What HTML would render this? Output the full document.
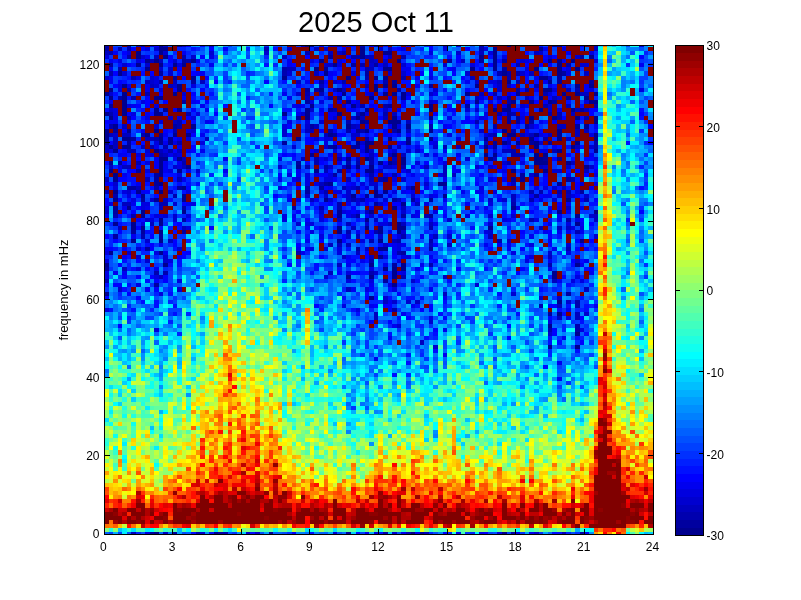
<!DOCTYPE html>
<html><head><meta charset="utf-8"><title>2025 Oct 11</title>
<style>
html,body{margin:0;padding:0;background:#fff;}
body{width:801px;height:600px;overflow:hidden;position:relative;}
svg{position:absolute;left:0;top:0;display:block;}
text{font-family:"Liberation Sans",Arial,sans-serif;font-size:12px;fill:#000;}
</style></head><body>
<svg width="801" height="600" viewBox="0 0 801 600">
<rect width="801" height="600" fill="#fff"/>
<defs><filter id="b" x="0" y="0" width="1" height="1"><feGaussianBlur stdDeviation="0.45"/></filter><clipPath id="c"><rect x="104" y="45" width="549" height="489"/></clipPath></defs>
<g clip-path="url(#c)"><g shape-rendering="crispEdges" filter="url(#b)"><path fill="#00008f" d="M154 532h5v2h-5zM214 532h4v2h-4zM411 532h4v2h-4zM502 532h5v2h-5zM548 345h4v4h-4zM575 345h5v4h-5zM575 332h5v4h-5zM548 324h4v4h-4zM557 312h5v4h-5zM557 300h5v4h-5zM369 296h5v4h-5zM104 292h5v4h-5zM392 283h5v4h-5zM369 275h5v4h-5zM392 275h5v4h-5zM552 275h5v4h-5zM392 271h5v4h-5zM552 271h5v4h-5zM383 267h5v4h-5zM392 267h5v4h-5zM401 267h5v4h-5zM104 263h5v4h-5zM163 263h5v4h-5zM369 263h5v4h-5zM401 263h5v4h-5zM575 263h5v4h-5zM378 255h5v4h-5zM109 251h4v4h-4zM159 251h4v4h-4zM378 247h10v4h-10zM131 239h5v4h-5zM159 239h4v4h-4zM337 239h5v4h-5zM378 239h5v4h-5zM580 239h4v4h-4zM159 230h4v4h-4zM337 230h5v4h-5zM378 230h5v4h-5zM397 230h4v4h-4zM131 226h5v4h-5zM141 226h4v4h-4zM337 226h5v4h-5zM365 226h4v4h-4zM397 226h9v4h-9zM488 226h5v4h-5zM113 222h5v4h-5zM131 222h5v4h-5zM159 222h4v4h-4zM397 222h4v4h-4zM575 222h5v4h-5zM159 218h4v4h-4zM365 218h4v4h-4zM141 214h4v4h-4zM337 214h5v4h-5zM575 214h5v4h-5zM141 210h4v4h-4zM182 210h4v4h-4zM337 210h5v4h-5zM369 210h5v4h-5zM557 210h5v4h-5zM594 210h4v4h-4zM113 206h5v4h-5zM127 206h4v4h-4zM392 206h5v4h-5zM511 206h5v4h-5zM401 202h5v4h-5zM113 198h5v4h-5zM154 198h5v4h-5zM182 198h4v4h-4zM324 198h4v4h-4zM566 198h5v4h-5zM141 194h4v4h-4zM182 194h4v4h-4zM351 194h5v4h-5zM374 194h4v4h-4zM443 194h4v4h-4zM113 190h5v4h-5zM136 190h5v4h-5zM159 190h4v4h-4zM374 190h4v4h-4zM383 190h5v4h-5zM182 186h4v4h-4zM411 186h4v4h-4zM159 182h4v4h-4zM328 182h5v4h-5zM438 182h9v4h-9zM557 182h5v4h-5zM113 177h5v5h-5zM113 173h5v4h-5zM159 173h4v4h-4zM109 169h4v4h-4zM159 169h4v4h-4zM177 169h5v4h-5zM314 169h5v4h-5zM365 169h9v4h-9zM511 169h5v4h-5zM543 169h5v4h-5zM159 165h4v4h-4zM186 165h5v4h-5zM296 165h5v4h-5zM346 165h5v4h-5zM356 165h4v4h-4zM369 165h5v4h-5zM584 165h5v4h-5zM109 161h4v4h-4zM159 161h4v4h-4zM378 161h5v4h-5zM388 161h4v4h-4zM401 161h5v4h-5zM534 161h14v4h-14zM566 161h5v4h-5zM159 157h9v4h-9zM177 157h5v4h-5zM346 157h5v4h-5zM365 157h4v4h-4zM401 157h5v4h-5zM488 157h5v4h-5zM534 157h9v4h-9zM310 153h4v4h-4zM392 153h5v4h-5zM484 153h4v4h-4zM493 153h4v4h-4zM534 153h5v4h-5zM543 153h5v4h-5zM113 149h5v4h-5zM154 149h5v4h-5zM365 149h4v4h-4zM557 149h5v4h-5zM594 149h4v4h-4zM109 145h4v4h-4zM122 145h9v4h-9zM333 145h4v4h-4zM365 145h4v4h-4zM388 145h4v4h-4zM484 145h4v4h-4zM534 145h5v4h-5zM571 145h4v4h-4zM104 141h5v4h-5zM159 141h4v4h-4zM168 141h5v4h-5zM356 141h4v4h-4zM365 141h9v4h-9zM406 141h5v4h-5zM502 141h5v4h-5zM516 141h4v4h-4zM534 141h5v4h-5zM575 141h5v4h-5zM104 137h5v4h-5zM122 137h9v4h-9zM159 137h4v4h-4zM168 137h5v4h-5zM296 137h5v4h-5zM388 137h4v4h-4zM429 137h4v4h-4zM484 137h4v4h-4zM529 137h5v4h-5zM557 137h5v4h-5zM594 137h4v4h-4zM104 133h5v4h-5zM145 133h5v4h-5zM173 133h4v4h-4zM186 133h5v4h-5zM328 133h5v4h-5zM507 133h9v4h-9zM534 133h5v4h-5zM557 133h5v4h-5zM594 133h4v4h-4zM104 129h5v4h-5zM127 129h4v4h-4zM154 129h5v4h-5zM365 129h4v4h-4zM397 129h4v4h-4zM429 129h4v4h-4zM502 129h5v4h-5zM557 129h5v4h-5zM113 124h5v5h-5zM191 124h5v5h-5zM346 124h5v5h-5zM392 124h5v5h-5zM406 124h5v5h-5zM584 124h5v5h-5zM360 120h5v4h-5zM388 120h13v4h-13zM594 120h4v4h-4zM109 116h4v4h-4zM305 116h5v4h-5zM356 116h4v4h-4zM392 116h5v4h-5zM429 116h4v4h-4zM529 116h5v4h-5zM552 116h5v4h-5zM575 116h5v4h-5zM594 116h4v4h-4zM104 112h5v4h-5zM122 112h5v4h-5zM154 112h9v4h-9zM282 112h5v4h-5zM305 112h5v4h-5zM337 112h5v4h-5zM360 112h5v4h-5zM122 108h5v4h-5zM154 108h5v4h-5zM163 108h5v4h-5zM177 108h5v4h-5zM305 108h5v4h-5zM365 108h4v4h-4zM429 108h4v4h-4zM493 108h4v4h-4zM502 108h9v4h-9zM539 108h4v4h-4zM571 108h4v4h-4zM122 104h5v4h-5zM310 104h4v4h-4zM351 104h5v4h-5zM429 104h4v4h-4zM507 104h4v4h-4zM122 100h5v4h-5zM346 100h5v4h-5zM475 100h4v4h-4zM511 100h5v4h-5zM529 100h5v4h-5zM548 100h4v4h-4zM589 100h9v4h-9zM109 96h4v4h-4zM122 96h5v4h-5zM154 96h9v4h-9zM369 96h5v4h-5zM401 96h5v4h-5zM539 96h4v4h-4zM566 96h5v4h-5zM584 96h5v4h-5zM104 92h5v4h-5zM122 92h5v4h-5zM173 92h4v4h-4zM342 92h4v4h-4zM383 92h5v4h-5zM392 92h5v4h-5zM401 92h5v4h-5zM465 92h5v4h-5zM516 92h4v4h-4zM562 92h4v4h-4zM575 92h5v4h-5zM594 92h4v4h-4zM109 88h4v4h-4zM177 88h5v4h-5zM319 88h5v4h-5zM337 88h5v4h-5zM374 88h4v4h-4zM543 88h9v4h-9zM122 84h5v4h-5zM177 84h5v4h-5zM374 84h4v4h-4zM383 84h5v4h-5zM392 84h5v4h-5zM475 84h4v4h-4zM575 84h5v4h-5zM589 84h5v4h-5zM507 80h4v4h-4zM548 80h4v4h-4zM191 76h5v4h-5zM282 76h5v4h-5zM346 76h5v4h-5zM374 76h4v4h-4zM383 76h5v4h-5zM539 76h9v4h-9zM118 71h4v5h-4zM324 71h4v5h-4zM502 71h5v5h-5zM557 71h5v5h-5zM145 67h5v4h-5zM314 67h5v4h-5zM383 67h9v4h-9zM470 67h5v4h-5zM493 67h4v4h-4zM534 67h5v4h-5zM557 67h5v4h-5zM575 67h5v4h-5zM136 63h5v4h-5zM159 63h4v4h-4zM173 63h4v4h-4zM182 63h4v4h-4zM333 63h4v4h-4zM493 63h4v4h-4zM557 63h5v4h-5zM145 59h5v4h-5zM154 59h5v4h-5zM191 59h5v4h-5zM319 59h5v4h-5zM397 59h4v4h-4zM493 59h4v4h-4zM548 59h4v4h-4zM557 59h5v4h-5zM571 59h4v4h-4zM136 55h5v4h-5zM163 55h5v4h-5zM360 55h5v4h-5zM479 55h5v4h-5zM493 55h4v4h-4zM589 55h5v4h-5zM136 51h5v4h-5zM159 51h4v4h-4zM360 51h5v4h-5zM383 51h9v4h-9zM493 51h4v4h-4zM159 47h9v4h-9zM360 47h5v4h-5zM493 47h4v4h-4zM539 47h4v4h-4zM159 45h4v2h-4zM177 45h5v2h-5zM305 45h9v2h-9zM507 45h4v2h-4zM557 45h5v2h-5z"/><path fill="#00009f" d="M150 532h4v2h-4zM173 532h4v2h-4zM269 532h4v2h-4zM346 532h5v2h-5zM420 532h4v2h-4zM548 312h4v4h-4zM566 292h5v4h-5zM154 283h5v4h-5zM383 279h5v4h-5zM346 275h5v4h-5zM104 267h5v4h-5zM392 263h5v4h-5zM401 251h5v4h-5zM145 247h5v4h-5zM356 247h4v4h-4zM429 247h4v4h-4zM113 234h5v5h-5zM159 234h4v5h-4zM131 230h5v4h-5zM141 230h4v4h-4zM182 230h4v4h-4zM378 226h5v4h-5zM566 218h5v4h-5zM356 214h4v4h-4zM401 214h5v4h-5zM429 214h4v4h-4zM113 210h5v4h-5zM374 202h4v4h-4zM141 198h4v4h-4zM392 198h5v4h-5zM411 198h4v4h-4zM429 198h4v4h-4zM365 194h4v4h-4zM378 194h5v4h-5zM534 194h5v4h-5zM305 190h5v4h-5zM580 190h4v4h-4zM127 186h9v4h-9zM177 186h5v4h-5zM319 186h5v4h-5zM154 182h5v4h-5zM324 182h4v4h-4zM154 177h5v5h-5zM383 177h5v5h-5zM511 177h5v5h-5zM520 177h5v5h-5zM566 177h5v5h-5zM154 173h5v4h-5zM333 173h4v4h-4zM520 173h5v4h-5zM534 173h5v4h-5zM136 169h5v4h-5zM118 161h4v4h-4zM296 161h5v4h-5zM543 157h5v4h-5zM557 157h5v4h-5zM328 145h5v4h-5zM351 145h9v4h-9zM493 145h4v4h-4zM127 141h4v4h-4zM282 141h5v4h-5zM493 141h4v4h-4zM529 141h5v4h-5zM548 141h4v4h-4zM131 137h5v4h-5zM406 137h5v4h-5zM159 133h4v4h-4zM333 133h4v4h-4zM113 129h5v4h-5zM356 129h4v4h-4zM173 124h4v5h-4zM310 124h4v5h-4zM525 124h4v5h-4zM575 124h5v5h-5zM365 120h4v4h-4zM507 120h4v4h-4zM516 120h4v4h-4zM529 120h5v4h-5zM296 116h5v4h-5zM507 116h4v4h-4zM516 116h4v4h-4zM507 112h4v4h-4zM328 108h5v4h-5zM580 108h4v4h-4zM109 104h4v4h-4zM388 104h4v4h-4zM465 104h5v4h-5zM182 100h4v4h-4zM305 100h5v4h-5zM552 100h5v4h-5zM337 96h5v4h-5zM507 96h4v4h-4zM305 88h5v4h-5zM516 88h4v4h-4zM429 84h4v4h-4zM191 80h5v4h-5zM319 80h5v4h-5zM392 80h5v4h-5zM557 80h5v4h-5zM589 80h5v4h-5zM173 76h4v4h-4zM557 76h5v4h-5zM159 71h4v5h-4zM365 71h4v5h-4zM562 71h4v5h-4zM324 67h4v4h-4zM502 67h5v4h-5zM109 63h4v4h-4zM351 63h5v4h-5zM374 63h4v4h-4zM182 59h4v4h-4zM447 59h5v4h-5zM479 59h5v4h-5zM502 59h5v4h-5zM328 55h5v4h-5zM580 55h4v4h-4zM104 47h5v4h-5zM552 45h5v2h-5z"/><path fill="#0000af" d="M196 532h4v2h-4zM218 532h10v2h-10zM383 532h5v2h-5zM511 532h5v2h-5zM580 532h4v2h-4zM548 328h4v4h-4zM575 328h5v4h-5zM575 324h5v4h-5zM392 308h5v4h-5zM539 304h4v4h-4zM575 304h5v4h-5zM575 300h5v4h-5zM104 279h5v4h-5zM401 275h5v4h-5zM154 271h5v4h-5zM163 271h5v4h-5zM369 271h5v4h-5zM429 263h4v4h-4zM548 263h4v4h-4zM369 259h5v4h-5zM296 251h5v4h-5zM397 251h4v4h-4zM566 247h5v4h-5zM369 239h5v4h-5zM397 239h4v4h-4zM429 239h4v4h-4zM497 239h5v4h-5zM141 234h4v5h-4zM401 234h5v5h-5zM346 230h5v4h-5zM374 230h4v4h-4zM575 230h5v4h-5zM429 226h4v4h-4zM182 218h4v4h-4zM529 218h5v4h-5zM113 214h5v4h-5zM131 214h5v4h-5zM424 214h5v4h-5zM182 206h4v4h-4zM292 206h4v4h-4zM319 206h5v4h-5zM337 206h5v4h-5zM159 202h9v4h-9zM337 202h5v4h-5zM511 202h5v4h-5zM351 198h5v4h-5zM360 198h5v4h-5zM529 198h5v4h-5zM584 198h5v4h-5zM113 194h5v4h-5zM173 194h4v4h-4zM324 190h4v4h-4zM529 190h5v4h-5zM539 190h4v4h-4zM557 190h5v4h-5zM566 190h5v4h-5zM154 186h5v4h-5zM305 186h5v4h-5zM342 186h4v4h-4zM356 186h4v4h-4zM177 177h5v5h-5zM378 177h5v5h-5zM571 177h4v5h-4zM369 173h5v4h-5zM392 173h5v4h-5zM337 169h5v4h-5zM305 165h5v4h-5zM324 165h4v4h-4zM401 165h5v4h-5zM136 161h5v4h-5zM182 161h4v4h-4zM314 161h5v4h-5zM346 161h5v4h-5zM356 161h4v4h-4zM369 161h5v4h-5zM392 161h5v4h-5zM507 161h4v4h-4zM314 157h5v4h-5zM337 157h5v4h-5zM369 157h5v4h-5zM159 153h4v4h-4zM511 153h9v4h-9zM127 149h9v4h-9zM168 149h5v4h-5zM511 149h5v4h-5zM552 149h5v4h-5zM150 145h4v4h-4zM163 145h5v4h-5zM443 145h4v4h-4zM594 145h4v4h-4zM177 141h5v4h-5zM594 141h4v4h-4zM154 137h5v4h-5zM365 137h4v4h-4zM543 137h5v4h-5zM141 133h4v4h-4zM493 133h4v4h-4zM173 129h4v4h-4zM328 129h5v4h-5zM346 129h5v4h-5zM360 129h5v4h-5zM392 129h5v4h-5zM511 129h5v4h-5zM109 124h4v5h-4zM177 124h5v5h-5zM429 124h4v5h-4zM493 124h4v5h-4zM177 120h5v4h-5zM346 120h5v4h-5zM475 120h4v4h-4zM127 116h4v4h-4zM557 116h5v4h-5zM584 116h5v4h-5zM109 112h4v4h-4zM186 112h5v4h-5zM383 112h5v4h-5zM497 112h5v4h-5zM511 112h5v4h-5zM548 112h4v4h-4zM557 112h5v4h-5zM333 108h4v4h-4zM360 104h5v4h-5zM383 104h5v4h-5zM543 104h5v4h-5zM594 104h4v4h-4zM507 100h4v4h-4zM118 96h4v4h-4zM131 96h5v4h-5zM328 96h5v4h-5zM145 92h5v4h-5zM305 92h5v4h-5zM493 92h4v4h-4zM543 92h5v4h-5zM127 88h4v4h-4zM314 88h5v4h-5zM397 88h4v4h-4zM525 88h4v4h-4zM575 88h5v4h-5zM365 84h4v4h-4zM534 84h5v4h-5zM159 80h4v4h-4zM342 80h4v4h-4zM383 80h5v4h-5zM516 80h4v4h-4zM131 76h5v4h-5zM365 76h4v4h-4zM401 76h5v4h-5zM507 76h4v4h-4zM109 71h4v5h-4zM282 71h5v5h-5zM497 71h5v5h-5zM507 71h4v5h-4zM516 71h4v5h-4zM118 67h4v4h-4zM282 67h5v4h-5zM365 67h4v4h-4zM360 63h5v4h-5zM516 63h4v4h-4zM566 63h5v4h-5zM186 59h5v4h-5zM127 55h4v4h-4zM182 55h4v4h-4zM351 55h9v4h-9zM401 55h5v4h-5zM109 51h4v4h-4zM305 51h5v4h-5zM342 51h4v4h-4zM118 47h4v4h-4zM127 47h4v4h-4zM264 47h5v4h-5zM479 47h5v4h-5zM104 45h5v2h-5zM127 45h4v2h-4zM141 45h4v2h-4zM360 45h5v2h-5zM479 45h5v2h-5z"/><path fill="#0000bf" d="M131 532h5v2h-5zM163 532h5v2h-5zM406 532h5v2h-5zM424 532h5v2h-5zM562 532h4v2h-4zM420 340h4v5h-4zM374 316h4v4h-4zM557 316h5v4h-5zM575 316h5v4h-5zM374 312h4v4h-4zM575 312h5v4h-5zM557 304h5v4h-5zM383 300h5v4h-5zM415 300h5v4h-5zM443 292h4v4h-4zM346 287h5v5h-5zM584 287h5v5h-5zM552 279h5v4h-5zM159 275h4v4h-4zM443 275h4v4h-4zM328 271h5v4h-5zM122 267h5v4h-5zM337 263h5v4h-5zM342 255h4v4h-4zM369 255h5v4h-5zM548 255h4v4h-4zM356 251h4v4h-4zM365 247h4v4h-4zM328 243h5v4h-5zM337 243h5v4h-5zM346 243h5v4h-5zM429 243h4v4h-4zM447 243h5v4h-5zM168 239h5v4h-5zM392 239h5v4h-5zM356 234h4v5h-4zM433 234h5v5h-5zM488 234h5v5h-5zM118 226h4v4h-4zM182 226h4v4h-4zM351 226h5v4h-5zM539 226h4v4h-4zM557 226h5v4h-5zM566 226h5v4h-5zM150 222h4v4h-4zM346 222h5v4h-5zM388 222h4v4h-4zM401 222h5v4h-5zM429 222h4v4h-4zM337 218h5v4h-5zM374 218h4v4h-4zM594 218h4v4h-4zM594 214h4v4h-4zM104 210h5v4h-5zM365 210h4v4h-4zM159 206h4v4h-4zM401 206h5v4h-5zM566 206h5v4h-5zM122 202h9v4h-9zM415 202h5v4h-5zM163 198h5v4h-5zM310 198h4v4h-4zM397 198h4v4h-4zM511 198h5v4h-5zM511 194h5v4h-5zM566 194h5v4h-5zM104 190h5v4h-5zM136 186h5v4h-5zM374 186h4v4h-4zM562 186h4v4h-4zM319 182h5v4h-5zM511 182h5v4h-5zM104 177h5v5h-5zM145 177h5v5h-5zM346 177h5v5h-5zM369 177h5v5h-5zM443 173h4v4h-4zM452 173h4v4h-4zM324 169h4v4h-4zM443 169h4v4h-4zM584 169h5v4h-5zM109 165h4v4h-4zM122 165h9v4h-9zM182 165h4v4h-4zM424 165h5v4h-5zM443 165h4v4h-4zM539 165h4v4h-4zM571 161h4v4h-4zM182 157h4v4h-4zM301 157h4v4h-4zM356 157h4v4h-4zM392 157h5v4h-5zM493 157h4v4h-4zM163 153h5v4h-5zM369 153h5v4h-5zM388 153h4v4h-4zM401 153h5v4h-5zM520 153h5v4h-5zM104 149h5v4h-5zM159 149h4v4h-4zM177 149h5v4h-5zM502 149h9v4h-9zM104 145h5v4h-5zM113 145h5v4h-5zM141 145h4v4h-4zM397 145h4v4h-4zM456 145h5v4h-5zM575 145h5v4h-5zM113 141h5v4h-5zM475 141h4v4h-4zM484 141h4v4h-4zM507 141h4v4h-4zM113 137h5v4h-5zM145 137h9v4h-9zM205 137h4v4h-4zM109 133h4v4h-4zM122 133h9v4h-9zM324 133h4v4h-4zM488 133h5v4h-5zM520 133h5v4h-5zM529 133h5v4h-5zM548 133h4v4h-4zM575 133h5v4h-5zM305 129h9v4h-9zM406 129h5v4h-5zM575 129h5v4h-5zM584 129h5v4h-5zM122 124h5v5h-5zM314 124h5v5h-5zM351 124h5v5h-5zM557 124h9v5h-9zM173 120h4v4h-4zM406 120h5v4h-5zM360 116h5v4h-5zM383 116h5v4h-5zM356 112h4v4h-4zM392 112h5v4h-5zM571 112h4v4h-4zM575 108h5v4h-5zM584 108h5v4h-5zM566 104h5v4h-5zM305 96h5v4h-5zM475 96h4v4h-4zM497 96h5v4h-5zM525 96h4v4h-4zM552 96h5v4h-5zM319 92h5v4h-5zM479 92h5v4h-5zM580 92h9v4h-9zM333 88h4v4h-4zM342 88h4v4h-4zM566 88h5v4h-5zM150 84h4v4h-4zM168 84h5v4h-5zM319 84h5v4h-5zM507 84h4v4h-4zM145 80h5v4h-5zM173 80h4v4h-4zM200 80h5v4h-5zM296 80h5v4h-5zM497 80h5v4h-5zM470 76h5v4h-5zM314 71h5v5h-5zM529 71h5v5h-5zM584 71h5v5h-5zM287 67h9v4h-9zM369 67h5v4h-5zM383 63h5v4h-5zM150 59h4v4h-4zM159 59h4v4h-4zM369 59h5v4h-5zM461 59h4v4h-4zM154 55h5v4h-5zM282 55h5v4h-5zM365 55h9v4h-9zM388 55h4v4h-4zM104 51h5v4h-5zM328 51h5v4h-5zM479 51h5v4h-5zM534 51h5v4h-5zM314 47h5v4h-5zM388 47h4v4h-4zM594 47h4v4h-4zM182 45h4v2h-4zM301 45h4v2h-4zM337 45h5v2h-5zM374 45h4v2h-4zM594 45h4v2h-4z"/><path fill="#0000cf" d="M200 532h5v2h-5zM246 532h4v2h-4zM255 532h5v2h-5zM333 532h4v2h-4zM392 532h5v2h-5zM534 532h5v2h-5zM433 345h5v4h-5zM548 332h4v4h-4zM397 324h4v4h-4zM429 320h4v4h-4zM584 312h5v4h-5zM392 300h5v4h-5zM406 300h5v4h-5zM566 300h5v4h-5zM383 296h5v4h-5zM539 296h4v4h-4zM557 296h5v4h-5zM511 292h5v4h-5zM118 287h4v5h-4zM177 287h5v5h-5zM475 283h4v4h-4zM411 279h4v4h-4zM324 275h4v4h-4zM374 271h4v4h-4zM145 259h5v4h-5zM163 259h5v4h-5zM575 259h5v4h-5zM136 255h5v4h-5zM163 255h5v4h-5zM127 251h4v4h-4zM548 251h4v4h-4zM136 247h5v4h-5zM177 247h5v4h-5zM324 247h4v4h-4zM383 243h5v4h-5zM566 243h5v4h-5zM145 239h5v4h-5zM507 239h4v4h-4zM346 234h5v5h-5zM378 234h5v5h-5zM447 234h5v5h-5zM594 234h4v5h-4zM401 230h5v4h-5zM488 230h5v4h-5zM296 222h5v4h-5zM365 222h4v4h-4zM488 222h5v4h-5zM145 218h5v4h-5zM173 218h4v4h-4zM447 218h5v4h-5zM163 214h5v4h-5zM173 214h4v4h-4zM351 214h5v4h-5zM369 214h5v4h-5zM488 214h5v4h-5zM511 214h5v4h-5zM589 214h5v4h-5zM319 210h5v4h-5zM401 210h5v4h-5zM104 206h5v4h-5zM173 202h4v4h-4zM378 202h5v4h-5zM150 198h4v4h-4zM328 198h5v4h-5zM346 198h5v4h-5zM356 198h4v4h-4zM383 198h5v4h-5zM488 198h5v4h-5zM502 198h5v4h-5zM552 198h5v4h-5zM305 194h5v4h-5zM324 194h4v4h-4zM346 194h5v4h-5zM411 194h4v4h-4zM557 194h5v4h-5zM584 194h5v4h-5zM127 190h4v4h-4zM168 190h5v4h-5zM346 190h5v4h-5zM351 186h5v4h-5zM406 186h5v4h-5zM443 186h4v4h-4zM552 186h5v4h-5zM113 182h5v4h-5zM369 182h9v4h-9zM424 182h5v4h-5zM580 182h4v4h-4zM296 177h5v5h-5zM401 177h5v5h-5zM529 173h5v4h-5zM196 169h4v4h-4zM378 169h5v4h-5zM406 169h5v4h-5zM552 169h10v4h-10zM173 165h4v4h-4zM278 165h4v4h-4zM328 165h5v4h-5zM342 165h4v4h-4zM383 165h9v4h-9zM475 165h4v4h-4zM488 165h5v4h-5zM543 165h5v4h-5zM566 165h5v4h-5zM589 165h5v4h-5zM502 161h5v4h-5zM324 157h4v4h-4zM465 157h5v4h-5zM173 153h4v4h-4zM145 149h5v4h-5zM314 149h5v4h-5zM369 149h5v4h-5zM392 149h5v4h-5zM406 149h5v4h-5zM415 149h5v4h-5zM292 145h4v4h-4zM324 145h4v4h-4zM433 145h5v4h-5zM589 145h5v4h-5zM360 141h5v4h-5zM539 141h4v4h-4zM314 137h5v4h-5zM507 137h4v4h-4zM566 137h5v4h-5zM113 133h5v4h-5zM282 133h5v4h-5zM351 133h9v4h-9zM191 129h5v4h-5zM282 129h5v4h-5zM479 129h5v4h-5zM154 124h5v5h-5zM305 124h5v5h-5zM356 124h4v5h-4zM529 124h5v5h-5zM319 120h5v4h-5zM168 116h5v4h-5zM333 116h4v4h-4zM351 116h5v4h-5zM301 112h4v4h-4zM109 108h4v4h-4zM310 108h4v4h-4zM383 108h5v4h-5zM465 108h5v4h-5zM475 108h4v4h-4zM548 108h4v4h-4zM342 104h4v4h-4zM520 104h5v4h-5zM548 104h4v4h-4zM429 100h4v4h-4zM109 92h4v4h-4zM182 92h4v4h-4zM296 92h5v4h-5zM369 92h5v4h-5zM429 92h4v4h-4zM433 88h5v4h-5zM497 88h5v4h-5zM154 84h5v4h-5zM173 84h4v4h-4zM497 84h5v4h-5zM562 84h4v4h-4zM150 80h4v4h-4zM333 80h4v4h-4zM475 80h4v4h-4zM104 76h5v4h-5zM150 76h4v4h-4zM548 76h4v4h-4zM122 71h5v5h-5zM168 71h5v5h-5zM287 71h5v5h-5zM388 71h4v5h-4zM401 71h5v5h-5zM465 71h5v5h-5zM520 71h5v5h-5zM159 67h4v4h-4zM168 67h5v4h-5zM122 63h5v4h-5zM145 63h5v4h-5zM324 63h9v4h-9zM369 63h5v4h-5zM401 63h5v4h-5zM443 63h4v4h-4zM580 63h9v4h-9zM173 59h4v4h-4zM374 59h4v4h-4zM383 59h5v4h-5zM520 59h5v4h-5zM594 59h4v4h-4zM141 55h4v4h-4zM191 55h5v4h-5zM548 55h4v4h-4zM575 55h5v4h-5zM163 51h5v4h-5zM209 51h5v4h-5zM264 51h5v4h-5zM337 51h5v4h-5zM456 51h5v4h-5zM539 51h4v4h-4zM154 47h5v4h-5zM287 47h5v4h-5zM324 47h4v4h-4zM378 47h5v4h-5zM136 45h5v2h-5zM163 45h5v2h-5zM209 45h5v2h-5zM328 45h9v2h-9zM443 45h4v2h-4z"/><path fill="#0000df" d="M145 532h5v2h-5zM374 532h4v2h-4zM497 532h5v2h-5zM154 328h5v4h-5zM580 328h4v4h-4zM548 320h4v4h-4zM429 316h4v4h-4zM566 316h5v4h-5zM104 308h5v4h-5zM356 308h4v4h-4zM342 304h4v4h-4zM159 292h4v4h-4zM365 287h4v5h-4zM392 287h5v5h-5zM136 283h5v4h-5zM388 283h4v4h-4zM177 279h5v4h-5zM346 279h5v4h-5zM369 279h5v4h-5zM571 279h4v4h-4zM580 279h4v4h-4zM104 275h5v4h-5zM154 275h5v4h-5zM575 275h5v4h-5zM104 271h5v4h-5zM346 271h5v4h-5zM401 271h5v4h-5zM136 267h5v4h-5zM369 267h5v4h-5zM104 259h5v4h-5zM168 259h5v4h-5zM397 259h4v4h-4zM525 259h4v4h-4zM383 255h5v4h-5zM401 255h10v4h-10zM529 255h5v4h-5zM104 251h5v4h-5zM154 251h5v4h-5zM337 251h5v4h-5zM511 251h5v4h-5zM566 251h5v4h-5zM310 247h4v4h-4zM337 247h5v4h-5zM397 247h4v4h-4zM397 243h4v4h-4zM529 243h5v4h-5zM360 239h5v4h-5zM319 234h5v5h-5zM397 234h4v5h-4zM310 230h4v4h-4zM484 230h4v4h-4zM186 226h5v4h-5zM571 226h4v4h-4zM580 226h4v4h-4zM141 222h4v4h-4zM305 222h9v4h-9zM378 222h10v4h-10zM548 222h4v4h-4zM566 222h5v4h-5zM150 218h4v4h-4zM282 218h5v4h-5zM319 218h5v4h-5zM502 218h5v4h-5zM534 218h5v4h-5zM575 218h5v4h-5zM154 214h9v4h-9zM186 214h5v4h-5zM282 214h5v4h-5zM319 214h5v4h-5zM411 214h4v4h-4zM465 214h5v4h-5zM342 210h4v4h-4zM433 210h5v4h-5zM141 206h4v4h-4zM109 202h4v4h-4zM141 202h9v4h-9zM191 202h5v4h-5zM356 202h4v4h-4zM424 202h5v4h-5zM488 202h5v4h-5zM131 198h5v4h-5zM296 198h5v4h-5zM539 198h4v4h-4zM127 194h4v4h-4zM429 194h4v4h-4zM571 194h4v4h-4zM122 190h5v4h-5zM186 190h5v4h-5zM319 190h5v4h-5zM333 190h9v4h-9zM392 190h5v4h-5zM411 190h4v4h-4zM493 190h4v4h-4zM575 190h5v4h-5zM113 186h5v4h-5zM278 186h4v4h-4zM346 186h5v4h-5zM365 186h4v4h-4zM479 186h5v4h-5zM543 186h5v4h-5zM305 182h5v4h-5zM314 182h5v4h-5zM360 182h5v4h-5zM594 182h4v4h-4zM305 177h5v5h-5zM324 177h9v5h-9zM392 177h5v5h-5zM488 177h5v5h-5zM177 173h5v4h-5zM287 173h5v4h-5zM305 173h5v4h-5zM314 173h5v4h-5zM328 173h5v4h-5zM383 173h5v4h-5zM438 173h5v4h-5zM594 173h4v4h-4zM145 169h5v4h-5zM168 169h5v4h-5zM346 169h5v4h-5zM502 169h5v4h-5zM136 165h5v4h-5zM177 165h5v4h-5zM392 165h5v4h-5zM145 161h5v4h-5zM415 161h5v4h-5zM443 161h4v4h-4zM520 161h5v4h-5zM278 157h4v4h-4zM594 157h4v4h-4zM136 153h5v4h-5zM145 153h9v4h-9zM177 153h5v4h-5zM337 153h5v4h-5zM424 153h5v4h-5zM109 149h4v4h-4zM163 149h5v4h-5zM333 149h4v4h-4zM360 149h5v4h-5zM493 149h4v4h-4zM539 149h9v4h-9zM516 145h4v4h-4zM154 141h5v4h-5zM173 141h4v4h-4zM200 141h5v4h-5zM324 141h4v4h-4zM433 141h5v4h-5zM177 137h5v4h-5zM186 137h5v4h-5zM324 137h9v4h-9zM351 137h5v4h-5zM456 137h5v4h-5zM447 133h5v4h-5zM484 133h4v4h-4zM525 133h4v4h-4zM539 133h4v4h-4zM589 133h5v4h-5zM186 129h5v4h-5zM282 124h5v5h-5zM365 124h4v5h-4zM397 124h4v5h-4zM159 120h4v4h-4zM287 120h5v4h-5zM305 120h5v4h-5zM113 116h5v4h-5zM145 116h5v4h-5zM177 116h5v4h-5zM191 116h5v4h-5zM479 116h5v4h-5zM520 116h5v4h-5zM113 112h5v4h-5zM131 112h5v4h-5zM196 112h4v4h-4zM365 112h4v4h-4zM484 112h4v4h-4zM113 108h5v4h-5zM127 104h4v4h-4zM154 104h5v4h-5zM296 104h5v4h-5zM356 104h4v4h-4zM502 104h5v4h-5zM525 104h4v4h-4zM141 100h4v4h-4zM150 100h4v4h-4zM310 100h4v4h-4zM319 100h5v4h-5zM356 100h4v4h-4zM433 100h5v4h-5zM584 100h5v4h-5zM479 96h5v4h-5zM557 96h5v4h-5zM365 92h4v4h-4zM406 92h5v4h-5zM507 92h4v4h-4zM548 92h4v4h-4zM118 88h4v4h-4zM159 88h4v4h-4zM552 88h5v4h-5zM589 88h5v4h-5zM639 88h5v4h-5zM118 84h4v4h-4zM191 84h5v4h-5zM154 80h5v4h-5zM488 80h9v4h-9zM136 76h5v4h-5zM154 76h5v4h-5zM429 76h4v4h-4zM351 71h5v5h-5zM566 71h5v5h-5zM525 67h4v4h-4zM566 67h5v4h-5zM177 63h5v4h-5zM337 63h5v4h-5zM470 63h5v4h-5zM118 59h4v4h-4zM136 59h5v4h-5zM310 59h4v4h-4zM337 59h5v4h-5zM516 59h4v4h-4zM525 59h4v4h-4zM104 55h5v4h-5zM209 55h5v4h-5zM502 55h5v4h-5zM127 51h4v4h-4zM429 51h4v4h-4zM488 51h5v4h-5zM589 51h5v4h-5zM145 47h5v4h-5zM401 47h5v4h-5zM443 47h4v4h-4zM484 47h4v4h-4zM562 47h4v4h-4zM150 45h4v2h-4zM346 45h5v2h-5zM456 45h5v2h-5zM580 45h4v2h-4zM639 45h5v2h-5z"/><path fill="#0000ef" d="M365 532h4v2h-4zM401 532h5v2h-5zM415 532h5v2h-5zM456 532h5v2h-5zM479 532h5v2h-5zM516 532h4v2h-4zM529 532h5v2h-5zM584 532h5v2h-5zM557 377h5v4h-5zM557 361h5v4h-5zM374 357h4v4h-4zM443 353h4v4h-4zM388 336h4v4h-4zM562 336h4v4h-4zM443 328h4v4h-4zM392 324h5v4h-5zM369 320h5v4h-5zM401 312h5v4h-5zM388 308h4v4h-4zM566 308h5v4h-5zM369 304h5v4h-5zM411 304h4v4h-4zM594 304h4v4h-4zM388 300h4v4h-4zM443 296h4v4h-4zM145 287h5v5h-5zM351 287h5v5h-5zM429 287h4v5h-4zM369 283h5v4h-5zM557 279h5v4h-5zM113 271h5v4h-5zM122 271h5v4h-5zM397 271h4v4h-4zM589 271h5v4h-5zM154 267h5v4h-5zM415 267h5v4h-5zM548 267h4v4h-4zM346 263h5v4h-5zM383 263h5v4h-5zM420 263h4v4h-4zM580 263h4v4h-4zM360 259h5v4h-5zM548 259h4v4h-4zM584 259h5v4h-5zM122 255h5v4h-5zM177 255h5v4h-5zM346 255h5v4h-5zM429 255h4v4h-4zM163 251h5v4h-5zM301 251h4v4h-4zM392 251h5v4h-5zM104 247h5v4h-5zM122 247h5v4h-5zM296 247h5v4h-5zM305 247h5v4h-5zM392 247h5v4h-5zM507 247h4v4h-4zM552 247h5v4h-5zM159 243h4v4h-4zM392 243h5v4h-5zM401 243h5v4h-5zM484 243h4v4h-4zM497 243h5v4h-5zM507 243h4v4h-4zM305 239h5v4h-5zM548 239h4v4h-4zM131 234h5v5h-5zM420 234h4v5h-4zM429 234h4v5h-4zM529 234h5v5h-5zM356 230h4v4h-4zM388 230h4v4h-4zM543 230h5v4h-5zM557 230h5v4h-5zM566 230h5v4h-5zM580 230h4v4h-4zM319 226h5v4h-5zM433 222h5v4h-5zM580 222h4v4h-4zM429 218h4v4h-4zM507 218h4v4h-4zM557 218h5v4h-5zM104 214h5v4h-5zM292 214h4v4h-4zM346 214h5v4h-5zM415 214h5v4h-5zM557 214h5v4h-5zM346 210h5v4h-5zM356 210h4v4h-4zM415 210h5v4h-5zM548 210h4v4h-4zM566 210h5v4h-5zM122 206h5v4h-5zM145 206h5v4h-5zM369 206h5v4h-5zM484 206h4v4h-4zM516 206h4v4h-4zM557 206h5v4h-5zM580 206h4v4h-4zM131 202h5v4h-5zM186 202h5v4h-5zM346 202h5v4h-5zM465 202h5v4h-5zM566 202h5v4h-5zM287 198h5v4h-5zM314 198h5v4h-5zM365 198h4v4h-4zM415 198h5v4h-5zM443 198h4v4h-4zM497 198h5v4h-5zM580 198h4v4h-4zM342 194h4v4h-4zM388 194h4v4h-4zM433 194h5v4h-5zM529 194h5v4h-5zM543 194h9v4h-9zM141 190h4v4h-4zM401 190h5v4h-5zM461 190h4v4h-4zM475 190h9v4h-9zM328 186h5v4h-5zM424 186h5v4h-5zM456 186h5v4h-5zM534 186h5v4h-5zM589 186h5v4h-5zM104 182h5v4h-5zM136 182h5v4h-5zM351 182h5v4h-5zM182 177h4v5h-4zM278 177h4v5h-4zM292 177h4v5h-4zM443 177h4v5h-4zM502 177h5v5h-5zM529 177h5v5h-5zM122 173h5v4h-5zM296 173h5v4h-5zM365 173h4v4h-4zM411 173h4v4h-4zM543 173h5v4h-5zM566 173h5v4h-5zM118 169h4v4h-4zM163 169h5v4h-5zM186 169h5v4h-5zM223 169h5v4h-5zM296 169h5v4h-5zM356 169h4v4h-4zM401 169h5v4h-5zM456 169h5v4h-5zM118 165h4v4h-4zM154 165h5v4h-5zM163 165h5v4h-5zM493 165h4v4h-4zM154 161h5v4h-5zM163 161h5v4h-5zM177 161h5v4h-5zM337 161h5v4h-5zM154 157h5v4h-5zM173 157h4v4h-4zM223 157h5v4h-5zM319 157h5v4h-5zM118 153h9v4h-9zM168 153h5v4h-5zM328 153h5v4h-5zM346 153h5v4h-5zM433 153h5v4h-5zM456 153h5v4h-5zM589 153h5v4h-5zM186 149h5v4h-5zM200 149h5v4h-5zM310 149h4v4h-4zM388 149h4v4h-4zM443 149h4v4h-4zM575 149h5v4h-5zM154 145h5v4h-5zM177 145h5v4h-5zM337 145h5v4h-5zM360 145h5v4h-5zM415 145h5v4h-5zM488 145h5v4h-5zM552 145h5v4h-5zM163 141h5v4h-5zM346 141h5v4h-5zM401 141h5v4h-5zM429 141h4v4h-4zM310 137h4v4h-4zM516 137h4v4h-4zM163 133h5v4h-5zM200 133h5v4h-5zM374 133h4v4h-4zM383 133h5v4h-5zM397 133h4v4h-4zM543 133h5v4h-5zM122 129h5v4h-5zM141 129h4v4h-4zM333 129h4v4h-4zM383 129h5v4h-5zM525 129h4v4h-4zM388 124h4v5h-4zM443 124h4v5h-4zM594 124h4v5h-4zM648 124h5v5h-5zM109 120h9v4h-9zM205 120h4v4h-4zM539 120h4v4h-4zM552 120h5v4h-5zM328 116h5v4h-5zM447 116h5v4h-5zM484 116h4v4h-4zM497 116h5v4h-5zM145 112h5v4h-5zM296 112h5v4h-5zM328 112h9v4h-9zM502 112h5v4h-5zM520 112h5v4h-5zM173 108h4v4h-4zM205 108h4v4h-4zM319 108h5v4h-5zM351 108h5v4h-5zM374 108h4v4h-4zM397 108h4v4h-4zM452 108h4v4h-4zM557 108h5v4h-5zM131 104h5v4h-5zM200 104h5v4h-5zM292 104h4v4h-4zM301 104h4v4h-4zM369 104h5v4h-5zM493 104h4v4h-4zM109 100h4v4h-4zM191 100h5v4h-5zM337 100h5v4h-5zM401 100h5v4h-5zM488 100h5v4h-5zM543 100h5v4h-5zM182 96h4v4h-4zM287 96h5v4h-5zM388 96h4v4h-4zM502 96h5v4h-5zM529 96h5v4h-5zM282 92h5v4h-5zM433 92h5v4h-5zM145 88h5v4h-5zM534 88h5v4h-5zM584 88h5v4h-5zM127 84h4v4h-4zM145 84h5v4h-5zM342 84h4v4h-4zM415 84h5v4h-5zM493 84h4v4h-4zM548 84h4v4h-4zM584 84h5v4h-5zM109 80h4v4h-4zM305 80h5v4h-5zM337 80h5v4h-5zM465 80h5v4h-5zM543 80h5v4h-5zM109 76h4v4h-4zM356 76h4v4h-4zM415 76h5v4h-5zM534 76h5v4h-5zM196 71h9v5h-9zM328 71h5v5h-5zM429 71h4v5h-4zM109 67h4v4h-4zM401 67h10v4h-10zM452 67h4v4h-4zM209 63h5v4h-5zM287 63h5v4h-5zM378 63h5v4h-5zM639 63h5v4h-5zM109 59h4v4h-4zM196 59h4v4h-4zM287 59h5v4h-5zM543 59h5v4h-5zM562 59h4v4h-4zM145 55h5v4h-5zM113 51h5v4h-5zM182 51h4v4h-4zM566 51h5v4h-5zM342 47h4v4h-4zM543 47h5v4h-5zM319 45h5v2h-5zM369 45h5v2h-5z"/><path fill="#0000ff" d="M292 532h4v2h-4zM443 532h4v2h-4zM484 532h4v2h-4zM580 340h4v5h-4zM507 336h4v4h-4zM552 332h5v4h-5zM433 328h5v4h-5zM552 328h5v4h-5zM118 324h4v4h-4zM388 320h4v4h-4zM406 316h5v4h-5zM443 316h4v4h-4zM548 316h4v4h-4zM580 316h4v4h-4zM420 308h4v4h-4zM429 308h4v4h-4zM314 304h5v4h-5zM374 304h4v4h-4zM383 304h9v4h-9zM429 304h4v4h-4zM548 304h9v4h-9zM104 296h5v4h-5zM136 296h5v4h-5zM365 296h4v4h-4zM127 292h4v4h-4zM397 292h4v4h-4zM154 287h5v5h-5zM369 287h5v5h-5zM113 283h9v4h-9zM154 279h5v4h-5zM163 279h5v4h-5zM122 275h5v4h-5zM136 275h5v4h-5zM150 275h4v4h-4zM163 275h5v4h-5zM420 275h4v4h-4zM562 275h4v4h-4zM337 271h5v4h-5zM351 271h9v4h-9zM516 271h4v4h-4zM145 267h5v4h-5zM456 267h5v4h-5zM520 267h5v4h-5zM589 267h5v4h-5zM118 263h4v4h-4zM287 263h5v4h-5zM136 259h5v4h-5zM346 259h10v4h-10zM433 259h5v4h-5zM571 259h4v4h-4zM182 255h4v4h-4zM319 255h5v4h-5zM365 255h4v4h-4zM392 255h5v4h-5zM415 255h5v4h-5zM525 255h4v4h-4zM182 251h9v4h-9zM365 251h4v4h-4zM109 247h4v4h-4zM150 247h4v4h-4zM520 247h5v4h-5zM575 247h5v4h-5zM584 247h5v4h-5zM150 243h4v4h-4zM173 243h4v4h-4zM296 243h5v4h-5zM388 243h4v4h-4zM433 243h5v4h-5zM548 243h4v4h-4zM580 243h4v4h-4zM113 239h5v4h-5zM173 239h4v4h-4zM319 239h5v4h-5zM342 239h4v4h-4zM575 239h5v4h-5zM589 239h5v4h-5zM104 234h5v5h-5zM150 234h4v5h-4zM342 234h4v5h-4zM365 234h9v5h-9zM548 234h4v5h-4zM118 230h4v4h-4zM296 230h5v4h-5zM369 230h5v4h-5zM520 230h5v4h-5zM548 230h4v4h-4zM136 226h5v4h-5zM209 226h5v4h-5zM305 226h5v4h-5zM177 222h5v4h-5zM589 222h5v4h-5zM136 218h5v4h-5zM292 218h4v4h-4zM305 218h5v4h-5zM383 218h5v4h-5zM580 218h4v4h-4zM365 214h4v4h-4zM378 214h5v4h-5zM443 214h4v4h-4zM122 210h5v4h-5zM131 210h5v4h-5zM296 210h5v4h-5zM351 210h5v4h-5zM470 210h5v4h-5zM511 210h5v4h-5zM529 210h5v4h-5zM639 210h5v4h-5zM136 206h5v4h-5zM351 206h5v4h-5zM548 206h4v4h-4zM104 202h5v4h-5zM182 202h4v4h-4zM328 202h5v4h-5zM365 202h4v4h-4zM383 202h5v4h-5zM392 202h9v4h-9zM557 202h5v4h-5zM104 198h5v4h-5zM118 198h4v4h-4zM369 198h5v4h-5zM594 198h4v4h-4zM136 194h5v4h-5zM273 194h5v4h-5zM287 194h5v4h-5zM539 194h4v4h-4zM575 194h5v4h-5zM145 190h5v4h-5zM406 190h5v4h-5zM420 190h4v4h-4zM548 190h4v4h-4zM159 186h4v4h-4zM186 186h5v4h-5zM296 186h5v4h-5zM324 186h4v4h-4zM575 186h5v4h-5zM109 182h4v4h-4zM346 182h5v4h-5zM475 182h4v4h-4zM507 182h4v4h-4zM529 182h5v4h-5zM543 182h5v4h-5zM575 182h5v4h-5zM118 177h9v5h-9zM333 177h4v5h-4zM493 177h4v5h-4zM543 177h5v5h-5zM278 173h4v4h-4zM319 173h9v4h-9zM351 173h5v4h-5zM388 173h4v4h-4zM397 173h4v4h-4zM479 173h5v4h-5zM584 173h5v4h-5zM127 169h9v4h-9zM374 169h4v4h-4zM452 169h4v4h-4zM497 169h5v4h-5zM575 169h5v4h-5zM594 169h4v4h-4zM411 165h4v4h-4zM420 165h4v4h-4zM452 165h4v4h-4zM479 165h5v4h-5zM502 165h5v4h-5zM122 161h5v4h-5zM319 161h5v4h-5zM383 161h5v4h-5zM424 161h5v4h-5zM484 161h4v4h-4zM136 157h5v4h-5zM342 157h4v4h-4zM438 157h5v4h-5zM552 157h5v4h-5zM584 157h10v4h-10zM282 153h5v4h-5zM292 153h4v4h-4zM365 153h4v4h-4zM374 153h4v4h-4zM566 153h5v4h-5zM122 149h5v4h-5zM173 149h4v4h-4zM191 149h5v4h-5zM529 149h5v4h-5zM191 145h5v4h-5zM507 145h4v4h-4zM109 141h4v4h-4zM305 141h9v4h-9zM333 141h4v4h-4zM397 141h4v4h-4zM648 141h5v4h-5zM173 137h4v4h-4zM305 137h5v4h-5zM534 137h5v4h-5zM191 133h5v4h-5zM337 133h9v4h-9zM388 133h4v4h-4zM406 133h5v4h-5zM163 129h5v4h-5zM319 129h5v4h-5zM351 129h5v4h-5zM493 129h4v4h-4zM539 129h4v4h-4zM287 124h5v5h-5zM447 124h5v5h-5zM534 124h5v5h-5zM104 120h5v4h-5zM127 120h4v4h-4zM209 120h5v4h-5zM429 120h4v4h-4zM461 120h14v4h-14zM520 120h5v4h-5zM575 120h5v4h-5zM131 116h5v4h-5zM186 116h5v4h-5zM378 116h5v4h-5zM465 116h5v4h-5zM562 116h4v4h-4zM127 112h4v4h-4zM214 112h4v4h-4zM319 112h5v4h-5zM415 112h5v4h-5zM433 112h5v4h-5zM589 112h5v4h-5zM639 112h5v4h-5zM191 108h5v4h-5zM346 108h5v4h-5zM447 108h5v4h-5zM520 108h5v4h-5zM589 108h9v4h-9zM136 104h5v4h-5zM145 104h5v4h-5zM269 104h4v4h-4zM374 104h4v4h-4zM401 104h5v4h-5zM145 100h5v4h-5zM163 100h5v4h-5zM196 100h4v4h-4zM205 100h4v4h-4zM351 100h5v4h-5zM411 100h4v4h-4zM465 100h5v4h-5zM497 100h5v4h-5zM534 100h5v4h-5zM145 96h5v4h-5zM406 96h5v4h-5zM548 96h4v4h-4zM159 92h4v4h-4zM191 92h5v4h-5zM337 92h5v4h-5zM488 92h5v4h-5zM511 92h5v4h-5zM173 88h4v4h-4zM200 88h5v4h-5zM365 88h4v4h-4zM465 88h5v4h-5zM484 88h4v4h-4zM113 84h5v4h-5zM296 84h5v4h-5zM346 84h5v4h-5zM511 84h5v4h-5zM118 80h4v4h-4zM214 80h4v4h-4zM264 80h5v4h-5zM324 80h4v4h-4zM365 80h4v4h-4zM182 76h4v4h-4zM205 76h4v4h-4zM328 76h5v4h-5zM461 76h4v4h-4zM113 71h5v5h-5zM150 71h4v5h-4zM191 71h5v5h-5zM333 71h4v5h-4zM406 71h5v5h-5zM420 71h4v5h-4zM452 71h4v5h-4zM525 71h4v5h-4zM177 67h5v4h-5zM429 67h4v4h-4zM447 67h5v4h-5zM479 67h5v4h-5zM562 67h4v4h-4zM127 63h4v4h-4zM292 63h4v4h-4zM488 63h5v4h-5zM525 63h4v4h-4zM539 63h4v4h-4zM548 63h4v4h-4zM141 59h4v4h-4zM168 59h5v4h-5zM342 59h4v4h-4zM351 59h5v4h-5zM456 59h5v4h-5zM529 59h5v4h-5zM168 55h5v4h-5zM200 55h5v4h-5zM305 55h5v4h-5zM346 55h5v4h-5zM383 55h5v4h-5zM456 55h5v4h-5zM543 55h5v4h-5zM552 55h5v4h-5zM639 55h5v4h-5zM122 51h5v4h-5zM131 47h5v4h-5zM141 47h4v4h-4zM209 47h5v4h-5zM223 47h5v4h-5zM397 47h4v4h-4zM429 47h4v4h-4zM465 47h5v4h-5zM154 45h5v2h-5zM186 45h5v2h-5zM406 45h5v2h-5zM429 45h4v2h-4z"/><path fill="#0010ff" d="M191 532h5v2h-5zM209 532h5v2h-5zM250 532h5v2h-5zM310 532h4v2h-4zM356 532h4v2h-4zM378 532h5v2h-5zM552 532h10v2h-10zM392 373h5v4h-5zM543 365h5v4h-5zM406 361h5v4h-5zM406 353h5v4h-5zM433 349h5v4h-5zM575 349h5v4h-5zM548 340h4v5h-4zM557 340h5v5h-5zM424 336h5v4h-5zM548 336h4v4h-4zM575 336h5v4h-5zM388 332h4v4h-4zM433 332h5v4h-5zM584 332h5v4h-5zM507 324h4v4h-4zM580 320h4v4h-4zM397 316h4v4h-4zM173 312h4v4h-4zM356 312h4v4h-4zM438 312h5v4h-5zM516 312h4v4h-4zM562 312h4v4h-4zM109 308h4v4h-4zM131 308h5v4h-5zM351 308h5v4h-5zM557 308h5v4h-5zM584 308h5v4h-5zM154 304h5v4h-5zM173 304h4v4h-4zM415 304h5v4h-5zM566 304h5v4h-5zM584 304h5v4h-5zM141 300h4v4h-4zM154 300h5v4h-5zM443 300h4v4h-4zM342 296h4v4h-4zM374 296h4v4h-4zM388 296h4v4h-4zM406 296h9v4h-9zM420 296h4v4h-4zM580 296h4v4h-4zM168 292h5v4h-5zM365 292h4v4h-4zM497 292h5v4h-5zM122 287h5v5h-5zM388 287h4v5h-4zM411 287h4v5h-4zM539 287h4v5h-4zM104 283h5v4h-5zM127 283h4v4h-4zM401 283h5v4h-5zM566 283h5v4h-5zM145 279h5v4h-5zM351 279h5v4h-5zM415 279h5v4h-5zM447 279h5v4h-5zM539 275h4v4h-4zM310 271h4v4h-4zM360 271h9v4h-9zM383 271h5v4h-5zM429 271h4v4h-4zM575 271h5v4h-5zM131 267h5v4h-5zM314 267h5v4h-5zM337 267h5v4h-5zM484 267h4v4h-4zM584 267h5v4h-5zM168 263h5v4h-5zM177 263h5v4h-5zM314 263h5v4h-5zM356 263h4v4h-4zM571 263h4v4h-4zM122 259h5v4h-5zM177 259h5v4h-5zM365 259h4v4h-4zM429 259h4v4h-4zM443 259h4v4h-4zM580 259h4v4h-4zM127 255h4v4h-4zM351 255h9v4h-9zM378 251h5v4h-5zM113 247h5v4h-5zM141 247h4v4h-4zM173 247h4v4h-4zM346 247h5v4h-5zM374 247h4v4h-4zM488 247h5v4h-5zM594 247h4v4h-4zM145 243h5v4h-5zM378 243h5v4h-5zM525 243h4v4h-4zM305 234h5v5h-5zM328 234h5v5h-5zM392 234h5v5h-5zM520 234h5v5h-5zM557 234h5v5h-5zM145 230h9v4h-9zM173 230h4v4h-4zM319 230h5v4h-5zM447 230h5v4h-5zM534 230h5v4h-5zM150 226h4v4h-4zM159 226h4v4h-4zM177 226h5v4h-5zM314 226h5v4h-5zM470 226h5v4h-5zM507 226h4v4h-4zM118 222h4v4h-4zM173 222h4v4h-4zM337 222h5v4h-5zM351 222h5v4h-5zM374 222h4v4h-4zM543 222h5v4h-5zM141 218h4v4h-4zM186 218h5v4h-5zM324 218h4v4h-4zM356 218h4v4h-4zM511 218h5v4h-5zM548 218h4v4h-4zM118 214h4v4h-4zM127 214h4v4h-4zM150 214h4v4h-4zM333 214h4v4h-4zM383 214h5v4h-5zM502 214h5v4h-5zM443 210h4v4h-4zM484 210h9v4h-9zM502 210h5v4h-5zM305 206h5v4h-5zM314 206h5v4h-5zM397 206h4v4h-4zM438 206h5v4h-5zM475 206h4v4h-4zM534 206h5v4h-5zM310 202h4v4h-4zM319 202h9v4h-9zM411 202h4v4h-4zM520 202h5v4h-5zM529 202h5v4h-5zM589 202h9v4h-9zM127 198h4v4h-4zM168 198h5v4h-5zM333 198h4v4h-4zM374 198h4v4h-4zM401 198h5v4h-5zM479 198h5v4h-5zM534 198h5v4h-5zM154 194h5v4h-5zM360 194h5v4h-5zM479 194h5v4h-5zM497 194h5v4h-5zM131 190h5v4h-5zM182 190h4v4h-4zM433 190h5v4h-5zM594 190h4v4h-4zM150 186h4v4h-4zM173 186h4v4h-4zM282 186h5v4h-5zM360 186h5v4h-5zM557 186h5v4h-5zM566 186h5v4h-5zM639 186h5v4h-5zM131 182h5v4h-5zM145 182h5v4h-5zM177 182h5v4h-5zM186 182h5v4h-5zM196 182h4v4h-4zM287 182h5v4h-5zM392 182h5v4h-5zM539 182h4v4h-4zM127 177h9v5h-9zM173 177h4v5h-4zM356 177h4v5h-4zM424 177h5v5h-5zM475 177h4v5h-4zM575 177h5v5h-5zM127 173h4v4h-4zM145 173h5v4h-5zM163 173h14v4h-14zM196 173h4v4h-4zM374 173h4v4h-4zM406 173h5v4h-5zM502 173h5v4h-5zM328 169h5v4h-5zM520 169h5v4h-5zM566 169h5v4h-5zM351 165h5v4h-5zM378 165h5v4h-5zM594 165h4v4h-4zM104 161h5v4h-5zM141 161h4v4h-4zM305 161h5v4h-5zM324 161h4v4h-4zM438 161h5v4h-5zM594 161h4v4h-4zM292 157h4v4h-4zM328 157h5v4h-5zM456 157h5v4h-5zM520 157h5v4h-5zM571 157h4v4h-4zM127 153h4v4h-4zM196 153h4v4h-4zM287 153h5v4h-5zM360 153h5v4h-5zM118 149h4v4h-4zM420 149h4v4h-4zM406 145h5v4h-5zM502 145h5v4h-5zM557 145h5v4h-5zM566 145h5v4h-5zM580 145h4v4h-4zM131 141h5v4h-5zM141 141h4v4h-4zM383 141h5v4h-5zM626 141h4v4h-4zM163 137h5v4h-5zM319 137h5v4h-5zM369 137h5v4h-5zM433 137h5v4h-5zM488 137h5v4h-5zM502 137h5v4h-5zM287 133h5v4h-5zM365 133h4v4h-4zM392 133h5v4h-5zM168 129h5v4h-5zM205 129h4v4h-4zM369 129h5v4h-5zM461 129h4v4h-4zM594 129h4v4h-4zM104 124h5v5h-5zM333 124h4v5h-4zM475 124h4v5h-4zM516 124h4v5h-4zM145 120h5v4h-5zM182 120h4v4h-4zM191 120h5v4h-5zM438 120h5v4h-5zM452 120h4v4h-4zM543 120h5v4h-5zM141 116h4v4h-4zM282 116h5v4h-5zM397 116h4v4h-4zM475 116h4v4h-4zM580 116h4v4h-4zM639 116h5v4h-5zM150 112h4v4h-4zM452 112h4v4h-4zM525 112h4v4h-4zM104 108h5v4h-5zM141 108h4v4h-4zM282 108h10v4h-10zM296 108h5v4h-5zM356 108h4v4h-4zM378 108h5v4h-5zM388 108h4v4h-4zM511 108h9v4h-9zM639 108h5v4h-5zM223 104h5v4h-5zM328 104h5v4h-5zM346 104h5v4h-5zM447 104h5v4h-5zM475 104h4v4h-4zM484 104h4v4h-4zM580 104h4v4h-4zM369 100h5v4h-5zM479 100h5v4h-5zM566 100h5v4h-5zM127 96h4v4h-4zM191 96h5v4h-5zM324 96h4v4h-4zM346 96h5v4h-5zM447 96h5v4h-5zM484 96h4v4h-4zM493 96h4v4h-4zM113 92h5v4h-5zM136 92h5v4h-5zM209 92h5v4h-5zM333 92h4v4h-4zM351 92h5v4h-5zM552 92h5v4h-5zM186 88h5v4h-5zM328 88h5v4h-5zM383 88h5v4h-5zM443 88h4v4h-4zM520 88h5v4h-5zM205 84h4v4h-4zM324 84h4v4h-4zM406 84h5v4h-5zM552 84h5v4h-5zM122 80h5v4h-5zM282 80h5v4h-5zM314 80h5v4h-5zM374 80h4v4h-4zM401 80h10v4h-10zM525 80h4v4h-4zM534 80h5v4h-5zM127 76h4v4h-4zM301 76h4v4h-4zM443 76h4v4h-4zM525 76h4v4h-4zM141 71h4v5h-4zM177 71h5v5h-5zM319 71h5v5h-5zM539 71h4v5h-4zM301 67h4v4h-4zM337 67h5v4h-5zM360 67h5v4h-5zM378 67h5v4h-5zM118 63h4v4h-4zM131 63h5v4h-5zM168 63h5v4h-5zM264 63h5v4h-5zM388 63h4v4h-4zM406 63h5v4h-5zM475 63h4v4h-4zM511 63h5v4h-5zM113 59h5v4h-5zM314 59h5v4h-5zM475 59h4v4h-4zM497 59h5v4h-5zM122 55h5v4h-5zM447 55h5v4h-5zM488 55h5v4h-5zM525 51h4v4h-4zM191 47h5v4h-5zM273 47h5v4h-5zM392 47h5v4h-5zM200 45h5v2h-5zM351 45h5v2h-5zM383 45h5v2h-5zM539 45h4v2h-4zM562 45h4v2h-4z"/><path fill="#0020ff" d="M136 532h5v2h-5zM429 532h4v2h-4zM447 532h5v2h-5zM470 532h5v2h-5zM566 532h5v2h-5zM406 373h5v4h-5zM420 353h4v4h-4zM548 353h4v4h-4zM548 349h4v4h-4zM433 336h5v4h-5zM580 336h4v4h-4zM177 332h5v4h-5zM406 332h5v4h-5zM562 328h4v4h-4zM388 324h4v4h-4zM420 324h4v4h-4zM562 324h4v4h-4zM168 320h5v4h-5zM397 320h4v4h-4zM127 316h4v4h-4zM411 316h4v4h-4zM507 316h4v4h-4zM552 316h5v4h-5zM186 312h5v4h-5zM406 312h5v4h-5zM150 308h4v4h-4zM319 308h5v4h-5zM369 308h5v4h-5zM575 308h9v4h-9zM127 304h4v4h-4zM443 304h4v4h-4zM497 304h5v4h-5zM589 304h5v4h-5zM168 300h5v4h-5zM369 300h9v4h-9zM118 292h4v4h-4zM154 292h5v4h-5zM337 292h5v4h-5zM374 292h4v4h-4zM456 292h5v4h-5zM168 287h5v5h-5zM342 287h4v5h-4zM488 287h5v5h-5zM511 287h5v5h-5zM543 287h5v5h-5zM552 287h5v5h-5zM360 283h5v4h-5zM397 283h4v4h-4zM433 283h5v4h-5zM456 283h5v4h-5zM557 283h5v4h-5zM571 283h4v4h-4zM589 283h5v4h-5zM159 279h4v4h-4zM282 279h5v4h-5zM365 279h4v4h-4zM575 279h5v4h-5zM584 279h5v4h-5zM328 275h5v4h-5zM388 275h4v4h-4zM415 275h5v4h-5zM548 275h4v4h-4zM580 275h4v4h-4zM388 271h4v4h-4zM433 271h5v4h-5zM502 271h5v4h-5zM127 267h4v4h-4zM163 267h5v4h-5zM420 267h4v4h-4zM429 267h4v4h-4zM438 267h5v4h-5zM525 267h4v4h-4zM127 263h4v4h-4zM296 263h5v4h-5zM324 263h9v4h-9zM296 259h5v4h-5zM456 259h5v4h-5zM488 259h5v4h-5zM497 259h5v4h-5zM104 255h5v4h-5zM154 255h5v4h-5zM282 255h5v4h-5zM324 255h4v4h-4zM397 255h4v4h-4zM502 255h5v4h-5zM562 255h4v4h-4zM141 251h9v4h-9zM305 251h5v4h-5zM383 251h5v4h-5zM415 251h5v4h-5zM429 251h9v4h-9zM557 251h5v4h-5zM575 251h5v4h-5zM127 247h4v4h-4zM282 247h5v4h-5zM406 247h5v4h-5zM484 247h4v4h-4zM539 247h4v4h-4zM109 243h4v4h-4zM136 243h5v4h-5zM168 243h5v4h-5zM488 243h5v4h-5zM589 243h5v4h-5zM109 239h4v4h-4zM118 239h9v4h-9zM186 239h5v4h-5zM447 239h5v4h-5zM109 234h4v5h-4zM337 234h5v5h-5zM456 234h5v5h-5zM484 234h4v5h-4zM507 234h4v5h-4zM575 234h5v5h-5zM305 230h5v4h-5zM424 230h5v4h-5zM433 230h5v4h-5zM571 230h4v4h-4zM168 226h5v4h-5zM324 226h4v4h-4zM333 226h4v4h-4zM589 226h5v4h-5zM109 222h4v4h-4zM122 222h5v4h-5zM136 222h5v4h-5zM484 222h4v4h-4zM525 222h4v4h-4zM113 218h5v4h-5zM154 218h5v4h-5zM360 218h5v4h-5zM401 218h5v4h-5zM488 218h5v4h-5zM626 218h4v4h-4zM182 214h4v4h-4zM301 214h4v4h-4zM388 214h4v4h-4zM397 214h4v4h-4zM520 214h5v4h-5zM534 214h5v4h-5zM292 210h4v4h-4zM314 210h5v4h-5zM397 210h4v4h-4zM406 210h5v4h-5zM534 210h5v4h-5zM131 206h5v4h-5zM186 206h5v4h-5zM209 206h5v4h-5zM324 206h4v4h-4zM333 206h4v4h-4zM342 206h4v4h-4zM383 206h5v4h-5zM443 206h4v4h-4zM529 206h5v4h-5zM333 202h4v4h-4zM360 202h5v4h-5zM443 202h4v4h-4zM122 194h5v4h-5zM278 194h4v4h-4zM319 194h5v4h-5zM337 194h5v4h-5zM356 194h4v4h-4zM415 194h5v4h-5zM424 194h5v4h-5zM516 194h4v4h-4zM580 194h4v4h-4zM378 190h5v4h-5zM388 190h4v4h-4zM443 190h4v4h-4zM507 190h4v4h-4zM525 190h4v4h-4zM571 190h4v4h-4zM589 190h5v4h-5zM109 186h4v4h-4zM168 186h5v4h-5zM333 186h4v4h-4zM548 186h4v4h-4zM292 182h4v4h-4zM406 182h9v4h-9zM484 182h4v4h-4zM644 182h4v4h-4zM163 177h5v5h-5zM186 177h5v5h-5zM319 177h5v5h-5zM337 177h5v5h-5zM365 177h4v5h-4zM406 177h14v5h-14zM479 177h5v5h-5zM539 177h4v5h-4zM150 173h4v4h-4zM209 173h5v4h-5zM223 173h5v4h-5zM360 173h5v4h-5zM415 173h9v4h-9zM470 173h9v4h-9zM488 173h5v4h-5zM644 173h4v4h-4zM287 169h5v4h-5zM360 169h5v4h-5zM475 169h4v4h-4zM589 169h5v4h-5zM113 165h5v4h-5zM319 165h5v4h-5zM360 165h9v4h-9zM507 165h9v4h-9zM571 165h4v4h-4zM639 165h5v4h-5zM127 161h4v4h-4zM168 161h5v4h-5zM196 161h4v4h-4zM374 161h4v4h-4zM488 161h5v4h-5zM584 161h5v4h-5zM118 157h4v4h-4zM351 157h5v4h-5zM374 157h4v4h-4zM502 157h5v4h-5zM109 153h4v4h-4zM214 153h4v4h-4zM278 153h4v4h-4zM497 153h5v4h-5zM589 149h5v4h-5zM136 145h5v4h-5zM255 145h5v4h-5zM392 145h5v4h-5zM411 145h4v4h-4zM479 145h5v4h-5zM520 145h5v4h-5zM543 145h5v4h-5zM122 141h5v4h-5zM314 141h5v4h-5zM415 141h5v4h-5zM644 141h4v4h-4zM136 137h5v4h-5zM552 137h5v4h-5zM571 137h4v4h-4zM168 133h5v4h-5zM305 133h5v4h-5zM360 133h5v4h-5zM369 133h5v4h-5zM415 133h5v4h-5zM136 129h5v4h-5zM200 129h5v4h-5zM301 129h4v4h-4zM342 129h4v4h-4zM378 129h5v4h-5zM438 129h5v4h-5zM488 129h5v4h-5zM497 129h5v4h-5zM529 129h10v4h-10zM589 129h5v4h-5zM118 124h4v5h-4zM452 124h4v5h-4zM511 124h5v5h-5zM589 124h5v5h-5zM141 120h4v4h-4zM296 120h5v4h-5zM356 120h4v4h-4zM497 120h5v4h-5zM580 120h4v4h-4zM223 116h5v4h-5zM310 116h4v4h-4zM319 116h5v4h-5zM342 116h4v4h-4zM163 112h5v4h-5zM191 112h5v4h-5zM310 112h4v4h-4zM378 112h5v4h-5zM443 112h4v4h-4zM562 112h4v4h-4zM136 108h5v4h-5zM150 108h4v4h-4zM415 108h5v4h-5zM534 108h5v4h-5zM104 100h5v4h-5zM136 100h5v4h-5zM388 100h4v4h-4zM456 100h5v4h-5zM113 96h5v4h-5zM200 96h5v4h-5zM246 96h4v4h-4zM314 96h5v4h-5zM397 96h4v4h-4zM429 96h4v4h-4zM594 96h4v4h-4zM269 92h4v4h-4zM292 92h4v4h-4zM378 92h5v4h-5zM534 92h5v4h-5zM282 88h5v4h-5zM292 88h4v4h-4zM470 88h5v4h-5zM159 84h4v4h-4zM301 84h4v4h-4zM310 84h4v4h-4zM529 84h5v4h-5zM566 84h5v4h-5zM131 80h5v4h-5zM228 80h4v4h-4zM356 80h9v4h-9zM378 80h5v4h-5zM415 80h5v4h-5zM452 80h4v4h-4zM461 80h4v4h-4zM122 76h5v4h-5zM159 76h4v4h-4zM305 76h5v4h-5zM447 76h5v4h-5zM465 76h5v4h-5zM516 76h4v4h-4zM127 71h4v5h-4zM246 71h4v5h-4zM305 71h5v5h-5zM337 71h5v5h-5zM411 71h4v5h-4zM493 71h4v5h-4zM543 71h5v5h-5zM141 67h4v4h-4zM333 67h4v4h-4zM351 67h5v4h-5zM415 67h5v4h-5zM475 67h4v4h-4zM594 67h4v4h-4zM163 63h5v4h-5zM196 63h4v4h-4zM273 63h5v4h-5zM310 63h4v4h-4zM429 63h4v4h-4zM456 63h5v4h-5zM479 63h5v4h-5zM177 59h5v4h-5zM205 59h4v4h-4zM360 59h5v4h-5zM401 59h5v4h-5zM264 55h5v4h-5zM287 55h5v4h-5zM424 55h9v4h-9zM154 51h5v4h-5zM173 51h4v4h-4zM186 51h5v4h-5zM319 51h5v4h-5zM369 51h5v4h-5zM401 51h10v4h-10zM475 51h4v4h-4zM502 51h5v4h-5zM543 51h5v4h-5zM594 51h4v4h-4zM644 51h4v4h-4zM113 47h5v4h-5zM177 47h9v4h-9zM196 47h4v4h-4zM246 47h4v4h-4zM310 47h4v4h-4zM337 47h5v4h-5zM351 47h5v4h-5zM420 47h4v4h-4zM580 47h4v4h-4zM264 45h5v2h-5zM424 45h5v2h-5z"/><path fill="#0030ff" d="M232 532h5v2h-5zM287 532h5v2h-5zM465 532h5v2h-5zM520 532h5v2h-5zM539 532h4v2h-4zM575 532h5v2h-5zM351 406h5v4h-5zM566 381h5v4h-5zM424 357h5v4h-5zM360 353h5v4h-5zM420 349h4v4h-4zM365 345h4v4h-4zM374 345h4v4h-4zM342 340h4v5h-4zM365 340h4v5h-4zM456 340h5v5h-5zM575 340h5v5h-5zM589 340h5v5h-5zM429 336h4v4h-4zM557 336h5v4h-5zM351 332h5v4h-5zM429 332h4v4h-4zM488 332h5v4h-5zM360 328h5v4h-5zM397 328h4v4h-4zM356 324h4v4h-4zM374 324h4v4h-4zM415 324h5v4h-5zM429 324h4v4h-4zM529 324h5v4h-5zM584 324h5v4h-5zM127 320h4v4h-4zM365 320h4v4h-4zM470 320h5v4h-5zM571 320h4v4h-4zM465 316h5v4h-5zM168 312h5v4h-5zM447 312h5v4h-5zM397 308h4v4h-4zM411 308h4v4h-4zM443 308h4v4h-4zM511 308h5v4h-5zM562 308h4v4h-4zM594 308h4v4h-4zM319 304h5v4h-5zM392 304h5v4h-5zM470 304h5v4h-5zM342 300h4v4h-4zM378 300h5v4h-5zM571 300h4v4h-4zM584 300h5v4h-5zM594 300h4v4h-4zM118 296h4v4h-4zM173 296h4v4h-4zM319 296h5v4h-5zM433 296h5v4h-5zM456 296h5v4h-5zM497 296h5v4h-5zM552 296h5v4h-5zM575 296h5v4h-5zM356 292h4v4h-4zM539 292h4v4h-4zM104 287h5v5h-5zM127 287h4v5h-4zM525 287h4v5h-4zM557 287h5v5h-5zM150 283h4v4h-4zM168 283h5v4h-5zM314 279h5v4h-5zM324 279h4v4h-4zM360 279h5v4h-5zM388 279h4v4h-4zM118 275h4v4h-4zM333 275h4v4h-4zM360 275h5v4h-5zM644 275h4v4h-4zM150 271h4v4h-4zM415 271h5v4h-5zM562 271h4v4h-4zM109 267h4v4h-4zM150 267h4v4h-4zM168 267h5v4h-5zM177 267h5v4h-5zM328 267h5v4h-5zM346 267h5v4h-5zM360 267h5v4h-5zM378 267h5v4h-5zM566 267h9v4h-9zM154 263h5v4h-5zM360 263h5v4h-5zM433 263h5v4h-5zM493 263h4v4h-4zM534 263h5v4h-5zM644 263h4v4h-4zM141 259h4v4h-4zM342 259h4v4h-4zM378 259h10v4h-10zM392 259h5v4h-5zM479 259h5v4h-5zM511 259h5v4h-5zM529 259h5v4h-5zM552 259h5v4h-5zM109 255h4v4h-4zM433 255h5v4h-5zM543 255h5v4h-5zM552 255h5v4h-5zM571 255h4v4h-4zM424 251h5v4h-5zM529 251h5v4h-5zM360 247h5v4h-5zM529 247h5v4h-5zM589 247h5v4h-5zM154 243h5v4h-5zM305 243h5v4h-5zM360 243h5v4h-5zM511 243h5v4h-5zM575 243h5v4h-5zM141 239h4v4h-4zM346 239h10v4h-10zM433 239h5v4h-5zM484 239h9v4h-9zM118 234h4v5h-4zM136 234h5v5h-5zM177 234h9v5h-9zM333 234h4v5h-4zM406 234h5v5h-5zM443 234h4v5h-4zM511 234h5v5h-5zM552 234h5v5h-5zM580 234h4v5h-4zM589 234h5v5h-5zM360 230h5v4h-5zM429 230h4v4h-4zM507 230h4v4h-4zM525 230h4v4h-4zM113 226h5v4h-5zM346 226h5v4h-5zM360 226h5v4h-5zM548 226h4v4h-4zM104 222h5v4h-5zM127 222h4v4h-4zM163 222h5v4h-5zM406 222h5v4h-5zM424 222h5v4h-5zM507 222h4v4h-4zM594 222h4v4h-4zM443 218h4v4h-4zM520 218h5v4h-5zM639 218h5v4h-5zM168 214h5v4h-5zM177 214h5v4h-5zM305 214h5v4h-5zM507 214h4v4h-4zM539 214h9v4h-9zM562 214h9v4h-9zM127 210h4v4h-4zM333 210h4v4h-4zM360 210h5v4h-5zM539 210h4v4h-4zM580 210h9v4h-9zM118 206h4v4h-4zM150 206h4v4h-4zM264 206h5v4h-5zM346 206h5v4h-5zM406 206h5v4h-5zM488 206h5v4h-5zM589 206h5v4h-5zM639 206h5v4h-5zM154 202h5v4h-5zM296 202h5v4h-5zM314 202h5v4h-5zM369 202h5v4h-5zM502 202h5v4h-5zM525 202h4v4h-4zM136 198h5v4h-5zM273 198h5v4h-5zM305 198h5v4h-5zM378 198h5v4h-5zM470 198h5v4h-5zM543 198h5v4h-5zM104 194h5v4h-5zM150 194h4v4h-4zM282 194h5v4h-5zM392 194h5v4h-5zM461 194h4v4h-4zM493 194h4v4h-4zM552 194h5v4h-5zM589 194h5v4h-5zM118 190h4v4h-4zM173 190h4v4h-4zM360 190h5v4h-5zM438 190h5v4h-5zM465 190h5v4h-5zM502 190h5v4h-5zM520 190h5v4h-5zM534 190h5v4h-5zM145 186h5v4h-5zM264 186h5v4h-5zM287 186h5v4h-5zM401 186h5v4h-5zM429 186h4v4h-4zM516 186h4v4h-4zM529 186h5v4h-5zM539 186h4v4h-4zM644 186h4v4h-4zM173 182h4v4h-4zM182 182h4v4h-4zM218 182h5v4h-5zM337 182h9v4h-9zM365 182h4v4h-4zM378 182h5v4h-5zM429 182h4v4h-4zM479 182h5v4h-5zM310 177h4v5h-4zM452 177h4v5h-4zM594 177h4v5h-4zM104 173h5v4h-5zM346 173h5v4h-5zM424 173h5v4h-5zM182 169h4v4h-4zM260 169h4v4h-4zM301 169h4v4h-4zM351 169h5v4h-5zM388 169h9v4h-9zM424 169h5v4h-5zM516 169h4v4h-4zM104 165h5v4h-5zM168 165h5v4h-5zM282 165h5v4h-5zM333 165h4v4h-4zM415 165h5v4h-5zM433 165h5v4h-5zM484 165h4v4h-4zM529 165h5v4h-5zM552 165h5v4h-5zM237 161h4v4h-4zM287 161h5v4h-5zM433 161h5v4h-5zM552 161h5v4h-5zM127 157h4v4h-4zM145 157h5v4h-5zM296 157h5v4h-5zM310 157h4v4h-4zM433 157h5v4h-5zM113 153h5v4h-5zM186 153h5v4h-5zM209 153h5v4h-5zM296 153h9v4h-9zM319 153h5v4h-5zM443 153h4v4h-4zM488 153h5v4h-5zM571 153h4v4h-4zM644 153h4v4h-4zM136 149h5v4h-5zM282 149h5v4h-5zM301 149h4v4h-4zM337 149h5v4h-5zM397 149h9v4h-9zM411 149h4v4h-4zM488 149h5v4h-5zM497 149h5v4h-5zM131 145h5v4h-5zM159 145h4v4h-4zM200 145h5v4h-5zM401 145h5v4h-5zM420 145h4v4h-4zM429 145h4v4h-4zM191 141h5v4h-5zM223 141h5v4h-5zM292 141h4v4h-4zM470 141h5v4h-5zM589 141h5v4h-5zM200 137h5v4h-5zM337 137h5v4h-5zM383 137h5v4h-5zM392 137h5v4h-5zM539 137h4v4h-4zM648 137h5v4h-5zM131 133h5v4h-5zM150 133h4v4h-4zM346 133h5v4h-5zM420 133h4v4h-4zM443 133h4v4h-4zM456 133h5v4h-5zM479 133h5v4h-5zM337 129h5v4h-5zM415 129h5v4h-5zM433 129h5v4h-5zM452 129h4v4h-4zM639 129h5v4h-5zM383 124h5v5h-5zM539 124h4v5h-4zM136 120h5v4h-5zM351 120h5v4h-5zM443 120h9v4h-9zM479 120h5v4h-5zM644 120h4v4h-4zM246 116h9v4h-9zM470 116h5v4h-5zM488 116h5v4h-5zM397 112h4v4h-4zM465 112h5v4h-5zM475 112h4v4h-4zM644 112h4v4h-4zM159 108h4v4h-4zM214 108h4v4h-4zM241 108h5v4h-5zM360 108h5v4h-5zM484 108h4v4h-4zM525 108h4v4h-4zM305 104h5v4h-5zM319 104h5v4h-5zM365 104h4v4h-4zM516 104h4v4h-4zM557 104h5v4h-5zM415 100h5v4h-5zM470 100h5v4h-5zM493 100h4v4h-4zM209 96h9v4h-9zM319 96h5v4h-5zM374 96h4v4h-4zM516 96h4v4h-4zM534 96h5v4h-5zM310 92h4v4h-4zM324 92h4v4h-4zM346 92h5v4h-5zM420 92h4v4h-4zM452 92h4v4h-4zM497 92h5v4h-5zM131 88h5v4h-5zM209 88h5v4h-5zM351 88h5v4h-5zM401 88h5v4h-5zM429 88h4v4h-4zM475 88h4v4h-4zM594 88h4v4h-4zM305 84h5v4h-5zM397 84h4v4h-4zM488 84h5v4h-5zM127 80h4v4h-4zM136 80h5v4h-5zM205 80h4v4h-4zM278 80h4v4h-4zM639 80h5v4h-5zM118 76h4v4h-4zM214 76h4v4h-4zM223 76h5v4h-5zM287 76h9v4h-9zM333 76h4v4h-4zM433 76h5v4h-5zM497 76h5v4h-5zM163 71h5v5h-5zM250 71h5v5h-5zM136 67h5v4h-5zM191 67h5v4h-5zM374 67h4v4h-4zM420 67h4v4h-4zM516 67h9v4h-9zM580 67h4v4h-4zM282 63h5v4h-5zM314 63h5v4h-5zM411 63h4v4h-4zM497 63h5v4h-5zM626 63h4v4h-4zM648 63h5v4h-5zM104 59h5v4h-5zM131 59h5v4h-5zM282 59h5v4h-5zM328 59h5v4h-5zM639 59h5v4h-5zM109 55h4v4h-4zM186 55h5v4h-5zM214 55h4v4h-4zM319 55h5v4h-5zM411 55h4v4h-4zM497 55h5v4h-5zM566 55h5v4h-5zM594 55h4v4h-4zM145 51h5v4h-5zM223 51h5v4h-5zM397 51h4v4h-4zM443 51h9v4h-9zM122 47h5v4h-5zM296 45h5v2h-5z"/><path fill="#0040ff" d="M109 532h4v2h-4zM118 532h4v2h-4zM360 532h5v2h-5zM488 532h5v2h-5zM507 532h4v2h-4zM557 385h5v4h-5zM374 373h4v4h-4zM424 365h5v4h-5zM557 365h5v4h-5zM493 357h4v4h-4zM571 357h4v4h-4zM369 353h5v4h-5zM378 353h5v4h-5zM575 353h5v4h-5zM589 353h5v4h-5zM529 349h5v4h-5zM415 345h5v4h-5zM443 345h4v4h-4zM557 345h9v4h-9zM388 340h4v5h-4zM443 340h4v5h-4zM525 340h4v5h-4zM369 336h5v4h-5zM369 332h5v4h-5zM420 332h4v4h-4zM319 328h5v4h-5zM369 328h5v4h-5zM406 328h5v4h-5zM420 328h4v4h-4zM539 328h4v4h-4zM584 328h5v4h-5zM456 324h5v4h-5zM383 320h5v4h-5zM415 320h5v4h-5zM438 320h5v4h-5zM493 320h4v4h-4zM575 320h5v4h-5zM118 316h4v4h-4zM145 316h9v4h-9zM365 316h4v4h-4zM424 316h5v4h-5zM470 316h5v4h-5zM529 316h5v4h-5zM594 316h4v4h-4zM159 312h4v4h-4zM383 312h5v4h-5zM461 312h4v4h-4zM127 308h4v4h-4zM168 308h14v4h-14zM346 308h5v4h-5zM507 308h4v4h-4zM534 308h5v4h-5zM447 304h5v4h-5zM507 304h4v4h-4zM580 304h4v4h-4zM136 300h5v4h-5zM173 300h4v4h-4zM346 300h5v4h-5zM397 300h4v4h-4zM580 300h4v4h-4zM182 296h4v4h-4zM351 296h5v4h-5zM401 296h5v4h-5zM589 296h5v4h-5zM383 292h5v4h-5zM411 292h9v4h-9zM433 292h5v4h-5zM163 287h5v5h-5zM310 287h4v5h-4zM374 287h4v5h-4zM443 287h4v5h-4zM566 287h5v5h-5zM131 283h5v4h-5zM411 283h4v4h-4zM429 283h4v4h-4zM447 283h5v4h-5zM539 283h4v4h-4zM575 283h9v4h-9zM168 279h5v4h-5zM319 279h5v4h-5zM356 279h4v4h-4zM397 279h4v4h-4zM488 279h5v4h-5zM127 275h9v4h-9zM168 275h5v4h-5zM374 275h4v4h-4zM411 275h4v4h-4zM571 275h4v4h-4zM168 271h5v4h-5zM177 271h5v4h-5zM296 271h5v4h-5zM378 271h5v4h-5zM525 271h4v4h-4zM305 267h9v4h-9zM324 267h4v4h-4zM411 267h4v4h-4zM488 267h5v4h-5zM507 267h4v4h-4zM552 267h5v4h-5zM141 263h9v4h-9zM159 263h4v4h-4zM319 263h5v4h-5zM378 263h5v4h-5zM397 263h4v4h-4zM484 263h4v4h-4zM127 259h4v4h-4zM287 259h5v4h-5zM337 259h5v4h-5zM356 259h4v4h-4zM159 255h4v4h-4zM186 255h5v4h-5zM594 255h4v4h-4zM360 251h5v4h-5zM520 251h5v4h-5zM571 251h4v4h-4zM118 247h4v4h-4zM163 247h5v4h-5zM333 247h4v4h-4zM401 247h5v4h-5zM420 247h9v4h-9zM438 247h5v4h-5zM447 247h5v4h-5zM461 247h4v4h-4zM548 247h4v4h-4zM104 243h5v4h-5zM141 243h4v4h-4zM163 243h5v4h-5zM177 243h5v4h-5zM324 243h4v4h-4zM369 243h9v4h-9zM456 243h5v4h-5zM479 243h5v4h-5zM594 243h4v4h-4zM127 239h4v4h-4zM296 239h5v4h-5zM374 239h4v4h-4zM415 239h5v4h-5zM465 239h5v4h-5zM525 239h4v4h-4zM639 239h5v4h-5zM145 234h5v5h-5zM168 234h5v5h-5zM470 234h5v5h-5zM122 230h5v4h-5zM282 230h5v4h-5zM383 230h5v4h-5zM452 230h4v4h-4zM529 230h5v4h-5zM539 230h4v4h-4zM589 230h5v4h-5zM109 226h4v4h-4zM269 226h4v4h-4zM292 226h4v4h-4zM388 226h4v4h-4zM433 226h5v4h-5zM447 226h5v4h-5zM525 226h4v4h-4zM534 226h5v4h-5zM575 226h5v4h-5zM594 226h4v4h-4zM314 222h10v4h-10zM342 222h4v4h-4zM415 222h5v4h-5zM502 222h5v4h-5zM516 222h4v4h-4zM557 222h5v4h-5zM118 218h4v4h-4zM163 218h5v4h-5zM296 218h5v4h-5zM328 218h5v4h-5zM351 218h5v4h-5zM397 218h4v4h-4zM433 218h5v4h-5zM525 218h4v4h-4zM571 218h4v4h-4zM589 218h5v4h-5zM122 214h5v4h-5zM145 214h5v4h-5zM314 214h5v4h-5zM374 214h4v4h-4zM475 214h4v4h-4zM484 214h4v4h-4zM150 210h9v4h-9zM173 210h4v4h-4zM264 210h5v4h-5zM324 210h4v4h-4zM429 210h4v4h-4zM461 210h9v4h-9zM479 210h5v4h-5zM552 210h5v4h-5zM589 210h5v4h-5zM154 206h5v4h-5zM479 206h5v4h-5zM118 202h4v4h-4zM351 202h5v4h-5zM534 202h5v4h-5zM580 202h4v4h-4zM145 198h5v4h-5zM319 198h5v4h-5zM337 198h5v4h-5zM516 198h4v4h-4zM571 198h4v4h-4zM131 194h5v4h-5zM383 194h5v4h-5zM406 194h5v4h-5zM438 194h5v4h-5zM465 194h5v4h-5zM484 194h4v4h-4zM205 190h4v4h-4zM287 190h5v4h-5zM543 190h5v4h-5zM392 186h5v4h-5zM452 186h4v4h-4zM127 182h4v4h-4zM191 182h5v4h-5zM209 182h5v4h-5zM356 182h4v4h-4zM420 182h4v4h-4zM488 182h5v4h-5zM502 182h5v4h-5zM552 182h5v4h-5zM150 177h4v5h-4zM237 177h4v5h-4zM351 177h5v5h-5zM644 177h4v5h-4zM310 173h4v4h-4zM337 173h5v4h-5zM493 173h4v4h-4zM269 169h4v4h-4zM305 169h5v4h-5zM383 169h5v4h-5zM415 169h5v4h-5zM484 169h4v4h-4zM337 165h5v4h-5zM374 165h4v4h-4zM278 161h4v4h-4zM328 161h5v4h-5zM475 161h4v4h-4zM516 161h4v4h-4zM525 161h4v4h-4zM644 161h4v4h-4zM237 157h4v4h-4zM324 153h4v4h-4zM502 153h5v4h-5zM356 149h4v4h-4zM383 149h5v4h-5zM433 149h5v4h-5zM168 145h5v4h-5zM282 145h5v4h-5zM497 145h5v4h-5zM539 145h4v4h-4zM548 145h4v4h-4zM150 141h4v4h-4zM250 141h5v4h-5zM273 141h5v4h-5zM351 141h5v4h-5zM511 141h5v4h-5zM109 137h4v4h-4zM237 137h4v4h-4zM479 137h5v4h-5zM461 133h4v4h-4zM566 133h5v4h-5zM131 129h5v4h-5zM214 129h4v4h-4zM374 129h4v4h-4zM475 129h4v4h-4zM250 124h5v5h-5zM301 124h4v5h-4zM328 124h5v5h-5zM401 124h5v5h-5zM520 124h5v5h-5zM118 120h4v4h-4zM200 120h5v4h-5zM200 116h5v4h-5zM209 116h5v4h-5zM511 116h5v4h-5zM287 112h5v4h-5zM314 112h5v4h-5zM186 108h5v4h-5zM301 108h4v4h-4zM324 108h4v4h-4zM401 108h5v4h-5zM443 108h4v4h-4zM470 108h5v4h-5zM205 104h4v4h-4zM282 104h5v4h-5zM314 104h5v4h-5zM415 104h5v4h-5zM461 104h4v4h-4zM159 100h4v4h-4zM282 100h5v4h-5zM383 100h5v4h-5zM397 100h4v4h-4zM580 100h4v4h-4zM104 96h5v4h-5zM278 96h4v4h-4zM443 96h4v4h-4zM465 96h5v4h-5zM520 96h5v4h-5zM644 96h4v4h-4zM118 92h4v4h-4zM131 92h5v4h-5zM205 92h4v4h-4zM397 92h4v4h-4zM447 92h5v4h-5zM154 88h5v4h-5zM205 88h4v4h-4zM296 88h5v4h-5zM360 88h5v4h-5zM415 88h5v4h-5zM452 88h4v4h-4zM571 88h4v4h-4zM136 84h5v4h-5zM196 84h4v4h-4zM287 84h5v4h-5zM337 84h5v4h-5zM356 84h4v4h-4zM470 84h5v4h-5zM639 84h5v4h-5zM113 80h5v4h-5zM177 80h9v4h-9zM223 80h5v4h-5zM470 80h5v4h-5zM113 76h5v4h-5zM145 76h5v4h-5zM246 76h4v4h-4zM324 76h4v4h-4zM639 76h9v4h-9zM223 71h5v5h-5zM374 71h4v5h-4zM443 71h4v5h-4zM548 71h4v5h-4zM644 71h4v5h-4zM131 67h5v4h-5zM296 67h5v4h-5zM328 67h5v4h-5zM443 67h4v4h-4zM497 67h5v4h-5zM113 63h5v4h-5zM141 63h4v4h-4zM200 63h5v4h-5zM223 63h5v4h-5zM232 63h5v4h-5zM346 63h5v4h-5zM552 63h5v4h-5zM571 63h4v4h-4zM594 63h4v4h-4zM122 59h5v4h-5zM209 59h5v4h-5zM415 59h5v4h-5zM644 59h4v4h-4zM173 55h4v4h-4zM246 55h4v4h-4zM292 55h4v4h-4zM406 55h5v4h-5zM415 55h5v4h-5zM475 55h4v4h-4zM118 51h4v4h-4zM141 51h4v4h-4zM150 51h4v4h-4zM191 51h5v4h-5zM278 51h4v4h-4zM529 51h5v4h-5zM186 47h5v4h-5zM383 47h5v4h-5zM415 47h5v4h-5zM552 47h5v4h-5zM113 45h5v2h-5zM228 45h4v2h-4zM273 45h9v2h-9zM365 45h4v2h-4zM543 45h5v2h-5z"/><path fill="#0050ff" d="M127 532h4v2h-4zM141 532h4v2h-4zM182 532h4v2h-4zM228 532h4v2h-4zM260 532h4v2h-4zM282 532h5v2h-5zM337 532h5v2h-5zM397 532h4v2h-4zM433 532h5v2h-5zM493 532h4v2h-4zM571 532h4v2h-4zM365 406h4v4h-4zM580 385h4v4h-4zM365 381h4v4h-4zM406 381h5v4h-5zM433 369h5v4h-5zM557 369h9v4h-9zM420 365h4v4h-4zM525 365h4v4h-4zM594 365h4v4h-4zM392 361h5v4h-5zM443 361h4v4h-4zM433 357h5v4h-5zM534 357h5v4h-5zM584 357h5v4h-5zM351 349h5v4h-5zM378 349h5v4h-5zM406 345h5v4h-5zM493 345h4v4h-4zM511 345h5v4h-5zM571 345h4v4h-4zM356 340h4v5h-4zM118 336h4v4h-4zM406 336h5v4h-5zM456 336h5v4h-5zM493 336h4v4h-4zM374 332h4v4h-4zM529 332h5v4h-5zM351 328h5v4h-5zM177 324h5v4h-5zM484 324h4v4h-4zM539 324h4v4h-4zM580 324h4v4h-4zM314 320h5v4h-5zM378 320h5v4h-5zM392 320h5v4h-5zM443 320h4v4h-4zM552 320h10v4h-10zM319 316h5v4h-5zM342 316h4v4h-4zM433 316h5v4h-5zM516 316h4v4h-4zM539 316h4v4h-4zM177 312h5v4h-5zM351 312h5v4h-5zM365 312h4v4h-4zM534 312h9v4h-9zM360 308h5v4h-5zM415 308h5v4h-5zM529 308h5v4h-5zM539 308h4v4h-4zM145 304h5v4h-5zM328 300h5v4h-5zM360 300h5v4h-5zM420 300h4v4h-4zM122 296h5v4h-5zM131 296h5v4h-5zM154 296h5v4h-5zM356 296h4v4h-4zM392 296h5v4h-5zM447 296h5v4h-5zM388 292h4v4h-4zM543 292h9v4h-9zM571 292h4v4h-4zM639 292h5v4h-5zM397 287h4v5h-4zM452 287h4v5h-4zM548 287h4v5h-4zM580 287h4v5h-4zM159 283h4v4h-4zM173 283h9v4h-9zM342 283h4v4h-4zM365 283h4v4h-4zM383 283h5v4h-5zM415 283h9v4h-9zM516 283h4v4h-4zM543 283h5v4h-5zM113 279h5v4h-5zM127 279h9v4h-9zM292 279h4v4h-4zM401 279h5v4h-5zM429 279h4v4h-4zM562 279h9v4h-9zM196 275h4v4h-4zM296 275h5v4h-5zM424 275h5v4h-5zM452 275h4v4h-4zM511 275h5v4h-5zM145 271h5v4h-5zM191 271h5v4h-5zM342 271h4v4h-4zM475 271h4v4h-4zM520 271h5v4h-5zM356 267h4v4h-4zM374 267h4v4h-4zM443 267h4v4h-4zM575 267h5v4h-5zM109 263h4v4h-4zM351 263h5v4h-5zM365 263h4v4h-4zM406 263h5v4h-5zM456 263h5v4h-5zM566 263h5v4h-5zM109 259h4v4h-4zM420 259h4v4h-4zM447 259h5v4h-5zM520 259h5v4h-5zM411 255h4v4h-4zM438 255h5v4h-5zM580 255h4v4h-4zM118 251h4v4h-4zM319 251h5v4h-5zM333 251h4v4h-4zM351 251h5v4h-5zM507 251h4v4h-4zM525 251h4v4h-4zM580 251h4v4h-4zM594 251h4v4h-4zM644 251h4v4h-4zM186 247h5v4h-5zM452 247h4v4h-4zM342 243h4v4h-4zM356 243h4v4h-4zM424 243h5v4h-5zM470 243h5v4h-5zM584 243h5v4h-5zM177 239h5v4h-5zM282 239h5v4h-5zM328 239h5v4h-5zM420 239h4v4h-4zM520 239h5v4h-5zM543 239h5v4h-5zM278 234h14v5h-14zM296 234h5v5h-5zM360 234h5v5h-5zM374 234h4v5h-4zM127 230h4v4h-4zM136 230h5v4h-5zM342 230h4v4h-4zM351 230h5v4h-5zM479 230h5v4h-5zM127 226h4v4h-4zM369 226h5v4h-5zM383 226h5v4h-5zM424 226h5v4h-5zM562 226h4v4h-4zM292 222h4v4h-4zM333 222h4v4h-4zM356 222h4v4h-4zM369 222h5v4h-5zM470 222h5v4h-5zM529 222h5v4h-5zM168 218h5v4h-5zM196 218h4v4h-4zM264 218h5v4h-5zM310 218h4v4h-4zM342 218h4v4h-4zM369 218h5v4h-5zM433 214h5v4h-5zM529 214h5v4h-5zM639 214h5v4h-5zM186 210h5v4h-5zM378 210h5v4h-5zM452 210h4v4h-4zM475 210h4v4h-4zM223 206h5v4h-5zM411 206h9v4h-9zM502 206h5v4h-5zM260 202h4v4h-4zM429 202h4v4h-4zM461 202h4v4h-4zM621 202h5v4h-5zM644 202h4v4h-4zM109 198h4v4h-4zM122 198h5v4h-5zM173 198h9v4h-9zM465 198h5v4h-5zM525 198h4v4h-4zM548 198h4v4h-4zM557 198h5v4h-5zM589 198h5v4h-5zM145 194h5v4h-5zM168 194h5v4h-5zM209 194h5v4h-5zM328 194h5v4h-5zM369 194h5v4h-5zM420 194h4v4h-4zM507 194h4v4h-4zM520 194h9v4h-9zM264 190h5v4h-5zM310 190h4v4h-4zM342 190h4v4h-4zM351 190h5v4h-5zM484 190h4v4h-4zM511 190h5v4h-5zM205 186h4v4h-4zM314 186h5v4h-5zM369 186h5v4h-5zM378 186h5v4h-5zM273 182h5v4h-5zM465 182h5v4h-5zM566 182h5v4h-5zM109 177h4v5h-4zM401 173h5v4h-5zM484 173h4v4h-4zM516 173h4v4h-4zM557 173h5v4h-5zM104 169h5v4h-5zM122 169h5v4h-5zM191 169h5v4h-5zM278 169h4v4h-4zM470 169h5v4h-5zM644 169h4v4h-4zM145 165h5v4h-5zM200 165h5v4h-5zM301 165h4v4h-4zM310 165h4v4h-4zM429 165h4v4h-4zM520 165h5v4h-5zM557 165h5v4h-5zM173 161h4v4h-4zM200 161h5v4h-5zM223 161h5v4h-5zM282 161h5v4h-5zM351 161h5v4h-5zM420 161h4v4h-4zM461 161h9v4h-9zM589 161h5v4h-5zM415 157h5v4h-5zM479 157h5v4h-5zM200 153h5v4h-5zM264 153h5v4h-5zM420 153h4v4h-4zM429 153h4v4h-4zM438 153h5v4h-5zM470 153h5v4h-5zM525 153h4v4h-4zM552 153h5v4h-5zM594 153h4v4h-4zM141 149h4v4h-4zM292 149h4v4h-4zM429 149h4v4h-4zM566 149h5v4h-5zM287 145h5v4h-5zM296 145h5v4h-5zM278 141h4v4h-4zM296 141h5v4h-5zM447 141h5v4h-5zM191 137h9v4h-9zM214 137h4v4h-4zM346 137h5v4h-5zM475 137h4v4h-4zM250 133h5v4h-5zM401 133h5v4h-5zM411 133h4v4h-4zM433 133h5v4h-5zM209 129h5v4h-5zM401 129h5v4h-5zM470 129h5v4h-5zM516 129h4v4h-4zM131 124h5v5h-5zM159 124h4v5h-4zM319 124h5v5h-5zM456 124h5v5h-5zM543 124h5v5h-5zM273 120h5v4h-5zM292 120h4v4h-4zM301 120h4v4h-4zM378 120h5v4h-5zM401 120h5v4h-5zM456 120h5v4h-5zM488 120h5v4h-5zM534 120h5v4h-5zM136 116h5v4h-5zM205 112h4v4h-4zM424 112h5v4h-5zM447 112h5v4h-5zM594 112h9v4h-9zM196 108h4v4h-4zM250 108h5v4h-5zM127 100h4v4h-4zM287 100h5v4h-5zM324 100h9v4h-9zM378 100h5v4h-5zM452 100h4v4h-4zM571 100h4v4h-4zM639 100h5v4h-5zM141 96h4v4h-4zM196 96h4v4h-4zM415 96h5v4h-5zM438 96h5v4h-5zM452 96h4v4h-4zM237 92h4v4h-4zM443 92h4v4h-4zM113 88h5v4h-5zM191 88h5v4h-5zM324 88h4v4h-4zM378 88h5v4h-5zM438 88h5v4h-5zM109 84h4v4h-4zM186 84h5v4h-5zM200 84h5v4h-5zM278 84h4v4h-4zM424 84h5v4h-5zM438 84h5v4h-5zM465 84h5v4h-5zM520 84h5v4h-5zM571 84h4v4h-4zM186 80h5v4h-5zM301 80h4v4h-4zM429 80h9v4h-9zM411 76h4v4h-4zM479 76h5v4h-5zM493 76h4v4h-4zM562 76h4v4h-4zM173 71h4v5h-4zM205 71h9v5h-9zM438 71h5v5h-5zM580 71h4v5h-4zM163 67h5v4h-5zM209 67h5v4h-5zM488 67h5v4h-5zM639 67h5v4h-5zM191 63h5v4h-5zM452 63h4v4h-4zM461 63h9v4h-9zM214 59h4v4h-4zM264 59h5v4h-5zM438 59h5v4h-5zM488 59h5v4h-5zM648 59h5v4h-5zM118 55h4v4h-4zM273 55h5v4h-5zM433 55h5v4h-5zM461 55h4v4h-4zM644 55h4v4h-4zM246 51h4v4h-4zM324 51h4v4h-4zM351 51h5v4h-5zM411 51h4v4h-4zM420 51h4v4h-4zM497 51h5v4h-5zM552 51h5v4h-5zM630 51h5v4h-5zM648 51h5v4h-5zM200 47h5v4h-5zM282 47h5v4h-5zM365 47h4v4h-4zM411 47h4v4h-4zM433 47h5v4h-5zM470 47h5v4h-5zM639 47h5v4h-5zM118 45h4v2h-4zM168 45h5v2h-5zM314 45h5v2h-5zM397 45h4v2h-4zM470 45h5v2h-5zM484 45h4v2h-4zM626 45h4v2h-4z"/><path fill="#0060ff" d="M104 532h5v2h-5zM159 532h4v2h-4zM186 532h5v2h-5zM273 532h9v2h-9zM319 532h9v2h-9zM548 532h4v2h-4zM346 402h5v4h-5zM562 397h4v5h-4zM406 385h5v4h-5zM484 381h4v4h-4zM534 373h5v4h-5zM557 373h5v4h-5zM369 369h5v4h-5zM424 369h5v4h-5zM443 365h4v4h-4zM493 365h4v4h-4zM562 365h4v4h-4zM479 361h5v4h-5zM342 357h4v4h-4zM406 357h5v4h-5zM443 357h4v4h-4zM548 357h4v4h-4zM351 353h5v4h-5zM388 353h4v4h-4zM571 353h4v4h-4zM141 349h4v4h-4zM443 349h4v4h-4zM493 349h4v4h-4zM154 340h5v5h-5zM406 340h5v5h-5zM392 336h5v4h-5zM571 336h4v4h-4zM589 336h5v4h-5zM154 332h5v4h-5zM411 332h4v4h-4zM580 332h4v4h-4zM118 328h4v4h-4zM127 328h4v4h-4zM356 328h4v4h-4zM378 328h5v4h-5zM507 328h4v4h-4zM589 328h5v4h-5zM136 324h5v4h-5zM342 324h4v4h-4zM557 324h5v4h-5zM502 320h5v4h-5zM584 320h10v4h-10zM639 320h5v4h-5zM131 316h5v4h-5zM356 316h4v4h-4zM369 316h5v4h-5zM392 316h5v4h-5zM420 316h4v4h-4zM562 316h4v4h-4zM571 316h4v4h-4zM118 312h4v4h-4zM131 312h5v4h-5zM154 312h5v4h-5zM314 312h5v4h-5zM388 312h4v4h-4zM443 312h4v4h-4zM475 312h4v4h-4zM552 312h5v4h-5zM571 312h4v4h-4zM122 308h5v4h-5zM145 308h5v4h-5zM141 304h4v4h-4zM324 304h4v4h-4zM401 304h5v4h-5zM529 304h5v4h-5zM159 300h4v4h-4zM314 300h5v4h-5zM411 300h4v4h-4zM429 300h4v4h-4zM461 300h4v4h-4zM548 300h4v4h-4zM113 296h5v4h-5zM127 296h4v4h-4zM296 296h5v4h-5zM328 296h5v4h-5zM415 296h5v4h-5zM429 296h4v4h-4zM571 296h4v4h-4zM584 296h5v4h-5zM594 296h4v4h-4zM113 292h5v4h-5zM150 292h4v4h-4zM287 292h5v4h-5zM296 292h5v4h-5zM342 292h4v4h-4zM401 292h5v4h-5zM552 292h5v4h-5zM562 292h4v4h-4zM328 287h5v5h-5zM401 287h5v5h-5zM415 287h5v5h-5zM424 287h5v5h-5zM589 287h5v5h-5zM621 287h5v5h-5zM328 283h5v4h-5zM461 283h4v4h-4zM529 283h10v4h-10zM584 283h5v4h-5zM328 279h5v4h-5zM337 279h5v4h-5zM433 279h5v4h-5zM443 279h4v4h-4zM548 279h4v4h-4zM177 275h5v4h-5zM282 275h5v4h-5zM493 275h4v4h-4zM502 275h5v4h-5zM282 271h5v4h-5zM305 271h5v4h-5zM314 271h5v4h-5zM497 271h5v4h-5zM534 271h5v4h-5zM571 271h4v4h-4zM580 271h4v4h-4zM113 267h5v4h-5zM182 267h9v4h-9zM465 267h5v4h-5zM594 267h4v4h-4zM113 263h5v4h-5zM122 263h5v4h-5zM310 263h4v4h-4zM388 263h4v4h-4zM424 263h5v4h-5zM488 263h5v4h-5zM497 263h5v4h-5zM520 263h9v4h-9zM539 263h9v4h-9zM154 259h5v4h-5zM543 259h5v4h-5zM150 255h4v4h-4zM168 255h5v4h-5zM305 255h5v4h-5zM337 255h5v4h-5zM470 255h5v4h-5zM511 255h5v4h-5zM566 255h5v4h-5zM282 251h5v4h-5zM324 251h4v4h-4zM346 251h5v4h-5zM420 251h4v4h-4zM470 251h5v4h-5zM497 251h5v4h-5zM543 251h5v4h-5zM131 247h5v4h-5zM342 247h4v4h-4zM301 243h4v4h-4zM438 243h5v4h-5zM502 243h5v4h-5zM104 239h5v4h-5zM333 239h4v4h-4zM365 239h4v4h-4zM557 239h5v4h-5zM626 239h4v4h-4zM122 234h5v5h-5zM250 234h5v5h-5zM465 234h5v5h-5zM571 234h4v5h-4zM113 230h5v4h-5zM292 230h4v4h-4zM314 230h5v4h-5zM324 230h9v4h-9zM392 230h5v4h-5zM497 230h5v4h-5zM584 230h5v4h-5zM639 230h5v4h-5zM104 226h5v4h-5zM328 226h5v4h-5zM356 226h4v4h-4zM479 226h5v4h-5zM511 226h5v4h-5zM154 222h5v4h-5zM182 222h9v4h-9zM324 222h4v4h-4zM465 222h5v4h-5zM562 222h4v4h-4zM571 222h4v4h-4zM626 222h4v4h-4zM346 218h5v4h-5zM378 218h5v4h-5zM388 218h4v4h-4zM552 218h5v4h-5zM218 214h5v4h-5zM438 214h5v4h-5zM282 210h5v4h-5zM305 210h5v4h-5zM411 210h4v4h-4zM543 210h5v4h-5zM177 206h5v4h-5zM282 206h5v4h-5zM296 206h5v4h-5zM310 206h4v4h-4zM356 206h4v4h-4zM447 206h5v4h-5zM594 206h4v4h-4zM177 202h5v4h-5zM282 202h5v4h-5zM475 202h9v4h-9zM516 202h4v4h-4zM200 198h5v4h-5zM264 198h5v4h-5zM433 198h5v4h-5zM520 198h5v4h-5zM118 194h4v4h-4zM301 194h4v4h-4zM456 194h5v4h-5zM502 194h5v4h-5zM594 194h4v4h-4zM273 190h5v4h-5zM365 190h4v4h-4zM429 190h4v4h-4zM310 186h4v4h-4zM337 186h5v4h-5zM488 186h9v4h-9zM635 186h4v4h-4zM118 182h4v4h-4zM278 182h4v4h-4zM397 182h4v4h-4zM493 182h4v4h-4zM525 182h4v4h-4zM282 177h5v5h-5zM420 177h4v5h-4zM557 177h5v5h-5zM589 177h5v5h-5zM301 173h4v4h-4zM539 173h4v4h-4zM173 169h4v4h-4zM333 169h4v4h-4zM411 169h4v4h-4zM214 165h4v4h-4zM287 165h5v4h-5zM438 165h5v4h-5zM214 161h4v4h-4zM310 161h4v4h-4zM406 161h5v4h-5zM113 157h5v4h-5zM150 157h4v4h-4zM383 157h5v4h-5zM406 157h5v4h-5zM429 157h4v4h-4zM566 157h5v4h-5zM406 153h5v4h-5zM507 153h4v4h-4zM205 149h13v4h-13zM324 149h4v4h-4zM456 149h14v4h-14zM475 149h4v4h-4zM520 149h9v4h-9zM648 149h5v4h-5zM205 145h4v4h-4zM278 145h4v4h-4zM314 145h5v4h-5zM475 145h4v4h-4zM209 141h5v4h-5zM411 141h4v4h-4zM443 141h4v4h-4zM566 141h5v4h-5zM580 141h4v4h-4zM118 137h4v4h-4zM218 137h5v4h-5zM287 137h5v4h-5zM301 137h4v4h-4zM443 137h13v4h-13zM461 137h4v4h-4zM205 133h4v4h-4zM218 133h5v4h-5zM429 133h4v4h-4zM470 133h9v4h-9zM562 133h4v4h-4zM626 133h4v4h-4zM250 129h10v4h-10zM411 129h4v4h-4zM200 124h5v5h-5zM246 124h4v5h-4zM470 124h5v5h-5zM488 124h5v5h-5zM131 120h5v4h-5zM150 120h4v4h-4zM269 120h4v4h-4zM282 120h5v4h-5zM342 120h4v4h-4zM411 120h9v4h-9zM630 120h5v4h-5zM104 116h5v4h-5zM205 116h4v4h-4zM214 116h4v4h-4zM424 116h5v4h-5zM433 116h5v4h-5zM452 116h9v4h-9zM200 112h5v4h-5zM479 108h5v4h-5zM191 104h5v4h-5zM214 104h4v4h-4zM324 104h4v4h-4zM406 104h9v4h-9zM571 104h4v4h-4zM237 100h4v4h-4zM255 100h5v4h-5zM292 100h4v4h-4zM424 100h5v4h-5zM438 100h5v4h-5zM484 100h4v4h-4zM630 100h5v4h-5zM250 96h5v4h-5zM296 96h5v4h-5zM351 96h5v4h-5zM433 96h5v4h-5zM648 96h5v4h-5zM214 92h4v4h-4zM260 92h4v4h-4zM287 92h5v4h-5zM461 92h4v4h-4zM255 88h5v4h-5zM287 88h5v4h-5zM461 88h4v4h-4zM241 84h9v4h-9zM282 84h5v4h-5zM292 84h4v4h-4zM543 84h5v4h-5zM648 84h5v4h-5zM246 80h4v4h-4zM438 80h5v4h-5zM552 80h5v4h-5zM278 76h4v4h-4zM529 76h5v4h-5zM552 76h5v4h-5zM104 71h5v5h-5zM292 71h4v5h-4zM360 71h5v5h-5zM378 71h5v5h-5zM113 67h5v4h-5zM127 67h4v4h-4zM241 67h5v4h-5zM411 67h4v4h-4zM456 67h9v4h-9zM205 63h4v4h-4zM301 63h4v4h-4zM433 63h5v4h-5zM163 59h5v4h-5zM228 59h4v4h-4zM452 59h4v4h-4zM607 59h5v4h-5zM150 55h4v4h-4zM420 55h4v4h-4zM200 51h5v4h-5zM150 47h4v4h-4zM228 47h9v4h-9zM374 47h4v4h-4zM456 47h5v4h-5zM475 47h4v4h-4zM520 47h5v4h-5zM205 45h4v2h-4zM324 45h4v2h-4zM415 45h5v2h-5zM433 45h5v2h-5z"/><path fill="#0070ff" d="M168 532h5v2h-5zM305 532h5v2h-5zM342 532h4v2h-4zM360 402h5v4h-5zM365 397h4v5h-4zM557 393h5v4h-5zM557 389h5v4h-5zM342 385h4v4h-4zM520 385h5v4h-5zM571 377h4v4h-4zM562 373h4v4h-4zM104 369h5v4h-5zM378 369h5v4h-5zM127 365h4v4h-4zM369 365h9v4h-9zM342 361h4v4h-4zM433 361h5v4h-5zM562 361h9v4h-9zM584 361h5v4h-5zM369 357h5v4h-5zM557 357h9v4h-9zM356 353h4v4h-4zM401 353h5v4h-5zM433 353h5v4h-5zM580 353h9v4h-9zM415 349h5v4h-5zM324 345h4v4h-4zM401 345h5v4h-5zM424 345h5v4h-5zM552 345h5v4h-5zM383 340h5v5h-5zM424 340h5v5h-5zM543 340h5v5h-5zM374 336h4v4h-4zM420 336h4v4h-4zM127 332h4v4h-4zM163 332h5v4h-5zM346 332h5v4h-5zM365 332h4v4h-4zM397 332h4v4h-4zM488 328h5v4h-5zM168 324h5v4h-5zM296 324h5v4h-5zM360 324h9v4h-9zM447 324h5v4h-5zM552 324h5v4h-5zM566 324h5v4h-5zM319 320h5v4h-5zM529 320h5v4h-5zM594 320h4v4h-4zM168 316h5v4h-5zM328 316h5v4h-5zM351 316h5v4h-5zM360 316h5v4h-5zM484 316h9v4h-9zM589 316h5v4h-5zM127 312h4v4h-4zM337 312h5v4h-5zM369 312h5v4h-5zM429 312h4v4h-4zM543 312h5v4h-5zM113 308h5v4h-5zM374 308h4v4h-4zM424 308h5v4h-5zM497 308h5v4h-5zM571 308h4v4h-4zM639 308h5v4h-5zM104 304h5v4h-5zM113 304h5v4h-5zM131 304h5v4h-5zM150 304h4v4h-4zM337 304h5v4h-5zM346 304h5v4h-5zM365 304h4v4h-4zM562 304h4v4h-4zM127 300h4v4h-4zM324 300h4v4h-4zM539 300h4v4h-4zM159 296h4v4h-4zM168 296h5v4h-5zM177 296h5v4h-5zM314 296h5v4h-5zM324 296h4v4h-4zM424 296h5v4h-5zM493 296h4v4h-4zM511 296h9v4h-9zM136 292h5v4h-5zM177 292h5v4h-5zM328 292h5v4h-5zM351 292h5v4h-5zM369 292h5v4h-5zM470 292h5v4h-5zM516 292h4v4h-4zM525 292h9v4h-9zM575 292h5v4h-5zM589 292h5v4h-5zM292 287h4v5h-4zM305 287h5v5h-5zM360 287h5v5h-5zM433 287h5v5h-5zM346 283h10v4h-10zM374 283h4v4h-4zM502 283h5v4h-5zM552 283h5v4h-5zM118 279h4v4h-4zM191 279h5v4h-5zM342 279h4v4h-4zM378 279h5v4h-5zM406 279h5v4h-5zM525 279h4v4h-4zM109 275h4v4h-4zM310 275h4v4h-4zM337 275h9v4h-9zM356 275h4v4h-4zM365 275h4v4h-4zM475 275h4v4h-4zM516 275h4v4h-4zM566 275h5v4h-5zM589 275h5v4h-5zM159 271h4v4h-4zM456 271h5v4h-5zM479 271h5v4h-5zM626 271h4v4h-4zM644 271h4v4h-4zM141 267h4v4h-4zM191 267h5v4h-5zM342 267h4v4h-4zM365 267h4v4h-4zM388 267h4v4h-4zM470 267h5v4h-5zM502 267h5v4h-5zM562 267h4v4h-4zM136 263h5v4h-5zM438 263h5v4h-5zM447 263h5v4h-5zM552 263h5v4h-5zM594 263h4v4h-4zM131 259h5v4h-5zM196 259h4v4h-4zM269 259h4v4h-4zM406 259h5v4h-5zM484 259h4v4h-4zM493 259h4v4h-4zM557 259h5v4h-5zM639 259h5v4h-5zM314 255h5v4h-5zM328 255h5v4h-5zM443 255h4v4h-4zM516 255h4v4h-4zM557 255h5v4h-5zM589 255h5v4h-5zM113 251h5v4h-5zM136 251h5v4h-5zM173 251h4v4h-4zM447 251h5v4h-5zM479 251h5v4h-5zM168 247h5v4h-5zM200 247h5v4h-5zM264 247h5v4h-5zM278 247h4v4h-4zM479 247h5v4h-5zM493 247h4v4h-4zM562 247h4v4h-4zM131 243h5v4h-5zM200 243h5v4h-5zM264 243h5v4h-5zM310 243h4v4h-4zM351 243h5v4h-5zM365 243h4v4h-4zM406 243h5v4h-5zM465 243h5v4h-5zM264 239h5v4h-5zM401 239h5v4h-5zM461 239h4v4h-4zM324 234h4v5h-4zM475 234h4v5h-4zM497 234h5v5h-5zM639 234h5v5h-5zM104 230h5v4h-5zM301 230h4v4h-4zM443 230h4v4h-4zM406 226h5v4h-5zM420 226h4v4h-4zM360 222h5v4h-5zM411 222h4v4h-4zM539 222h4v4h-4zM127 218h4v4h-4zM200 218h5v4h-5zM314 218h5v4h-5zM415 218h5v4h-5zM424 218h5v4h-5zM456 218h5v4h-5zM493 218h4v4h-4zM539 218h4v4h-4zM191 214h5v4h-5zM342 214h4v4h-4zM584 214h5v4h-5zM136 210h5v4h-5zM168 210h5v4h-5zM520 210h5v4h-5zM626 210h4v4h-4zM173 206h4v4h-4zM200 202h5v4h-5zM273 202h5v4h-5zM433 202h10v4h-10zM470 202h5v4h-5zM493 202h4v4h-4zM548 202h4v4h-4zM584 202h5v4h-5zM639 202h5v4h-5zM205 198h4v4h-4zM342 198h4v4h-4zM388 198h4v4h-4zM447 198h5v4h-5zM484 198h4v4h-4zM397 194h9v4h-9zM150 190h4v4h-4zM191 190h5v4h-5zM209 190h5v4h-5zM282 190h5v4h-5zM301 190h4v4h-4zM314 190h5v4h-5zM516 190h4v4h-4zM584 190h5v4h-5zM612 190h4v4h-4zM118 186h4v4h-4zM223 186h5v4h-5zM232 186h5v4h-5zM292 186h4v4h-4zM438 186h5v4h-5zM461 186h4v4h-4zM475 186h4v4h-4zM525 186h4v4h-4zM168 182h5v4h-5zM433 182h5v4h-5zM452 182h4v4h-4zM191 177h14v5h-14zM287 177h5v5h-5zM429 177h4v5h-4zM438 177h5v5h-5zM456 177h5v5h-5zM182 173h4v4h-4zM269 173h4v4h-4zM465 173h5v4h-5zM497 173h5v4h-5zM200 169h5v4h-5zM319 169h5v4h-5zM479 169h5v4h-5zM621 169h5v4h-5zM264 165h5v4h-5zM456 165h5v4h-5zM465 165h5v4h-5zM342 161h4v4h-4zM365 161h4v4h-4zM626 161h4v4h-4zM168 157h5v4h-5zM264 157h5v4h-5zM420 157h9v4h-9zM443 157h4v4h-4zM475 157h4v4h-4zM580 157h4v4h-4zM639 157h5v4h-5zM205 153h4v4h-4zM241 153h5v4h-5zM342 153h4v4h-4zM452 153h4v4h-4zM461 153h4v4h-4zM479 153h5v4h-5zM529 153h5v4h-5zM548 153h4v4h-4zM580 153h4v4h-4zM264 149h5v4h-5zM287 149h5v4h-5zM328 149h5v4h-5zM342 149h4v4h-4zM525 145h4v4h-4zM648 145h5v4h-5zM273 137h5v4h-5zM397 137h4v4h-4zM415 137h9v4h-9zM301 133h4v4h-4zM319 133h5v4h-5zM452 133h4v4h-4zM342 124h4v5h-4zM214 120h4v4h-4zM241 120h5v4h-5zM118 116h4v4h-4zM420 116h4v4h-4zM443 116h4v4h-4zM246 112h9v4h-9zM260 112h9v4h-9zM182 108h4v4h-4zM644 108h4v4h-4zM141 104h4v4h-4zM287 104h5v4h-5zM131 100h5v4h-5zM209 100h9v4h-9zM246 100h4v4h-4zM269 100h4v4h-4zM406 100h5v4h-5zM516 100h4v4h-4zM255 96h5v4h-5zM292 96h4v4h-4zM342 96h4v4h-4zM607 92h5v4h-5zM639 92h5v4h-5zM214 88h4v4h-4zM223 88h5v4h-5zM424 88h5v4h-5zM644 88h4v4h-4zM333 84h4v4h-4zM484 84h4v4h-4zM196 80h4v4h-4zM511 80h5v4h-5zM630 80h5v4h-5zM228 76h4v4h-4zM264 76h5v4h-5zM296 76h5v4h-5zM484 76h4v4h-4zM241 71h5v5h-5zM255 71h5v5h-5zM278 71h4v5h-4zM301 71h4v5h-4zM273 67h5v4h-5zM539 67h4v4h-4zM644 63h4v4h-4zM127 59h4v4h-4zM200 59h5v4h-5zM429 59h4v4h-4zM443 55h4v4h-4zM470 55h5v4h-5zM626 55h4v4h-4zM196 51h4v4h-4zM214 51h4v4h-4zM301 51h4v4h-4zM365 51h4v4h-4zM424 51h5v4h-5zM438 51h5v4h-5zM461 51h4v4h-4zM438 47h5v4h-5zM452 47h4v4h-4zM584 47h5v4h-5zM282 45h5v2h-5zM392 45h5v2h-5zM438 45h5v2h-5zM447 45h5v2h-5z"/><path fill="#0080ff" d="M296 532h9v2h-9zM314 532h5v2h-5zM438 532h5v2h-5zM433 434h5v4h-5zM346 430h5v4h-5zM374 410h4v4h-4zM346 406h5v4h-5zM351 397h5v5h-5zM346 393h5v4h-5zM351 389h5v4h-5zM378 385h5v4h-5zM392 381h5v4h-5zM351 377h5v4h-5zM360 377h5v4h-5zM406 377h5v4h-5zM525 377h4v4h-4zM365 373h4v4h-4zM415 373h5v4h-5zM566 373h5v4h-5zM328 369h5v4h-5zM397 369h4v4h-4zM571 369h4v4h-4zM159 365h4v4h-4zM406 365h5v4h-5zM433 365h5v4h-5zM520 365h5v4h-5zM420 361h4v4h-4zM575 361h5v4h-5zM594 361h4v4h-4zM163 357h5v4h-5zM543 357h5v4h-5zM415 353h5v4h-5zM502 353h5v4h-5zM557 353h5v4h-5zM159 349h4v4h-4zM369 349h5v4h-5zM424 349h5v4h-5zM456 349h5v4h-5zM511 349h5v4h-5zM163 345h5v4h-5zM378 345h5v4h-5zM411 340h4v5h-4zM562 340h4v5h-4zM351 336h5v4h-5zM365 336h4v4h-4zM397 336h4v4h-4zM520 336h5v4h-5zM639 336h5v4h-5zM534 332h5v4h-5zM562 332h4v4h-4zM173 328h4v4h-4zM282 328h5v4h-5zM365 328h4v4h-4zM141 324h4v4h-4zM163 324h5v4h-5zM319 324h5v4h-5zM383 324h5v4h-5zM401 324h10v4h-10zM424 324h5v4h-5zM433 324h5v4h-5zM488 324h5v4h-5zM571 324h4v4h-4zM136 320h5v4h-5zM406 320h5v4h-5zM424 320h5v4h-5zM461 320h4v4h-4zM562 320h4v4h-4zM109 316h4v4h-4zM177 316h5v4h-5zM200 316h5v4h-5zM378 316h14v4h-14zM109 312h4v4h-4zM145 312h9v4h-9zM360 312h5v4h-5zM397 312h4v4h-4zM424 312h5v4h-5zM580 312h4v4h-4zM589 312h5v4h-5zM342 308h4v4h-4zM401 308h10v4h-10zM136 304h5v4h-5zM351 304h5v4h-5zM397 304h4v4h-4zM420 304h4v4h-4zM109 300h4v4h-4zM282 300h5v4h-5zM356 300h4v4h-4zM401 300h5v4h-5zM424 300h5v4h-5zM447 300h5v4h-5zM562 300h4v4h-4zM346 296h5v4h-5zM507 296h4v4h-4zM109 292h4v4h-4zM131 292h5v4h-5zM145 292h5v4h-5zM163 292h5v4h-5zM182 292h4v4h-4zM392 292h5v4h-5zM406 292h5v4h-5zM507 292h4v4h-4zM584 292h5v4h-5zM113 287h5v5h-5zM141 287h4v5h-4zM150 287h4v5h-4zM191 287h5v5h-5zM282 287h5v5h-5zM314 287h5v5h-5zM333 287h4v5h-4zM420 287h4v5h-4zM456 287h5v5h-5zM479 287h5v5h-5zM502 287h5v5h-5zM575 287h5v5h-5zM594 287h4v5h-4zM163 283h5v4h-5zM186 283h5v4h-5zM314 283h5v4h-5zM337 283h5v4h-5zM356 283h4v4h-4zM406 283h5v4h-5zM470 283h5v4h-5zM511 283h5v4h-5zM122 279h5v4h-5zM150 279h4v4h-4zM333 279h4v4h-4zM479 279h5v4h-5zM493 279h4v4h-4zM502 279h5v4h-5zM539 279h4v4h-4zM260 275h4v4h-4zM461 275h4v4h-4zM484 275h4v4h-4zM131 271h10v4h-10zM182 271h9v4h-9zM319 271h5v4h-5zM406 271h5v4h-5zM420 271h9v4h-9zM447 271h5v4h-5zM159 267h4v4h-4zM264 267h9v4h-9zM461 267h4v4h-4zM333 263h4v4h-4zM443 263h4v4h-4zM507 263h4v4h-4zM584 263h5v4h-5zM113 259h5v4h-5zM264 259h5v4h-5zM305 259h5v4h-5zM324 259h9v4h-9zM507 259h4v4h-4zM589 259h5v4h-5zM113 255h5v4h-5zM301 255h4v4h-4zM333 255h4v4h-4zM388 255h4v4h-4zM461 255h4v4h-4zM479 255h5v4h-5zM328 251h5v4h-5zM552 251h5v4h-5zM589 251h5v4h-5zM154 247h5v4h-5zM287 247h5v4h-5zM456 247h5v4h-5zM502 247h5v4h-5zM113 243h5v4h-5zM127 243h4v4h-4zM282 243h5v4h-5zM333 243h4v4h-4zM163 239h5v4h-5zM209 239h5v4h-5zM383 239h5v4h-5zM406 239h5v4h-5zM456 239h5v4h-5zM479 239h5v4h-5zM534 239h5v4h-5zM154 234h5v5h-5zM292 234h4v5h-4zM383 234h5v5h-5zM438 234h5v5h-5zM502 234h5v5h-5zM525 234h4v5h-4zM534 234h5v5h-5zM626 234h4v5h-4zM196 230h4v4h-4zM415 230h9v4h-9zM562 230h4v4h-4zM301 226h4v4h-4zM415 226h5v4h-5zM452 226h4v4h-4zM465 226h5v4h-5zM520 226h5v4h-5zM626 226h4v4h-4zM639 226h5v4h-5zM328 222h5v4h-5zM534 222h5v4h-5zM191 218h5v4h-5zM411 218h4v4h-4zM497 218h5v4h-5zM562 218h4v4h-4zM296 214h5v4h-5zM406 214h5v4h-5zM447 214h5v4h-5zM237 210h4v4h-4zM273 210h5v4h-5zM447 210h5v4h-5zM497 210h5v4h-5zM273 206h5v4h-5zM420 206h4v4h-4zM168 202h5v4h-5zM264 202h5v4h-5zM287 202h5v4h-5zM497 202h5v4h-5zM539 202h4v4h-4zM648 202h5v4h-5zM406 198h5v4h-5zM420 198h4v4h-4zM626 198h4v4h-4zM639 198h9v4h-9zM488 194h5v4h-5zM177 190h5v4h-5zM397 190h4v4h-4zM447 190h5v4h-5zM639 190h5v4h-5zM196 186h4v4h-4zM209 186h5v4h-5zM465 186h10v4h-10zM232 182h9v4h-9zM264 182h5v4h-5zM301 182h4v4h-4zM401 182h5v4h-5zM516 182h4v4h-4zM214 177h4v5h-4zM260 177h4v5h-4zM273 177h5v5h-5zM626 177h4v5h-4zM191 173h5v4h-5zM255 173h5v4h-5zM456 173h5v4h-5zM562 173h4v4h-4zM571 173h4v4h-4zM621 173h5v4h-5zM438 169h5v4h-5zM525 169h4v4h-4zM196 165h4v4h-4zM223 165h5v4h-5zM612 165h4v4h-4zM626 165h4v4h-4zM644 165h9v4h-9zM218 161h5v4h-5zM529 161h5v4h-5zM191 157h5v4h-5zM209 157h5v4h-5zM378 157h5v4h-5zM191 153h5v4h-5zM269 153h4v4h-4zM465 153h5v4h-5zM621 153h5v4h-5zM223 149h5v4h-5zM269 149h4v4h-4zM374 149h4v4h-4zM452 149h4v4h-4zM214 145h4v4h-4zM223 145h5v4h-5zM598 145h5v4h-5zM644 145h4v4h-4zM237 141h9v4h-9zM328 141h5v4h-5zM282 137h5v4h-5zM438 137h5v4h-5zM470 137h5v4h-5zM223 133h5v4h-5zM260 129h4v4h-4zM273 129h5v4h-5zM420 129h4v4h-4zM196 124h4v5h-4zM218 124h5v5h-5zM269 124h4v5h-4zM292 124h4v5h-4zM438 124h5v5h-5zM461 124h4v5h-4zM479 124h5v5h-5zM580 124h4v5h-4zM260 120h9v4h-9zM310 120h9v4h-9zM287 116h5v4h-5zM415 116h5v4h-5zM539 116h4v4h-4zM648 116h5v4h-5zM136 112h5v4h-5zM351 112h5v4h-5zM456 112h5v4h-5zM200 108h5v4h-5zM246 108h4v4h-4zM314 108h5v4h-5zM461 108h4v4h-4zM104 104h5v4h-5zM246 104h4v4h-4zM260 104h4v4h-4zM273 104h5v4h-5zM639 104h9v4h-9zM200 100h5v4h-5zM644 100h4v4h-4zM264 96h5v4h-5zM470 96h5v4h-5zM639 96h5v4h-5zM246 92h4v4h-4zM278 92h4v4h-4zM415 92h5v4h-5zM228 88h4v4h-4zM420 84h4v4h-4zM461 84h4v4h-4zM621 84h5v4h-5zM141 80h4v4h-4zM250 80h5v4h-5zM621 80h5v4h-5zM644 80h9v4h-9zM141 76h4v4h-4zM360 76h5v4h-5zM648 76h5v4h-5zM260 71h4v5h-4zM456 71h5v5h-5zM488 71h5v5h-5zM594 71h4v5h-4zM205 67h4v4h-4zM465 67h5v4h-5zM484 67h4v4h-4zM644 67h4v4h-4zM223 59h5v4h-5zM241 59h5v4h-5zM406 59h5v4h-5zM465 59h5v4h-5zM607 55h5v4h-5zM168 51h5v4h-5zM237 51h4v4h-4zM273 51h5v4h-5zM484 51h4v4h-4zM626 47h13v4h-13zM644 47h4v4h-4zM131 45h5v2h-5zM232 45h5v2h-5zM246 45h4v2h-4zM255 45h5v2h-5z"/><path fill="#008fff" d="M205 532h4v2h-4zM237 532h4v2h-4zM589 532h5v2h-5zM369 442h5v4h-5zM433 430h5v4h-5zM378 410h5v4h-5zM365 402h4v4h-4zM511 402h5v4h-5zM543 397h5v5h-5zM186 393h5v4h-5zM365 393h4v4h-4zM397 393h4v4h-4zM159 385h4v4h-4zM365 385h4v4h-4zM433 385h5v4h-5zM534 381h5v4h-5zM557 381h5v4h-5zM374 377h4v4h-4zM552 377h5v4h-5zM104 373h5v4h-5zM159 373h4v4h-4zM516 373h4v4h-4zM543 373h5v4h-5zM484 365h4v4h-4zM580 365h4v4h-4zM351 361h5v4h-5zM388 361h4v4h-4zM493 361h4v4h-4zM507 361h4v4h-4zM520 361h5v4h-5zM141 357h4v4h-4zM420 357h4v4h-4zM580 357h4v4h-4zM141 353h4v4h-4zM383 353h5v4h-5zM397 353h4v4h-4zM424 353h5v4h-5zM479 353h5v4h-5zM507 353h4v4h-4zM122 349h5v4h-5zM131 349h5v4h-5zM365 349h4v4h-4zM406 349h5v4h-5zM461 349h4v4h-4zM104 345h5v4h-5zM177 345h5v4h-5zM351 345h9v4h-9zM392 345h5v4h-5zM420 345h4v4h-4zM456 345h5v4h-5zM529 345h5v4h-5zM580 345h14v4h-14zM141 340h4v5h-4zM392 340h5v5h-5zM401 340h5v5h-5zM529 340h5v5h-5zM145 336h5v4h-5zM356 336h4v4h-4zM415 336h5v4h-5zM502 336h5v4h-5zM525 336h4v4h-4zM552 336h5v4h-5zM584 336h5v4h-5zM378 332h5v4h-5zM443 332h4v4h-4zM571 332h4v4h-4zM159 328h4v4h-4zM374 328h4v4h-4zM401 328h5v4h-5zM415 328h5v4h-5zM429 328h4v4h-4zM456 328h5v4h-5zM470 328h5v4h-5zM516 328h4v4h-4zM534 328h5v4h-5zM557 328h5v4h-5zM113 324h5v4h-5zM470 324h5v4h-5zM516 324h4v4h-4zM337 316h5v4h-5zM447 316h5v4h-5zM497 316h10v4h-10zM543 316h5v4h-5zM104 312h5v4h-5zM282 312h5v4h-5zM333 312h4v4h-4zM342 312h4v4h-4zM411 312h13v4h-13zM456 312h5v4h-5zM488 312h9v4h-9zM118 308h4v4h-4zM154 308h5v4h-5zM292 308h4v4h-4zM337 308h5v4h-5zM287 304h5v4h-5zM296 304h5v4h-5zM356 304h4v4h-4zM461 304h4v4h-4zM475 304h4v4h-4zM493 304h4v4h-4zM511 304h5v4h-5zM104 300h5v4h-5zM186 300h5v4h-5zM319 300h5v4h-5zM475 300h4v4h-4zM507 300h4v4h-4zM525 300h14v4h-14zM141 296h9v4h-9zM360 296h5v4h-5zM465 296h10v4h-10zM484 296h4v4h-4zM502 296h5v4h-5zM548 296h4v4h-4zM566 296h5v4h-5zM621 296h5v4h-5zM122 292h5v4h-5zM186 292h5v4h-5zM447 292h5v4h-5zM484 292h9v4h-9zM502 292h5v4h-5zM383 287h5v5h-5zM470 287h5v5h-5zM562 287h4v5h-4zM319 283h5v4h-5zM333 283h4v4h-4zM424 283h5v4h-5zM438 283h5v4h-5zM488 283h5v4h-5zM136 279h5v4h-5zM186 279h5v4h-5zM296 279h5v4h-5zM305 279h5v4h-5zM420 279h4v4h-4zM497 279h5v4h-5zM529 279h5v4h-5zM589 279h5v4h-5zM186 275h5v4h-5zM351 275h5v4h-5zM406 275h5v4h-5zM433 275h10v4h-10zM456 275h5v4h-5zM479 275h5v4h-5zM507 275h4v4h-4zM520 275h9v4h-9zM534 275h5v4h-5zM639 275h5v4h-5zM173 271h4v4h-4zM324 271h4v4h-4zM484 271h9v4h-9zM548 271h4v4h-4zM566 271h5v4h-5zM594 271h4v4h-4zM196 267h4v4h-4zM333 267h4v4h-4zM406 267h5v4h-5zM447 267h5v4h-5zM539 267h4v4h-4zM580 267h4v4h-4zM131 263h5v4h-5zM305 263h5v4h-5zM461 263h4v4h-4zM159 259h4v4h-4zM415 259h5v4h-5zM465 259h5v4h-5zM475 259h4v4h-4zM566 259h5v4h-5zM420 255h4v4h-4zM465 255h5v4h-5zM484 255h4v4h-4zM493 255h4v4h-4zM644 255h4v4h-4zM168 251h5v4h-5zM287 251h5v4h-5zM438 251h5v4h-5zM452 251h4v4h-4zM534 251h9v4h-9zM584 251h5v4h-5zM626 251h4v4h-4zM159 247h4v4h-4zM351 247h5v4h-5zM465 247h5v4h-5zM525 247h4v4h-4zM571 247h4v4h-4zM644 247h4v4h-4zM534 243h5v4h-5zM552 243h10v4h-10zM571 243h4v4h-4zM278 239h4v4h-4zM424 239h5v4h-5zM127 234h4v5h-4zM301 234h4v5h-4zM415 234h5v5h-5zM543 234h5v5h-5zM223 230h5v4h-5zM269 230h4v4h-4zM287 230h5v4h-5zM411 230h4v4h-4zM456 230h5v4h-5zM594 230h4v4h-4zM200 226h5v4h-5zM296 226h5v4h-5zM443 226h4v4h-4zM484 226h4v4h-4zM191 222h5v4h-5zM438 222h9v4h-9zM452 222h4v4h-4zM461 222h4v4h-4zM511 222h5v4h-5zM109 218h4v4h-4zM209 218h5v4h-5zM301 218h4v4h-4zM516 218h4v4h-4zM626 214h4v4h-4zM209 210h5v4h-5zM223 210h5v4h-5zM571 210h4v4h-4zM644 210h4v4h-4zM278 206h4v4h-4zM360 206h5v4h-5zM461 206h4v4h-4zM470 206h5v4h-5zM493 206h4v4h-4zM539 206h9v4h-9zM571 206h4v4h-4zM150 202h4v4h-4zM205 202h4v4h-4zM223 202h5v4h-5zM278 202h4v4h-4zM452 202h4v4h-4zM191 198h5v4h-5zM232 198h5v4h-5zM282 198h5v4h-5zM438 198h5v4h-5zM456 198h5v4h-5zM493 198h4v4h-4zM507 198h4v4h-4zM177 194h5v4h-5zM214 194h4v4h-4zM310 194h4v4h-4zM420 186h4v4h-4zM484 186h4v4h-4zM612 186h4v4h-4zM260 182h4v4h-4zM456 182h5v4h-5zM269 177h4v5h-4zM301 177h4v5h-4zM360 177h5v5h-5zM465 177h5v5h-5zM484 177h4v5h-4zM639 177h5v5h-5zM237 173h4v4h-4zM525 173h4v4h-4zM205 169h4v4h-4zM465 169h5v4h-5zM232 161h5v4h-5zM250 161h5v4h-5zM260 161h4v4h-4zM292 161h4v4h-4zM301 161h4v4h-4zM196 157h4v4h-4zM282 157h5v4h-5zM461 157h4v4h-4zM525 157h4v4h-4zM621 157h5v4h-5zM648 157h5v4h-5zM383 153h5v4h-5zM415 153h5v4h-5zM447 153h5v4h-5zM635 153h4v4h-4zM250 149h5v4h-5zM479 149h5v4h-5zM209 145h5v4h-5zM273 145h5v4h-5zM301 145h4v4h-4zM424 145h5v4h-5zM287 141h5v4h-5zM301 141h4v4h-4zM639 141h5v4h-5zM401 137h5v4h-5zM639 137h5v4h-5zM209 133h5v4h-5zM255 133h5v4h-5zM598 133h5v4h-5zM639 133h9v4h-9zM223 129h5v4h-5zM246 129h4v4h-4zM626 129h4v4h-4zM260 124h4v5h-4zM411 124h9v5h-9zM196 120h4v4h-4zM250 120h5v4h-5zM420 120h4v4h-4zM639 120h5v4h-5zM196 116h4v4h-4zM241 116h5v4h-5zM269 116h4v4h-4zM314 116h5v4h-5zM411 116h4v4h-4zM461 116h4v4h-4zM543 116h5v4h-5zM223 112h5v4h-5zM237 112h4v4h-4zM420 112h4v4h-4zM470 112h5v4h-5zM648 112h5v4h-5zM131 108h5v4h-5zM292 108h4v4h-4zM196 104h4v4h-4zM209 104h5v4h-5zM438 104h5v4h-5zM616 104h5v4h-5zM218 100h5v4h-5zM264 100h5v4h-5zM301 100h4v4h-4zM314 100h5v4h-5zM223 96h5v4h-5zM269 96h4v4h-4zM282 96h5v4h-5zM607 96h5v4h-5zM196 92h4v4h-4zM264 92h5v4h-5zM438 92h5v4h-5zM196 88h4v4h-4zM246 88h4v4h-4zM310 88h4v4h-4zM447 88h5v4h-5zM488 88h5v4h-5zM621 88h5v4h-5zM223 84h5v4h-5zM237 80h9v4h-9zM626 80h4v4h-4zM196 76h4v4h-4zM378 76h5v4h-5zM594 76h4v4h-4zM621 76h5v4h-5zM218 71h5v5h-5zM433 71h5v5h-5zM571 71h4v5h-4zM228 67h4v4h-4zM246 67h4v4h-4zM278 67h4v4h-4zM310 67h4v4h-4zM255 63h5v4h-5zM598 63h5v4h-5zM260 59h4v4h-4zM424 59h5v4h-5zM433 59h5v4h-5zM232 55h5v4h-5zM260 55h4v4h-4zM452 55h4v4h-4zM584 55h5v4h-5zM228 51h4v4h-4zM314 51h5v4h-5zM415 51h5v4h-5zM218 47h5v4h-5zM447 47h5v4h-5zM488 47h5v4h-5zM191 45h5v2h-5zM223 45h5v2h-5zM237 45h4v2h-4zM420 45h4v2h-4zM644 45h4v2h-4z"/><path fill="#009fff" d="M177 532h5v2h-5zM264 532h5v2h-5zM328 532h5v2h-5zM525 532h4v2h-4zM543 532h5v2h-5zM346 422h5v4h-5zM365 410h4v4h-4zM534 406h5v4h-5zM580 402h4v4h-4zM539 397h4v5h-4zM557 397h5v5h-5zM534 389h5v4h-5zM562 389h4v4h-4zM584 389h5v4h-5zM571 385h4v4h-4zM314 381h5v4h-5zM356 381h4v4h-4zM497 381h5v4h-5zM562 381h4v4h-4zM571 381h4v4h-4zM127 377h4v4h-4zM159 377h4v4h-4zM420 377h4v4h-4zM516 377h4v4h-4zM543 377h5v4h-5zM562 377h4v4h-4zM580 377h4v4h-4zM356 373h4v4h-4zM369 373h5v4h-5zM443 373h4v4h-4zM502 373h5v4h-5zM159 369h4v4h-4zM525 369h4v4h-4zM301 365h4v4h-4zM342 365h4v4h-4zM351 365h5v4h-5zM575 365h5v4h-5zM159 361h4v4h-4zM346 361h5v4h-5zM365 361h4v4h-4zM374 361h9v4h-9zM378 357h5v4h-5zM388 357h9v4h-9zM529 357h5v4h-5zM566 357h5v4h-5zM163 353h5v4h-5zM374 353h4v4h-4zM562 353h4v4h-4zM118 349h4v4h-4zM177 349h5v4h-5zM292 349h4v4h-4zM525 349h4v4h-4zM543 349h5v4h-5zM552 349h5v4h-5zM571 349h4v4h-4zM580 349h4v4h-4zM639 349h5v4h-5zM113 345h5v4h-5zM159 345h4v4h-4zM342 345h4v4h-4zM369 345h5v4h-5zM411 345h4v4h-4zM507 345h4v4h-4zM566 345h5v4h-5zM351 340h5v5h-5zM433 340h5v5h-5zM141 336h4v4h-4zM378 336h5v4h-5zM411 336h4v4h-4zM475 336h4v4h-4zM488 336h5v4h-5zM594 336h4v4h-4zM131 332h5v4h-5zM200 332h5v4h-5zM324 332h4v4h-4zM383 332h5v4h-5zM456 332h5v4h-5zM465 332h5v4h-5zM507 332h4v4h-4zM516 332h4v4h-4zM557 332h5v4h-5zM589 332h5v4h-5zM131 328h5v4h-5zM145 328h5v4h-5zM168 328h5v4h-5zM292 328h4v4h-4zM314 328h5v4h-5zM328 328h5v4h-5zM337 328h5v4h-5zM388 328h4v4h-4zM411 328h4v4h-4zM493 328h9v4h-9zM109 324h4v4h-4zM131 324h5v4h-5zM145 324h5v4h-5zM154 324h5v4h-5zM589 324h5v4h-5zM639 324h5v4h-5zM177 320h5v4h-5zM200 320h5v4h-5zM296 320h5v4h-5zM360 320h5v4h-5zM401 320h5v4h-5zM433 320h5v4h-5zM484 320h4v4h-4zM539 320h4v4h-4zM141 316h4v4h-4zM154 316h5v4h-5zM273 316h5v4h-5zM511 316h5v4h-5zM639 316h5v4h-5zM141 312h4v4h-4zM296 312h5v4h-5zM497 312h5v4h-5zM507 312h9v4h-9zM296 308h5v4h-5zM314 308h5v4h-5zM516 308h4v4h-4zM589 308h5v4h-5zM109 304h4v4h-4zM118 304h4v4h-4zM360 304h5v4h-5zM639 304h5v4h-5zM182 300h4v4h-4zM351 300h5v4h-5zM502 300h5v4h-5zM109 296h4v4h-4zM475 296h4v4h-4zM562 296h4v4h-4zM639 296h5v4h-5zM305 292h5v4h-5zM333 292h4v4h-4zM346 292h5v4h-5zM420 292h9v4h-9zM479 292h5v4h-5zM644 292h4v4h-4zM109 287h4v5h-4zM324 287h4v5h-4zM356 287h4v5h-4zM447 287h5v5h-5zM520 287h5v5h-5zM571 287h4v5h-4zM648 287h5v5h-5zM182 283h4v4h-4zM191 283h5v4h-5zM260 283h4v4h-4zM305 283h5v4h-5zM525 283h4v4h-4zM562 283h4v4h-4zM173 279h4v4h-4zM310 279h4v4h-4zM374 279h4v4h-4zM424 279h5v4h-5zM475 279h4v4h-4zM511 279h5v4h-5zM141 275h9v4h-9zM305 275h5v4h-5zM314 275h10v4h-10zM429 275h4v4h-4zM621 275h5v4h-5zM109 271h4v4h-4zM118 271h4v4h-4zM127 271h4v4h-4zM465 271h5v4h-5zM507 271h4v4h-4zM539 271h4v4h-4zM292 267h9v4h-9zM351 267h5v4h-5zM433 267h5v4h-5zM511 267h5v4h-5zM543 267h5v4h-5zM557 267h5v4h-5zM626 267h4v4h-4zM182 263h4v4h-4zM557 263h9v4h-9zM173 259h4v4h-4zM388 259h4v4h-4zM411 259h4v4h-4zM264 255h5v4h-5zM488 255h5v4h-5zM584 255h5v4h-5zM269 251h4v4h-4zM342 251h4v4h-4zM388 251h4v4h-4zM456 251h5v4h-5zM484 251h4v4h-4zM411 247h4v4h-4zM433 247h5v4h-5zM443 247h4v4h-4zM511 247h5v4h-5zM543 247h5v4h-5zM196 243h4v4h-4zM411 243h9v4h-9zM520 243h5v4h-5zM539 243h4v4h-4zM626 243h4v4h-4zM644 243h4v4h-4zM150 239h9v4h-9zM196 239h4v4h-4zM314 239h5v4h-5zM269 234h4v5h-4zM351 234h5v5h-5zM424 234h5v5h-5zM237 230h4v4h-4zM470 230h5v4h-5zM237 226h4v4h-4zM282 226h5v4h-5zM342 226h4v4h-4zM493 226h4v4h-4zM552 226h5v4h-5zM209 222h5v4h-5zM282 222h5v4h-5zM520 222h5v4h-5zM122 218h5v4h-5zM177 218h5v4h-5zM269 218h9v4h-9zM406 218h5v4h-5zM465 218h5v4h-5zM475 218h4v4h-4zM484 218h4v4h-4zM223 214h5v4h-5zM241 214h5v4h-5zM269 214h4v4h-4zM310 214h4v4h-4zM461 214h4v4h-4zM571 214h4v4h-4zM635 214h4v4h-4zM507 210h4v4h-4zM109 206h4v4h-4zM429 206h4v4h-4zM626 206h4v4h-4zM635 206h4v4h-4zM305 202h5v4h-5zM571 202h4v4h-4zM246 198h4v4h-4zM424 198h5v4h-5zM621 198h5v4h-5zM196 194h4v4h-4zM205 194h4v4h-4zM260 194h4v4h-4zM278 190h4v4h-4zM292 190h4v4h-4zM424 190h5v4h-5zM456 190h5v4h-5zM621 190h5v4h-5zM635 190h4v4h-4zM122 186h5v4h-5zM218 186h5v4h-5zM214 182h4v4h-4zM223 182h5v4h-5zM255 182h5v4h-5zM333 182h4v4h-4zM218 177h5v5h-5zM264 169h5v4h-5zM429 169h9v4h-9zM529 169h5v4h-5zM639 169h5v4h-5zM191 165h5v4h-5zM273 165h5v4h-5zM292 165h4v4h-4zM635 165h4v4h-4zM191 161h5v4h-5zM264 161h5v4h-5zM411 161h4v4h-4zM470 161h5v4h-5zM479 161h5v4h-5zM648 161h5v4h-5zM200 157h5v4h-5zM232 157h5v4h-5zM246 157h4v4h-4zM287 157h5v4h-5zM497 157h5v4h-5zM598 157h5v4h-5zM639 153h5v4h-5zM196 149h4v4h-4zM260 149h4v4h-4zM296 149h5v4h-5zM598 149h5v4h-5zM616 149h5v4h-5zM241 145h9v4h-9zM447 145h5v4h-5zM635 145h4v4h-4zM255 141h5v4h-5zM424 141h5v4h-5zM223 137h5v4h-5zM411 137h4v4h-4zM214 133h4v4h-4zM260 133h4v4h-4zM241 129h5v4h-5zM447 129h5v4h-5zM141 124h4v5h-4zM209 124h5v5h-5zM223 124h5v5h-5zM420 124h4v5h-4zM626 124h4v5h-4zM644 124h4v5h-4zM433 120h5v4h-5zM616 116h5v4h-5zM630 116h5v4h-5zM461 112h4v4h-4zM260 108h4v4h-4zM264 104h5v4h-5zM278 104h4v4h-4zM470 104h5v4h-5zM479 104h5v4h-5zM278 100h4v4h-4zM447 100h5v4h-5zM580 96h4v4h-4zM223 92h5v4h-5zM250 92h5v4h-5zM424 92h5v4h-5zM136 88h5v4h-5zM420 88h4v4h-4zM260 84h4v4h-4zM314 84h5v4h-5zM644 84h4v4h-4zM260 80h4v4h-4zM269 80h4v4h-4zM273 76h5v4h-5zM424 76h5v4h-5zM452 76h4v4h-4zM630 76h5v4h-5zM214 71h4v5h-4zM607 71h5v5h-5zM438 67h5v4h-5zM543 67h5v4h-5zM612 67h4v4h-4zM214 63h4v4h-4zM228 63h4v4h-4zM246 63h4v4h-4zM438 63h5v4h-5zM447 63h5v4h-5zM237 59h4v4h-4zM273 59h5v4h-5zM411 59h4v4h-4zM228 55h4v4h-4zM465 55h5v4h-5zM529 55h5v4h-5zM648 55h5v4h-5zM205 51h4v4h-4zM282 51h5v4h-5zM465 51h5v4h-5zM205 47h4v4h-4zM255 47h5v4h-5zM196 45h4v2h-4zM214 45h4v2h-4zM465 45h5v2h-5zM475 45h4v2h-4z"/><path fill="#00afff" d="M113 532h5v2h-5zM369 532h5v2h-5zM575 528h5v4h-5zM388 434h4v4h-4zM465 434h5v4h-5zM475 430h4v4h-4zM580 418h4v4h-4zM543 414h5v4h-5zM159 410h4v4h-4zM351 410h5v4h-5zM534 410h5v4h-5zM369 402h5v4h-5zM502 402h5v4h-5zM484 397h4v5h-4zM571 397h4v5h-4zM351 393h5v4h-5zM365 389h4v4h-4zM351 385h5v4h-5zM392 385h5v4h-5zM411 381h4v4h-4zM443 381h4v4h-4zM452 381h4v4h-4zM493 381h4v4h-4zM584 381h5v4h-5zM301 377h4v4h-4zM365 377h4v4h-4zM443 377h4v4h-4zM580 373h4v4h-4zM392 369h5v4h-5zM497 369h5v4h-5zM520 369h5v4h-5zM580 369h4v4h-4zM319 365h5v4h-5zM461 365h4v4h-4zM507 365h9v4h-9zM529 365h5v4h-5zM571 365h4v4h-4zM177 361h5v4h-5zM333 361h4v4h-4zM356 361h9v4h-9zM424 361h5v4h-5zM525 361h4v4h-4zM543 361h5v4h-5zM552 361h5v4h-5zM571 361h4v4h-4zM118 357h4v4h-4zM127 357h4v4h-4zM191 357h5v4h-5zM365 357h4v4h-4zM411 357h4v4h-4zM479 357h5v4h-5zM127 353h4v4h-4zM159 353h4v4h-4zM310 353h4v4h-4zM493 353h9v4h-9zM529 353h5v4h-5zM594 353h4v4h-4zM145 349h5v4h-5zM163 349h5v4h-5zM310 349h4v4h-4zM360 349h5v4h-5zM392 349h9v4h-9zM520 349h5v4h-5zM131 345h5v4h-5zM141 345h4v4h-4zM191 345h5v4h-5zM310 345h4v4h-4zM383 345h5v4h-5zM397 345h4v4h-4zM479 345h5v4h-5zM488 345h5v4h-5zM534 345h5v4h-5zM594 345h4v4h-4zM118 340h4v5h-4zM127 340h4v5h-4zM168 340h5v5h-5zM360 340h5v5h-5zM369 340h5v5h-5zM415 340h5v5h-5zM507 340h4v5h-4zM539 340h4v5h-4zM594 340h4v5h-4zM342 336h4v4h-4zM383 336h5v4h-5zM356 332h4v4h-4zM401 332h5v4h-5zM470 332h5v4h-5zM566 332h5v4h-5zM644 332h4v4h-4zM104 328h9v4h-9zM163 328h5v4h-5zM177 328h5v4h-5zM342 328h4v4h-4zM392 328h5v4h-5zM447 328h5v4h-5zM150 324h4v4h-4zM292 324h4v4h-4zM328 324h5v4h-5zM351 324h5v4h-5zM443 324h4v4h-4zM525 324h4v4h-4zM109 320h4v4h-4zM118 320h4v4h-4zM131 320h5v4h-5zM154 320h5v4h-5zM173 320h4v4h-4zM333 320h4v4h-4zM356 320h4v4h-4zM411 320h4v4h-4zM420 320h4v4h-4zM452 320h4v4h-4zM465 320h5v4h-5zM497 320h5v4h-5zM113 316h5v4h-5zM136 316h5v4h-5zM438 316h5v4h-5zM456 316h5v4h-5zM493 316h4v4h-4zM113 312h5v4h-5zM136 308h5v4h-5zM324 308h9v4h-9zM433 308h5v4h-5zM461 308h4v4h-4zM525 308h4v4h-4zM543 308h5v4h-5zM186 304h5v4h-5zM282 304h5v4h-5zM406 304h5v4h-5zM433 304h10v4h-10zM456 304h5v4h-5zM488 304h5v4h-5zM534 304h5v4h-5zM177 300h5v4h-5zM520 300h5v4h-5zM543 300h5v4h-5zM196 296h4v4h-4zM333 296h4v4h-4zM488 296h5v4h-5zM141 292h4v4h-4zM173 292h4v4h-4zM310 292h4v4h-4zM378 292h5v4h-5zM136 287h5v5h-5zM159 287h4v5h-4zM378 287h5v5h-5zM484 287h4v5h-4zM516 287h4v5h-4zM109 283h4v4h-4zM145 283h5v4h-5zM324 283h4v4h-4zM443 283h4v4h-4zM548 283h4v4h-4zM301 279h4v4h-4zM456 279h5v4h-5zM292 275h4v4h-4zM378 275h5v4h-5zM465 275h5v4h-5zM529 275h5v4h-5zM594 275h4v4h-4zM543 271h5v4h-5zM118 267h4v4h-4zM173 267h4v4h-4zM319 267h5v4h-5zM475 267h4v4h-4zM497 267h5v4h-5zM173 263h4v4h-4zM200 263h5v4h-5zM282 263h5v4h-5zM342 263h4v4h-4zM411 263h4v4h-4zM502 263h5v4h-5zM639 263h5v4h-5zM246 259h4v4h-4zM282 259h5v4h-5zM310 259h4v4h-4zM319 259h5v4h-5zM333 259h4v4h-4zM502 259h5v4h-5zM626 259h4v4h-4zM141 255h4v4h-4zM507 255h4v4h-4zM520 255h5v4h-5zM639 255h5v4h-5zM310 251h4v4h-4zM406 251h5v4h-5zM516 251h4v4h-4zM237 247h4v4h-4zM314 247h5v4h-5zM328 247h5v4h-5zM516 247h4v4h-4zM616 247h5v4h-5zM516 243h4v4h-4zM136 239h5v4h-5zM200 239h5v4h-5zM292 239h4v4h-4zM411 239h4v4h-4zM502 239h5v4h-5zM529 239h5v4h-5zM562 239h4v4h-4zM163 234h5v5h-5zM411 234h4v5h-4zM539 234h4v5h-4zM562 234h4v5h-4zM644 234h4v5h-4zM209 230h5v4h-5zM493 230h4v4h-4zM145 226h5v4h-5zM191 226h5v4h-5zM260 226h4v4h-4zM278 226h4v4h-4zM456 226h5v4h-5zM502 226h5v4h-5zM648 226h5v4h-5zM168 222h5v4h-5zM237 222h4v4h-4zM420 222h4v4h-4zM447 222h5v4h-5zM218 218h5v4h-5zM237 218h4v4h-4zM420 218h4v4h-4zM452 218h4v4h-4zM470 218h5v4h-5zM479 218h5v4h-5zM260 214h4v4h-4zM273 214h5v4h-5zM360 214h5v4h-5zM479 214h5v4h-5zM109 210h4v4h-4zM177 210h5v4h-5zM191 210h5v4h-5zM310 210h4v4h-4zM516 210h4v4h-4zM301 206h4v4h-4zM328 206h5v4h-5zM507 206h4v4h-4zM136 202h5v4h-5zM250 202h5v4h-5zM420 202h4v4h-4zM507 202h4v4h-4zM241 198h5v4h-5zM218 194h5v4h-5zM292 194h4v4h-4zM470 194h5v4h-5zM639 194h5v4h-5zM196 190h4v4h-4zM232 190h5v4h-5zM241 190h5v4h-5zM260 190h4v4h-4zM626 190h4v4h-4zM644 190h4v4h-4zM260 186h4v4h-4zM447 186h5v4h-5zM626 186h4v4h-4zM205 182h4v4h-4zM470 182h5v4h-5zM639 182h5v4h-5zM433 177h5v5h-5zM447 177h5v5h-5zM264 173h5v4h-5zM429 173h4v4h-4zM630 173h5v4h-5zM214 169h4v4h-4zM237 169h4v4h-4zM420 169h4v4h-4zM241 165h5v4h-5zM209 161h5v4h-5zM241 161h5v4h-5zM452 161h4v4h-4zM639 161h5v4h-5zM470 157h5v4h-5zM644 157h4v4h-4zM598 153h5v4h-5zM626 153h4v4h-4zM218 149h5v4h-5zM246 149h4v4h-4zM273 149h5v4h-5zM438 149h5v4h-5zM626 149h4v4h-4zM639 149h9v4h-9zM218 145h5v4h-5zM630 145h5v4h-5zM218 141h5v4h-5zM246 141h4v4h-4zM260 141h4v4h-4zM269 141h4v4h-4zM319 141h5v4h-5zM420 141h4v4h-4zM479 141h5v4h-5zM209 137h5v4h-5zM342 137h4v4h-4zM374 137h4v4h-4zM612 137h4v4h-4zM626 137h4v4h-4zM635 137h4v4h-4zM136 133h5v4h-5zM269 129h4v4h-4zM205 124h4v5h-4zM598 124h5v5h-5zM255 120h5v4h-5zM278 120h4v4h-4zM278 116h4v4h-4zM264 108h14v4h-14zM616 108h5v4h-5zM182 104h4v4h-4zM228 100h4v4h-4zM420 100h4v4h-4zM443 100h4v4h-4zM237 96h4v4h-4zM260 96h4v4h-4zM411 96h4v4h-4zM424 96h5v4h-5zM598 96h5v4h-5zM626 96h4v4h-4zM228 92h4v4h-4zM456 92h5v4h-5zM612 92h4v4h-4zM635 92h4v4h-4zM648 92h5v4h-5zM456 88h5v4h-5zM237 84h4v4h-4zM443 84h4v4h-4zM163 80h5v4h-5zM232 80h5v4h-5zM287 80h5v4h-5zM571 80h4v4h-4zM438 76h5v4h-5zM456 76h5v4h-5zM264 71h5v5h-5zM447 71h5v5h-5zM616 71h5v5h-5zM630 71h5v5h-5zM639 71h5v5h-5zM200 67h5v4h-5zM223 67h5v4h-5zM260 67h4v4h-4zM218 63h5v4h-5zM484 59h4v4h-4zM621 59h5v4h-5zM223 55h5v4h-5zM621 55h5v4h-5zM433 51h5v4h-5zM452 51h4v4h-4zM250 45h5v2h-5zM612 45h4v2h-4zM621 45h5v2h-5z"/><path fill="#00bfff" d="M388 532h4v2h-4zM644 532h4v2h-4zM118 528h4v4h-4zM177 528h5v4h-5zM150 426h4v4h-4zM511 426h5v4h-5zM333 422h4v4h-4zM465 418h5v4h-5zM424 414h5v4h-5zM529 410h5v4h-5zM584 410h5v4h-5zM292 402h4v4h-4zM584 402h5v4h-5zM378 397h5v5h-5zM397 397h4v5h-4zM443 397h4v5h-4zM159 393h4v4h-4zM392 393h5v4h-5zM520 393h5v4h-5zM548 393h4v4h-4zM406 389h5v4h-5zM566 389h9v4h-9zM356 385h4v4h-4zM552 385h5v4h-5zM420 381h4v4h-4zM429 381h4v4h-4zM520 381h5v4h-5zM484 377h4v4h-4zM493 377h4v4h-4zM154 373h5v4h-5zM328 373h5v4h-5zM378 373h5v4h-5zM493 373h4v4h-4zM639 373h5v4h-5zM401 369h5v4h-5zM411 369h4v4h-4zM575 369h5v4h-5zM177 365h5v4h-5zM365 365h4v4h-4zM392 365h5v4h-5zM415 365h5v4h-5zM584 365h5v4h-5zM122 361h5v4h-5zM141 361h4v4h-4zM456 361h5v4h-5zM548 361h4v4h-4zM104 357h5v4h-5zM159 357h4v4h-4zM177 357h5v4h-5zM397 357h4v4h-4zM415 357h5v4h-5zM639 357h5v4h-5zM118 353h4v4h-4zM365 353h4v4h-4zM456 353h5v4h-5zM566 353h5v4h-5zM127 349h4v4h-4zM411 349h4v4h-4zM475 349h4v4h-4zM539 349h4v4h-4zM566 349h5v4h-5zM589 349h5v4h-5zM333 345h4v4h-4zM388 345h4v4h-4zM447 345h5v4h-5zM104 340h5v5h-5zM324 340h4v5h-4zM374 340h4v5h-4zM429 340h4v5h-4zM484 340h4v5h-4zM493 340h4v5h-4zM511 340h5v5h-5zM520 340h5v5h-5zM571 340h4v5h-4zM584 340h5v5h-5zM113 336h5v4h-5zM127 336h4v4h-4zM443 336h4v4h-4zM470 336h5v4h-5zM529 336h5v4h-5zM109 332h4v4h-4zM392 332h5v4h-5zM539 332h4v4h-4zM594 332h4v4h-4zM141 328h4v4h-4zM296 328h5v4h-5zM324 328h4v4h-4zM424 328h5v4h-5zM525 328h4v4h-4zM543 328h5v4h-5zM104 324h5v4h-5zM314 324h5v4h-5zM324 324h4v4h-4zM438 324h5v4h-5zM543 324h5v4h-5zM104 320h5v4h-5zM278 320h9v4h-9zM447 320h5v4h-5zM507 320h4v4h-4zM534 320h5v4h-5zM173 316h4v4h-4zM186 316h5v4h-5zM292 316h4v4h-4zM415 316h5v4h-5zM461 316h4v4h-4zM525 316h4v4h-4zM319 312h5v4h-5zM346 312h5v4h-5zM465 312h10v4h-10zM529 312h5v4h-5zM163 308h5v4h-5zM301 308h4v4h-4zM365 308h4v4h-4zM470 308h5v4h-5zM493 308h4v4h-4zM552 308h5v4h-5zM177 304h9v4h-9zM452 304h4v4h-4zM465 304h5v4h-5zM479 304h5v4h-5zM571 304h4v4h-4zM113 300h5v4h-5zM122 300h5v4h-5zM131 300h5v4h-5zM150 300h4v4h-4zM273 300h5v4h-5zM287 300h5v4h-5zM337 300h5v4h-5zM493 300h4v4h-4zM511 300h5v4h-5zM552 300h5v4h-5zM186 296h5v4h-5zM264 296h5v4h-5zM461 296h4v4h-4zM278 292h9v4h-9zM319 292h9v4h-9zM360 292h5v4h-5zM452 292h4v4h-4zM319 287h5v5h-5zM337 287h5v5h-5zM406 287h5v5h-5zM438 287h5v5h-5zM493 287h4v5h-4zM141 283h4v4h-4zM296 283h5v4h-5zM644 283h4v4h-4zM278 279h4v4h-4zM287 279h5v4h-5zM452 279h4v4h-4zM461 279h4v4h-4zM516 279h4v4h-4zM639 279h5v4h-5zM648 279h5v4h-5zM301 275h4v4h-4zM141 271h4v4h-4zM301 271h4v4h-4zM333 271h4v4h-4zM438 271h5v4h-5zM511 271h5v4h-5zM205 267h4v4h-4zM186 263h5v4h-5zM415 263h5v4h-5zM479 263h5v4h-5zM511 263h5v4h-5zM626 263h4v4h-4zM150 259h4v4h-4zM182 259h14v4h-14zM218 259h5v4h-5zM301 259h4v4h-4zM424 259h5v4h-5zM438 259h5v4h-5zM562 259h4v4h-4zM310 255h4v4h-4zM424 255h5v4h-5zM447 255h5v4h-5zM456 255h5v4h-5zM475 255h4v4h-4zM150 251h4v4h-4zM246 251h4v4h-4zM314 251h5v4h-5zM465 251h5v4h-5zM228 247h4v4h-4zM260 247h4v4h-4zM388 247h4v4h-4zM118 243h4v4h-4zM218 243h5v4h-5zM314 243h5v4h-5zM562 243h4v4h-4zM639 243h5v4h-5zM310 239h4v4h-4zM324 239h4v4h-4zM443 239h4v4h-4zM571 239h4v4h-4zM191 234h5v5h-5zM246 234h4v5h-4zM314 234h5v5h-5zM452 234h4v5h-4zM479 234h5v5h-5zM648 234h5v5h-5zM109 230h4v4h-4zM232 230h5v4h-5zM264 230h5v4h-5zM406 230h5v4h-5zM644 230h4v4h-4zM232 226h5v4h-5zM287 226h5v4h-5zM310 226h4v4h-4zM411 226h4v4h-4zM438 226h5v4h-5zM461 226h4v4h-4zM516 226h4v4h-4zM264 222h5v4h-5zM287 222h5v4h-5zM479 222h5v4h-5zM493 222h4v4h-4zM639 222h5v4h-5zM260 218h4v4h-4zM109 214h4v4h-4zM200 214h5v4h-5zM237 214h4v4h-4zM255 214h5v4h-5zM452 214h4v4h-4zM470 214h5v4h-5zM493 214h4v4h-4zM580 214h4v4h-4zM644 214h4v4h-4zM287 210h5v4h-5zM301 210h4v4h-4zM420 210h4v4h-4zM191 206h5v4h-5zM250 206h5v4h-5zM525 206h4v4h-4zM218 202h5v4h-5zM301 202h4v4h-4zM406 202h5v4h-5zM456 202h5v4h-5zM250 198h10v4h-10zM241 194h9v4h-9zM497 190h5v4h-5zM250 186h5v4h-5zM269 182h4v4h-4zM205 177h4v5h-4zM223 177h5v5h-5zM250 177h5v5h-5zM584 177h5v5h-5zM200 173h5v4h-5zM461 173h4v4h-4zM209 169h5v4h-5zM273 169h5v4h-5zM292 169h4v4h-4zM310 169h4v4h-4zM612 169h4v4h-4zM205 165h9v4h-9zM237 165h4v4h-4zM269 165h4v4h-4zM406 165h5v4h-5zM516 165h4v4h-4zM621 165h5v4h-5zM429 161h4v4h-4zM598 161h5v4h-5zM621 161h5v4h-5zM205 157h4v4h-4zM218 157h5v4h-5zM411 157h4v4h-4zM237 149h4v4h-4zM580 149h4v4h-4zM465 145h5v4h-5zM639 145h5v4h-5zM205 141h4v4h-4zM452 141h4v4h-4zM250 137h5v4h-5zM269 137h4v4h-4zM273 133h5v4h-5zM438 133h5v4h-5zM287 129h5v4h-5zM424 129h5v4h-5zM616 129h5v4h-5zM273 124h5v5h-5zM465 124h5v5h-5zM616 124h5v5h-5zM639 124h5v5h-5zM218 120h14v4h-14zM232 116h9v4h-9zM260 116h4v4h-4zM292 116h4v4h-4zM598 116h5v4h-5zM209 112h5v4h-5zM269 112h4v4h-4zM438 112h5v4h-5zM479 112h5v4h-5zM424 108h5v4h-5zM438 108h5v4h-5zM237 104h4v4h-4zM420 104h4v4h-4zM621 104h5v4h-5zM223 100h5v4h-5zM260 100h4v4h-4zM273 100h5v4h-5zM273 96h5v4h-5zM616 96h5v4h-5zM273 92h5v4h-5zM264 88h14v4h-14zM607 88h5v4h-5zM616 88h5v4h-5zM635 88h4v4h-4zM214 84h4v4h-4zM228 84h4v4h-4zM255 84h5v4h-5zM273 84h5v4h-5zM452 84h4v4h-4zM626 84h4v4h-4zM218 80h5v4h-5zM273 80h5v4h-5zM209 76h5v4h-5zM260 76h4v4h-4zM612 71h4v5h-4zM232 67h5v4h-5zM250 67h5v4h-5zM424 67h5v4h-5zM250 63h5v4h-5zM607 63h5v4h-5zM246 59h9v4h-9zM598 59h5v4h-5zM612 59h4v4h-4zM630 59h5v4h-5zM196 55h4v4h-4zM232 51h5v4h-5zM612 51h4v4h-4zM626 51h4v4h-4zM214 47h4v4h-4zM260 47h4v4h-4z"/><path fill="#00cfff" d="M241 532h5v2h-5zM351 532h5v2h-5zM648 532h5v2h-5zM461 442h4v4h-4zM424 438h5v4h-5zM351 426h5v4h-5zM369 422h5v4h-5zM497 422h5v4h-5zM388 418h4v4h-4zM397 414h4v4h-4zM507 414h4v4h-4zM118 402h4v4h-4zM282 402h5v4h-5zM328 402h5v4h-5zM424 402h5v4h-5zM475 402h4v4h-4zM571 402h4v4h-4zM131 397h5v5h-5zM346 397h5v5h-5zM475 397h4v5h-4zM118 393h4v4h-4zM360 393h5v4h-5zM374 393h4v4h-4zM452 393h4v4h-4zM488 393h5v4h-5zM580 393h9v4h-9zM131 389h5v4h-5zM159 389h4v4h-4zM388 389h4v4h-4zM488 389h5v4h-5zM552 389h5v4h-5zM186 385h5v4h-5zM539 385h4v4h-4zM562 385h4v4h-4zM122 381h5v4h-5zM346 381h5v4h-5zM374 381h4v4h-4zM438 381h5v4h-5zM525 381h4v4h-4zM594 381h4v4h-4zM342 377h4v4h-4zM392 377h5v4h-5zM429 377h4v4h-4zM575 377h5v4h-5zM594 377h4v4h-4zM319 373h5v4h-5zM342 373h4v4h-4zM351 373h5v4h-5zM433 373h5v4h-5zM163 369h5v4h-5zM282 369h5v4h-5zM310 369h4v4h-4zM351 369h5v4h-5zM406 369h5v4h-5zM415 369h5v4h-5zM493 369h4v4h-4zM584 369h5v4h-5zM150 365h4v4h-4zM333 365h4v4h-4zM346 365h5v4h-5zM356 365h4v4h-4zM401 365h5v4h-5zM465 365h5v4h-5zM552 365h5v4h-5zM589 365h5v4h-5zM282 361h5v4h-5zM310 361h4v4h-4zM411 361h4v4h-4zM429 361h4v4h-4zM502 361h5v4h-5zM534 361h5v4h-5zM580 361h4v4h-4zM310 357h4v4h-4zM351 357h5v4h-5zM383 357h5v4h-5zM429 357h4v4h-4zM113 353h5v4h-5zM324 349h4v4h-4zM562 349h4v4h-4zM319 345h5v4h-5zM452 345h4v4h-4zM516 345h4v4h-4zM525 345h4v4h-4zM543 345h5v4h-5zM200 340h5v5h-5zM475 340h4v5h-4zM516 340h4v5h-4zM566 340h5v5h-5zM173 336h9v4h-9zM292 336h4v4h-4zM324 336h4v4h-4zM438 336h5v4h-5zM484 336h4v4h-4zM516 336h4v4h-4zM566 336h5v4h-5zM118 332h9v4h-9zM136 332h5v4h-5zM159 332h4v4h-4zM168 332h5v4h-5zM319 332h5v4h-5zM328 332h9v4h-9zM424 332h5v4h-5zM502 332h5v4h-5zM346 328h5v4h-5zM438 328h5v4h-5zM461 328h4v4h-4zM122 324h9v4h-9zM186 324h5v4h-5zM333 324h4v4h-4zM346 324h5v4h-5zM411 324h4v4h-4zM452 324h4v4h-4zM475 324h4v4h-4zM520 324h5v4h-5zM534 324h5v4h-5zM626 324h4v4h-4zM141 320h9v4h-9zM328 320h5v4h-5zM342 320h4v4h-4zM351 320h5v4h-5zM163 316h5v4h-5zM282 316h5v4h-5zM346 316h5v4h-5zM433 312h5v4h-5zM594 312h4v4h-4zM639 312h5v4h-5zM159 308h4v4h-4zM484 308h9v4h-9zM159 304h4v4h-4zM328 304h5v4h-5zM163 300h5v4h-5zM456 300h5v4h-5zM163 296h5v4h-5zM200 296h5v4h-5zM282 296h5v4h-5zM292 296h4v4h-4zM397 296h4v4h-4zM264 292h5v4h-5zM314 292h5v4h-5zM438 292h5v4h-5zM534 292h5v4h-5zM594 292h4v4h-4zM264 287h5v5h-5zM287 287h5v5h-5zM296 287h5v5h-5zM507 287h4v5h-4zM529 287h5v5h-5zM292 283h4v4h-4zM310 283h4v4h-4zM378 283h5v4h-5zM452 283h4v4h-4zM465 283h5v4h-5zM497 283h5v4h-5zM594 283h4v4h-4zM484 279h4v4h-4zM534 279h5v4h-5zM488 275h5v4h-5zM543 275h5v4h-5zM287 271h5v4h-5zM452 271h4v4h-4zM621 267h5v4h-5zM644 267h4v4h-4zM214 263h4v4h-4zM255 263h5v4h-5zM374 263h4v4h-4zM200 259h5v4h-5zM241 259h5v4h-5zM278 259h4v4h-4zM314 259h5v4h-5zM374 259h4v4h-4zM516 259h4v4h-4zM196 255h4v4h-4zM205 255h4v4h-4zM287 255h5v4h-5zM196 251h9v4h-9zM278 251h4v4h-4zM411 251h4v4h-4zM639 251h5v4h-5zM648 251h5v4h-5zM301 247h4v4h-4zM557 247h5v4h-5zM621 247h5v4h-5zM443 243h4v4h-4zM461 243h4v4h-4zM493 243h4v4h-4zM552 239h5v4h-5zM186 234h5v5h-5zM196 234h4v5h-4zM264 234h5v5h-5zM310 234h4v5h-4zM584 234h5v5h-5zM635 234h4v5h-4zM191 230h5v4h-5zM278 230h4v4h-4zM552 230h5v4h-5zM626 230h4v4h-4zM163 226h5v4h-5zM223 226h5v4h-5zM264 226h5v4h-5zM475 222h4v4h-4zM612 222h4v4h-4zM223 218h5v4h-5zM232 218h5v4h-5zM250 218h5v4h-5zM616 218h5v4h-5zM264 214h5v4h-5zM278 214h4v4h-4zM287 214h5v4h-5zM196 210h4v4h-4zM214 210h4v4h-4zM250 210h5v4h-5zM621 210h5v4h-5zM205 206h4v4h-4zM246 206h4v4h-4zM287 206h5v4h-5zM452 206h4v4h-4zM497 206h5v4h-5zM520 206h5v4h-5zM621 206h5v4h-5zM484 202h4v4h-4zM461 198h4v4h-4zM475 198h4v4h-4zM191 194h5v4h-5zM269 194h4v4h-4zM452 194h4v4h-4zM616 194h5v4h-5zM237 190h4v4h-4zM630 190h5v4h-5zM433 186h5v4h-5zM461 182h4v4h-4zM621 182h9v4h-9zM470 177h5v5h-5zM282 173h5v4h-5zM612 173h4v4h-4zM635 173h4v4h-4zM255 169h5v4h-5zM250 165h5v4h-5zM113 161h5v4h-5zM246 161h4v4h-4zM273 161h5v4h-5zM214 157h4v4h-4zM626 157h4v4h-4zM635 157h4v4h-4zM241 149h5v4h-5zM255 149h5v4h-5zM278 149h4v4h-4zM424 149h5v4h-5zM635 149h4v4h-4zM264 141h5v4h-5zM644 137h4v4h-4zM196 133h4v4h-4zM241 133h5v4h-5zM497 133h5v4h-5zM237 129h4v4h-4zM621 129h5v4h-5zM644 129h4v4h-4zM214 124h4v5h-4zM278 124h4v5h-4zM424 120h5v4h-5zM621 120h9v4h-9zM218 112h5v4h-5zM626 112h4v4h-4zM598 108h5v4h-5zM456 96h5v4h-5zM598 92h5v4h-5zM644 92h4v4h-4zM218 88h5v4h-5zM241 88h5v4h-5zM260 88h4v4h-4zM278 88h4v4h-4zM456 80h5v4h-5zM626 76h4v4h-4zM635 76h4v4h-4zM228 71h4v5h-4zM461 71h4v5h-4zM598 71h5v5h-5zM626 71h4v5h-4zM264 67h5v4h-5zM598 67h5v4h-5zM616 67h5v4h-5zM237 63h4v4h-4zM278 63h4v4h-4zM630 63h5v4h-5zM232 59h5v4h-5zM205 55h4v4h-4zM255 55h5v4h-5zM278 55h4v4h-4zM255 51h5v4h-5zM607 51h5v4h-5zM639 51h5v4h-5zM424 47h5v4h-5zM621 47h5v4h-5zM461 45h4v2h-4zM598 45h5v2h-5z"/><path fill="#00dfff" d="M131 528h5v4h-5zM228 528h4v4h-4zM305 528h5v4h-5zM333 528h4v4h-4zM497 442h5v4h-5zM456 438h5v4h-5zM525 438h4v4h-4zM159 434h4v4h-4zM369 434h5v4h-5zM369 430h5v4h-5zM520 430h5v4h-5zM557 430h5v4h-5zM346 426h5v4h-5zM525 426h4v4h-4zM351 422h5v4h-5zM104 418h5v4h-5zM351 418h9v4h-9zM424 418h5v4h-5zM369 414h5v4h-5zM520 414h5v4h-5zM580 414h4v4h-4zM401 410h5v4h-5zM475 410h4v4h-4zM484 410h4v4h-4zM333 406h4v4h-4zM369 406h9v4h-9zM497 406h5v4h-5zM543 406h5v4h-5zM351 402h5v4h-5zM520 402h5v4h-5zM534 402h9v4h-9zM575 402h5v4h-5zM369 397h5v5h-5zM392 397h5v5h-5zM406 397h5v5h-5zM424 397h9v5h-9zM502 397h5v5h-5zM511 397h5v5h-5zM305 393h5v4h-5zM383 393h5v4h-5zM420 393h9v4h-9zM475 393h4v4h-4zM539 393h9v4h-9zM571 393h4v4h-4zM118 389h4v4h-4zM356 389h4v4h-4zM392 389h9v4h-9zM411 389h4v4h-4zM447 389h5v4h-5zM109 385h4v4h-4zM346 385h5v4h-5zM584 385h5v4h-5zM351 381h5v4h-5zM360 381h5v4h-5zM543 381h5v4h-5zM580 381h4v4h-4zM191 377h5v4h-5zM369 377h5v4h-5zM415 377h5v4h-5zM520 377h5v4h-5zM131 373h5v4h-5zM383 373h5v4h-5zM420 373h4v4h-4zM497 373h5v4h-5zM571 373h4v4h-4zM145 369h5v4h-5zM356 369h4v4h-4zM365 369h4v4h-4zM516 369h4v4h-4zM529 369h10v4h-10zM543 369h5v4h-5zM328 365h5v4h-5zM479 365h5v4h-5zM539 365h4v4h-4zM127 361h4v4h-4zM154 361h5v4h-5zM369 361h5v4h-5zM488 361h5v4h-5zM131 357h5v4h-5zM401 357h5v4h-5zM438 357h5v4h-5zM516 357h4v4h-4zM575 357h5v4h-5zM154 353h5v4h-5zM191 353h5v4h-5zM342 353h9v4h-9zM488 353h5v4h-5zM516 353h4v4h-4zM356 349h4v4h-4zM497 349h5v4h-5zM507 349h4v4h-4zM534 349h5v4h-5zM557 349h5v4h-5zM127 345h4v4h-4zM360 345h5v4h-5zM470 345h5v4h-5zM177 340h5v5h-5zM191 340h5v5h-5zM319 340h5v5h-5zM378 340h5v5h-5zM154 336h5v4h-5zM200 336h5v4h-5zM310 336h4v4h-4zM539 336h9v4h-9zM145 332h5v4h-5zM173 332h4v4h-4zM196 332h4v4h-4zM438 332h5v4h-5zM447 332h5v4h-5zM493 332h4v4h-4zM113 328h5v4h-5zM122 328h5v4h-5zM475 328h4v4h-4zM644 328h4v4h-4zM159 324h4v4h-4zM200 324h5v4h-5zM378 324h5v4h-5zM502 324h5v4h-5zM191 320h5v4h-5zM511 320h9v4h-9zM525 320h4v4h-4zM566 320h5v4h-5zM479 316h5v4h-5zM584 316h5v4h-5zM136 312h5v4h-5zM200 312h5v4h-5zM237 312h4v4h-4zM328 312h5v4h-5zM186 308h5v4h-5zM264 308h5v4h-5zM447 308h5v4h-5zM479 308h5v4h-5zM502 308h5v4h-5zM168 304h5v4h-5zM214 304h4v4h-4zM278 304h4v4h-4zM333 304h4v4h-4zM378 304h5v4h-5zM520 304h5v4h-5zM205 300h4v4h-4zM333 300h4v4h-4zM589 300h5v4h-5zM260 296h4v4h-4zM269 296h4v4h-4zM452 296h4v4h-4zM644 296h4v4h-4zM429 292h4v4h-4zM493 292h4v4h-4zM621 292h5v4h-5zM196 287h4v5h-4zM209 287h9v5h-9zM644 287h4v5h-4zM122 283h5v4h-5zM520 279h5v4h-5zM594 279h4v4h-4zM113 275h5v4h-5zM173 275h4v4h-4zM191 275h5v4h-5zM218 275h5v4h-5zM278 275h4v4h-4zM287 275h5v4h-5zM626 275h4v4h-4zM196 271h4v4h-4zM292 271h4v4h-4zM411 271h4v4h-4zM282 267h5v4h-5zM639 267h5v4h-5zM196 263h4v4h-4zM264 263h5v4h-5zM452 263h4v4h-4zM529 263h5v4h-5zM648 263h5v4h-5zM118 259h4v4h-4zM214 259h4v4h-4zM452 259h4v4h-4zM470 259h5v4h-5zM594 259h4v4h-4zM246 255h4v4h-4zM278 255h4v4h-4zM497 255h5v4h-5zM612 255h4v4h-4zM443 251h4v4h-4zM502 251h5v4h-5zM562 251h4v4h-4zM218 247h5v4h-5zM250 247h5v4h-5zM639 247h5v4h-5zM186 243h5v4h-5zM273 243h9v4h-9zM452 243h4v4h-4zM621 243h5v4h-5zM635 243h4v4h-4zM301 239h4v4h-4zM470 239h5v4h-5zM621 239h5v4h-5zM644 239h4v4h-4zM200 230h5v4h-5zM255 230h5v4h-5zM255 226h5v4h-5zM497 226h5v4h-5zM616 226h5v4h-5zM269 222h4v4h-4zM552 222h5v4h-5zM438 218h5v4h-5zM635 218h4v4h-4zM525 214h4v4h-4zM635 210h4v4h-4zM648 210h5v4h-5zM241 206h5v4h-5zM644 206h4v4h-4zM196 202h4v4h-4zM232 202h5v4h-5zM269 202h4v4h-4zM218 198h5v4h-5zM452 198h4v4h-4zM616 198h5v4h-5zM475 194h4v4h-4zM635 194h4v4h-4zM273 186h5v4h-5zM621 186h5v4h-5zM241 182h5v4h-5zM447 182h5v4h-5zM209 177h5v5h-5zM232 177h5v5h-5zM461 177h4v5h-4zM241 173h5v4h-5zM273 173h5v4h-5zM626 173h4v4h-4zM648 173h5v4h-5zM260 165h4v4h-4zM447 165h5v4h-5zM461 165h4v4h-4zM241 157h5v4h-5zM250 157h5v4h-5zM223 153h5v4h-5zM237 153h4v4h-4zM255 153h9v4h-9zM273 153h5v4h-5zM411 153h4v4h-4zM648 153h5v4h-5zM612 149h4v4h-4zM630 149h5v4h-5zM228 145h4v4h-4zM250 145h5v4h-5zM260 145h4v4h-4zM269 145h4v4h-4zM438 145h5v4h-5zM214 141h4v4h-4zM241 137h5v4h-5zM255 137h14v4h-14zM612 133h4v4h-4zM630 133h9v4h-9zM612 129h4v4h-4zM228 124h4v5h-4zM273 116h5v4h-5zM612 116h4v4h-4zM648 108h5v4h-5zM452 104h4v4h-4zM612 100h4v4h-4zM626 100h4v4h-4zM635 100h4v4h-4zM228 96h4v4h-4zM420 96h4v4h-4zM621 96h5v4h-5zM447 84h5v4h-5zM255 80h5v4h-5zM635 80h4v4h-4zM237 76h4v4h-4zM250 76h5v4h-5zM269 76h4v4h-4zM420 76h4v4h-4zM237 71h4v5h-4zM214 67h9v4h-9zM237 67h4v4h-4zM621 67h9v4h-9zM250 55h5v4h-5zM438 55h5v4h-5zM598 51h5v4h-5zM621 51h5v4h-5zM269 47h4v4h-4zM616 47h5v4h-5zM607 45h5v2h-5zM648 45h5v2h-5z"/><path fill="#00efff" d="M122 532h5v2h-5zM475 532h4v2h-4zM626 532h4v2h-4zM122 528h5v4h-5zM145 528h5v4h-5zM214 528h4v4h-4zM122 459h5v4h-5zM356 450h4v5h-4zM154 446h5v4h-5zM122 442h5v4h-5zM433 438h5v4h-5zM497 430h10v4h-10zM159 426h4v4h-4zM424 422h5v4h-5zM507 422h4v4h-4zM520 422h5v4h-5zM580 422h4v4h-4zM346 418h5v4h-5zM493 418h4v4h-4zM502 418h5v4h-5zM575 418h5v4h-5zM378 414h5v4h-5zM525 414h4v4h-4zM109 410h4v4h-4zM488 410h5v4h-5zM507 410h4v4h-4zM562 410h4v4h-4zM145 406h5v4h-5zM475 406h4v4h-4zM502 406h5v4h-5zM296 402h5v4h-5zM342 402h4v4h-4zM378 402h5v4h-5zM415 397h5v5h-5zM438 397h5v5h-5zM447 397h5v5h-5zM493 397h4v5h-4zM534 397h5v5h-5zM154 393h5v4h-5zM562 393h4v4h-4zM378 389h5v4h-5zM424 389h9v4h-9zM520 389h5v4h-5zM529 389h5v4h-5zM333 385h4v4h-4zM424 385h5v4h-5zM516 385h4v4h-4zM529 385h5v4h-5zM575 385h5v4h-5zM159 381h4v4h-4zM378 381h5v4h-5zM488 381h5v4h-5zM507 381h9v4h-9zM282 377h5v4h-5zM314 377h5v4h-5zM433 377h5v4h-5zM479 377h5v4h-5zM150 373h4v4h-4zM301 373h4v4h-4zM360 373h5v4h-5zM438 373h5v4h-5zM484 373h4v4h-4zM529 373h5v4h-5zM301 369h4v4h-4zM314 369h5v4h-5zM388 369h4v4h-4zM507 369h4v4h-4zM552 369h5v4h-5zM589 369h5v4h-5zM141 365h4v4h-4zM360 365h5v4h-5zM497 365h10v4h-10zM191 361h5v4h-5zM461 361h4v4h-4zM122 357h5v4h-5zM447 357h5v4h-5zM502 357h9v4h-9zM594 357h4v4h-4zM122 353h5v4h-5zM168 353h5v4h-5zM177 353h5v4h-5zM328 353h5v4h-5zM411 353h4v4h-4zM552 353h5v4h-5zM154 349h5v4h-5zM296 349h5v4h-5zM328 349h5v4h-5zM374 349h4v4h-4zM401 349h5v4h-5zM488 349h5v4h-5zM502 349h5v4h-5zM584 349h5v4h-5zM118 345h4v4h-4zM168 345h5v4h-5zM502 345h5v4h-5zM644 345h4v4h-4zM292 340h4v5h-4zM314 340h5v5h-5zM346 340h5v5h-5zM452 340h4v5h-4zM461 340h4v5h-4zM131 336h5v4h-5zM168 336h5v4h-5zM278 336h4v4h-4zM360 336h5v4h-5zM401 336h5v4h-5zM461 336h4v4h-4zM511 336h5v4h-5zM534 336h5v4h-5zM626 336h4v4h-4zM282 332h5v4h-5zM497 332h5v4h-5zM479 328h5v4h-5zM502 328h5v4h-5zM626 328h4v4h-4zM173 324h4v4h-4zM191 324h5v4h-5zM278 324h4v4h-4zM511 324h5v4h-5zM594 324h4v4h-4zM644 324h4v4h-4zM113 320h5v4h-5zM163 320h5v4h-5zM324 320h4v4h-4zM488 320h5v4h-5zM159 316h4v4h-4zM296 316h5v4h-5zM310 316h4v4h-4zM333 316h4v4h-4zM644 316h4v4h-4zM525 312h4v4h-4zM260 308h4v4h-4zM333 308h4v4h-4zM438 308h5v4h-5zM475 308h4v4h-4zM520 308h5v4h-5zM264 304h5v4h-5zM502 304h5v4h-5zM525 304h4v4h-4zM145 300h5v4h-5zM250 300h5v4h-5zM310 300h4v4h-4zM438 300h5v4h-5zM465 300h5v4h-5zM484 300h9v4h-9zM639 300h5v4h-5zM534 296h5v4h-5zM191 292h5v4h-5zM475 292h4v4h-4zM520 292h5v4h-5zM173 287h4v5h-4zM497 287h5v5h-5zM616 287h5v5h-5zM282 283h5v4h-5zM479 283h5v4h-5zM621 283h5v4h-5zM639 283h5v4h-5zM109 279h4v4h-4zM141 279h4v4h-4zM196 279h4v4h-4zM438 279h5v4h-5zM621 279h5v4h-5zM205 275h4v4h-4zM497 275h5v4h-5zM237 271h4v4h-4zM443 271h4v4h-4zM461 271h4v4h-4zM529 271h5v4h-5zM621 271h5v4h-5zM218 267h5v4h-5zM278 267h4v4h-4zM287 267h5v4h-5zM205 263h4v4h-4zM301 263h4v4h-4zM475 263h4v4h-4zM196 247h4v4h-4zM205 247h9v4h-9zM269 243h4v4h-4zM292 243h4v4h-4zM420 243h4v4h-4zM214 239h4v4h-4zM223 239h5v4h-5zM246 239h9v4h-9zM287 239h5v4h-5zM616 239h5v4h-5zM200 234h5v5h-5zM461 234h4v5h-4zM163 230h5v4h-5zM250 230h5v4h-5zM465 230h5v4h-5zM502 230h5v4h-5zM196 226h4v4h-4zM584 226h5v4h-5zM644 226h4v4h-4zM145 222h5v4h-5zM200 222h9v4h-9zM278 222h4v4h-4zM301 222h4v4h-4zM584 222h5v4h-5zM621 222h5v4h-5zM278 218h4v4h-4zM287 218h5v4h-5zM584 218h5v4h-5zM200 210h5v4h-5zM438 210h5v4h-5zM214 206h4v4h-4zM228 206h4v4h-4zM196 198h4v4h-4zM278 198h4v4h-4zM301 198h4v4h-4zM648 198h5v4h-5zM200 194h5v4h-5zM264 194h5v4h-5zM644 194h4v4h-4zM191 186h5v4h-5zM200 186h5v4h-5zM241 186h5v4h-5zM301 186h4v4h-4zM282 182h5v4h-5zM260 173h4v4h-4zM292 173h4v4h-4zM218 169h5v4h-5zM232 169h5v4h-5zM282 169h5v4h-5zM648 169h5v4h-5zM232 165h5v4h-5zM470 165h5v4h-5zM273 157h5v4h-5zM218 153h5v4h-5zM246 153h9v4h-9zM475 153h4v4h-4zM612 153h4v4h-4zM612 145h4v4h-4zM228 141h9v4h-9zM630 141h9v4h-9zM232 137h5v4h-5zM278 137h4v4h-4zM424 137h5v4h-5zM616 137h5v4h-5zM228 133h9v4h-9zM269 133h4v4h-4zM278 133h4v4h-4zM196 129h4v4h-4zM218 129h5v4h-5zM278 129h4v4h-4zM630 129h5v4h-5zM241 124h5v5h-5zM433 124h5v5h-5zM630 124h5v5h-5zM246 120h4v4h-4zM612 120h9v4h-9zM278 112h4v4h-4zM616 112h5v4h-5zM209 108h5v4h-5zM420 108h4v4h-4zM626 108h9v4h-9zM218 104h5v4h-5zM241 104h5v4h-5zM255 104h5v4h-5zM635 104h4v4h-4zM232 100h5v4h-5zM621 100h5v4h-5zM630 96h5v4h-5zM255 92h5v4h-5zM612 88h4v4h-4zM648 88h5v4h-5zM209 84h5v4h-5zM250 84h5v4h-5zM264 84h5v4h-5zM607 84h5v4h-5zM616 84h5v4h-5zM411 80h4v4h-4zM255 76h5v4h-5zM612 76h4v4h-4zM273 71h5v5h-5zM621 63h5v4h-5zM269 59h4v4h-4zM218 51h5v4h-5zM241 51h5v4h-5zM237 47h4v4h-4zM250 47h5v4h-5z"/><path fill="#00ffff" d="M639 532h5v2h-5zM150 528h4v4h-4zM186 528h5v4h-5zM584 528h5v4h-5zM154 463h5v4h-5zM122 455h5v4h-5zM511 438h5v4h-5zM365 434h4v4h-4zM461 434h4v4h-4zM150 430h4v4h-4zM374 430h4v4h-4zM461 430h4v4h-4zM562 430h4v4h-4zM369 426h5v4h-5zM433 426h5v4h-5zM433 422h5v4h-5zM562 422h4v4h-4zM159 418h4v4h-4zM328 418h5v4h-5zM365 418h9v4h-9zM429 418h4v4h-4zM484 418h4v4h-4zM342 414h9v4h-9zM484 414h9v4h-9zM529 414h5v4h-5zM163 410h5v4h-5zM310 410h4v4h-4zM346 410h5v4h-5zM388 410h4v4h-4zM497 410h5v4h-5zM557 410h5v4h-5zM571 410h4v4h-4zM580 410h4v4h-4zM186 406h5v4h-5zM360 406h5v4h-5zM378 406h5v4h-5zM113 402h5v4h-5zM397 402h4v4h-4zM507 402h4v4h-4zM529 402h5v4h-5zM507 397h4v5h-4zM580 397h4v5h-4zM356 393h4v4h-4zM507 393h4v4h-4zM292 389h4v4h-4zM310 389h4v4h-4zM360 389h5v4h-5zM383 389h5v4h-5zM452 389h4v4h-4zM580 389h4v4h-4zM127 385h4v4h-4zM328 385h5v4h-5zM401 385h5v4h-5zM429 385h4v4h-4zM456 385h5v4h-5zM488 385h5v4h-5zM127 381h4v4h-4zM324 381h4v4h-4zM342 381h4v4h-4zM502 381h5v4h-5zM552 381h5v4h-5zM589 381h5v4h-5zM141 377h4v4h-4zM424 377h5v4h-5zM461 377h9v4h-9zM127 373h4v4h-4zM337 373h5v4h-5zM388 373h4v4h-4zM401 373h5v4h-5zM411 373h4v4h-4zM452 373h4v4h-4zM525 373h4v4h-4zM168 369h5v4h-5zM287 369h5v4h-5zM333 369h4v4h-4zM360 369h5v4h-5zM420 369h4v4h-4zM626 369h4v4h-4zM104 365h5v4h-5zM118 365h4v4h-4zM383 365h5v4h-5zM566 365h5v4h-5zM383 361h5v4h-5zM397 361h4v4h-4zM452 361h4v4h-4zM484 361h4v4h-4zM529 361h5v4h-5zM150 357h4v4h-4zM333 357h4v4h-4zM360 357h5v4h-5zM511 357h5v4h-5zM104 353h5v4h-5zM296 353h5v4h-5zM319 353h9v4h-9zM461 353h4v4h-4zM525 353h4v4h-4zM534 353h14v4h-14zM639 353h5v4h-5zM200 349h5v4h-5zM314 349h5v4h-5zM388 349h4v4h-4zM447 349h5v4h-5zM196 345h4v4h-4zM301 345h4v4h-4zM113 340h5v5h-5zM173 340h4v5h-4zM255 340h5v5h-5zM278 340h4v5h-4zM502 340h5v5h-5zM639 340h5v5h-5zM273 336h5v4h-5zM621 336h5v4h-5zM191 332h5v4h-5zM415 332h5v4h-5zM452 332h4v4h-4zM461 332h4v4h-4zM475 332h4v4h-4zM525 332h4v4h-4zM191 328h5v4h-5zM333 328h4v4h-4zM452 328h4v4h-4zM566 328h5v4h-5zM594 328h4v4h-4zM635 328h4v4h-4zM465 324h5v4h-5zM255 320h5v4h-5zM479 320h5v4h-5zM104 316h5v4h-5zM122 316h5v4h-5zM301 316h4v4h-4zM401 316h5v4h-5zM626 316h4v4h-4zM378 312h5v4h-5zM452 312h4v4h-4zM484 312h4v4h-4zM626 312h4v4h-4zM282 308h5v4h-5zM378 308h5v4h-5zM456 308h5v4h-5zM163 304h5v4h-5zM484 304h4v4h-4zM543 304h5v4h-5zM621 304h5v4h-5zM118 300h4v4h-4zM246 300h4v4h-4zM292 300h4v4h-4zM305 300h5v4h-5zM479 300h5v4h-5zM497 300h5v4h-5zM150 296h4v4h-4zM214 296h4v4h-4zM305 296h5v4h-5zM378 296h5v4h-5zM438 296h5v4h-5zM529 296h5v4h-5zM209 292h5v4h-5zM461 292h4v4h-4zM205 287h4v5h-4zM278 287h4v5h-4zM465 287h5v5h-5zM475 287h4v5h-4zM264 283h5v4h-5zM301 283h4v4h-4zM484 283h4v4h-4zM470 279h5v4h-5zM182 275h4v4h-4zM246 275h4v4h-4zM205 271h4v4h-4zM273 271h5v4h-5zM200 267h5v4h-5zM214 267h4v4h-4zM246 267h4v4h-4zM273 267h5v4h-5zM424 267h5v4h-5zM529 267h5v4h-5zM191 263h5v4h-5zM461 259h4v4h-4zM644 259h4v4h-4zM200 255h5v4h-5zM461 251h4v4h-4zM475 251h4v4h-4zM616 251h5v4h-5zM241 247h9v4h-9zM269 247h4v4h-4zM475 247h4v4h-4zM534 247h5v4h-5zM287 243h5v4h-5zM191 239h5v4h-5zM438 239h5v4h-5zM475 239h4v4h-4zM209 234h5v5h-5zM218 234h10v5h-10zM232 234h5v5h-5zM260 234h4v5h-4zM635 226h4v4h-4zM456 222h5v4h-5zM205 218h4v4h-4zM214 218h4v4h-4zM232 214h5v4h-5zM493 210h4v4h-4zM218 206h5v4h-5zM456 206h5v4h-5zM598 206h5v4h-5zM241 202h5v4h-5zM612 202h4v4h-4zM626 202h4v4h-4zM269 198h4v4h-4zM250 194h5v4h-5zM447 194h5v4h-5zM648 194h5v4h-5zM218 190h5v4h-5zM250 190h5v4h-5zM470 190h5v4h-5zM255 186h5v4h-5zM269 186h4v4h-4zM648 186h5v4h-5zM612 182h4v4h-4zM228 177h4v5h-4zM246 177h4v5h-4zM621 177h5v5h-5zM635 177h4v5h-4zM616 173h5v4h-5zM639 173h5v4h-5zM626 169h4v4h-4zM246 165h4v4h-4zM598 165h5v4h-5zM205 161h4v4h-4zM255 161h5v4h-5zM269 161h4v4h-4zM269 157h4v4h-4zM630 157h5v4h-5zM630 153h5v4h-5zM616 145h5v4h-5zM626 145h4v4h-4zM237 133h4v4h-4zM616 133h5v4h-5zM237 124h4v5h-4zM237 120h4v4h-4zM264 116h5v4h-5zM438 116h5v4h-5zM626 116h4v4h-4zM292 112h4v4h-4zM621 112h5v4h-5zM237 108h4v4h-4zM607 108h5v4h-5zM621 108h5v4h-5zM241 92h5v4h-5zM250 88h5v4h-5zM630 84h5v4h-5zM424 80h5v4h-5zM218 76h5v4h-5zM232 71h5v5h-5zM269 67h4v4h-4zM630 67h5v4h-5zM260 63h4v4h-4zM626 59h4v4h-4zM237 55h4v4h-4zM598 55h5v4h-5zM635 55h4v4h-4zM452 45h4v2h-4z"/><path fill="#10ffef" d="M273 528h5v4h-5zM310 528h4v4h-4zM356 528h4v4h-4zM378 528h5v4h-5zM415 528h5v4h-5zM516 528h4v4h-4zM589 528h5v4h-5zM461 455h4v4h-4zM497 450h5v5h-5zM113 446h5v4h-5zM314 446h5v4h-5zM351 442h5v4h-5zM113 434h5v4h-5zM351 434h5v4h-5zM456 434h5v4h-5zM475 434h4v4h-4zM333 430h4v4h-4zM406 430h5v4h-5zM493 430h4v4h-4zM292 426h4v4h-4zM356 426h4v4h-4zM365 426h4v4h-4zM397 426h4v4h-4zM475 426h4v4h-4zM484 426h4v4h-4zM497 426h5v4h-5zM507 426h4v4h-4zM562 426h4v4h-4zM109 422h4v4h-4zM131 422h5v4h-5zM305 422h5v4h-5zM365 422h4v4h-4zM475 422h4v4h-4zM488 422h5v4h-5zM543 418h5v4h-5zM562 418h4v4h-4zM122 414h5v4h-5zM282 414h5v4h-5zM351 414h18v4h-18zM516 414h4v4h-4zM282 410h5v4h-5zM424 410h5v4h-5zM520 410h5v4h-5zM566 410h5v4h-5zM328 406h5v4h-5zM438 406h5v4h-5zM520 406h5v4h-5zM406 402h5v4h-5zM557 402h5v4h-5zM159 397h4v5h-4zM292 397h4v5h-4zM305 397h5v5h-5zM328 397h5v5h-5zM337 397h5v5h-5zM520 397h5v5h-5zM109 393h4v4h-4zM168 393h5v4h-5zM369 393h5v4h-5zM406 393h5v4h-5zM511 393h5v4h-5zM534 393h5v4h-5zM342 389h4v4h-4zM369 389h5v4h-5zM420 389h4v4h-4zM443 389h4v4h-4zM484 389h4v4h-4zM507 389h4v4h-4zM539 389h13v4h-13zM150 385h4v4h-4zM310 385h9v4h-9zM374 385h4v4h-4zM420 385h4v4h-4zM484 385h4v4h-4zM525 385h4v4h-4zM534 385h5v4h-5zM543 385h5v4h-5zM150 381h4v4h-4zM177 381h5v4h-5zM301 381h4v4h-4zM328 381h5v4h-5zM397 381h4v4h-4zM424 381h5v4h-5zM516 381h4v4h-4zM122 377h5v4h-5zM154 377h5v4h-5zM177 377h5v4h-5zM333 377h4v4h-4zM163 373h5v4h-5zM310 373h4v4h-4zM424 373h5v4h-5zM539 373h4v4h-4zM548 373h9v4h-9zM575 373h5v4h-5zM594 373h4v4h-4zM191 369h5v4h-5zM319 369h5v4h-5zM342 369h9v4h-9zM456 369h5v4h-5zM484 369h4v4h-4zM502 369h5v4h-5zM594 369h4v4h-4zM287 365h5v4h-5zM296 365h5v4h-5zM378 365h5v4h-5zM397 365h4v4h-4zM411 365h4v4h-4zM429 365h4v4h-4zM456 365h5v4h-5zM516 365h4v4h-4zM548 365h4v4h-4zM104 361h5v4h-5zM163 361h5v4h-5zM401 361h5v4h-5zM497 361h5v4h-5zM589 361h5v4h-5zM113 357h5v4h-5zM154 357h5v4h-5zM314 357h5v4h-5zM356 357h4v4h-4zM539 357h4v4h-4zM150 353h4v4h-4zM314 353h5v4h-5zM392 353h5v4h-5zM429 353h4v4h-4zM452 353h4v4h-4zM470 353h5v4h-5zM484 353h4v4h-4zM511 353h5v4h-5zM113 349h5v4h-5zM168 349h5v4h-5zM342 349h4v4h-4zM429 349h4v4h-4zM465 349h5v4h-5zM145 345h5v4h-5zM200 345h5v4h-5zM287 345h5v4h-5zM520 345h5v4h-5zM539 345h4v4h-4zM612 345h4v4h-4zM122 340h5v5h-5zM145 340h5v5h-5zM159 340h9v5h-9zM273 340h5v5h-5zM438 340h5v5h-5zM470 340h5v5h-5zM552 340h5v5h-5zM644 340h4v5h-4zM159 336h4v4h-4zM191 336h5v4h-5zM113 332h5v4h-5zM141 332h4v4h-4zM150 332h4v4h-4zM278 332h4v4h-4zM292 332h4v4h-4zM301 332h4v4h-4zM342 332h4v4h-4zM520 332h5v4h-5zM612 332h4v4h-4zM136 328h5v4h-5zM246 328h4v4h-4zM571 328h4v4h-4zM639 328h5v4h-5zM282 324h5v4h-5zM301 324h4v4h-4zM337 324h5v4h-5zM497 324h5v4h-5zM150 320h4v4h-4zM159 320h4v4h-4zM205 320h4v4h-4zM246 320h4v4h-4zM301 320h4v4h-4zM346 320h5v4h-5zM456 320h5v4h-5zM475 320h4v4h-4zM543 320h5v4h-5zM205 316h4v4h-4zM324 316h4v4h-4zM520 316h5v4h-5zM534 316h5v4h-5zM122 312h5v4h-5zM191 312h5v4h-5zM264 312h5v4h-5zM273 312h5v4h-5zM292 312h4v4h-4zM141 308h4v4h-4zM214 308h4v4h-4zM287 308h5v4h-5zM626 308h4v4h-4zM301 304h4v4h-4zM200 300h5v4h-5zM301 300h4v4h-4zM452 300h4v4h-4zM621 300h5v4h-5zM191 296h5v4h-5zM250 296h5v4h-5zM479 296h5v4h-5zM648 296h5v4h-5zM228 292h4v4h-4zM301 292h4v4h-4zM626 292h4v4h-4zM648 292h5v4h-5zM228 287h4v5h-4zM461 287h4v5h-4zM639 287h5v5h-5zM209 283h5v4h-5zM278 283h4v4h-4zM626 283h4v4h-4zM205 279h4v4h-4zM200 275h5v4h-5zM273 275h5v4h-5zM264 271h5v4h-5zM612 271h4v4h-4zM639 271h5v4h-5zM479 267h5v4h-5zM260 263h4v4h-4zM465 263h5v4h-5zM516 263h4v4h-4zM635 263h4v4h-4zM205 259h9v4h-9zM292 259h4v4h-4zM621 259h5v4h-5zM648 259h5v4h-5zM621 255h5v4h-5zM635 255h4v4h-4zM264 251h5v4h-5zM214 247h4v4h-4zM255 247h5v4h-5zM612 247h4v4h-4zM648 247h5v4h-5zM214 243h4v4h-4zM260 243h4v4h-4zM612 243h4v4h-4zM237 239h4v4h-4zM635 239h4v4h-4zM237 234h4v5h-4zM228 230h4v4h-4zM218 226h5v4h-5zM475 226h4v4h-4zM218 222h5v4h-5zM241 222h5v4h-5zM255 222h9v4h-9zM644 222h4v4h-4zM612 218h4v4h-4zM644 218h4v4h-4zM196 214h4v4h-4zM209 214h5v4h-5zM552 214h5v4h-5zM260 210h4v4h-4zM232 206h5v4h-5zM616 202h5v4h-5zM232 194h5v4h-5zM269 190h4v4h-4zM630 186h5v4h-5zM616 182h5v4h-5zM648 182h5v4h-5zM264 177h5v5h-5zM598 177h5v5h-5zM612 177h4v5h-4zM630 177h5v5h-5zM214 173h4v4h-4zM232 173h5v4h-5zM250 173h5v4h-5zM241 169h5v4h-5zM250 169h5v4h-5zM616 169h5v4h-5zM228 153h4v4h-4zM447 149h5v4h-5zM621 149h5v4h-5zM228 137h4v4h-4zM246 137h4v4h-4zM598 137h5v4h-5zM635 120h4v4h-4zM255 116h5v4h-5zM621 116h5v4h-5zM273 112h5v4h-5zM612 112h4v4h-4zM278 108h4v4h-4zM612 108h4v4h-4zM241 100h5v4h-5zM250 100h5v4h-5zM241 96h5v4h-5zM626 92h4v4h-4zM237 88h4v4h-4zM635 84h4v4h-4zM241 76h5v4h-5zM607 76h5v4h-5zM424 71h5v5h-5zM635 71h4v5h-4zM255 67h5v4h-5zM218 59h5v4h-5zM241 55h5v4h-5zM598 47h5v4h-5zM616 45h5v2h-5zM630 45h9v2h-9z"/><path fill="#20ffdf" d="M452 532h4v2h-4zM109 528h4v4h-4zM200 528h5v4h-5zM223 528h5v4h-5zM493 528h4v4h-4zM525 459h4v4h-4zM433 450h5v5h-5zM131 446h5v4h-5zM406 446h5v4h-5zM484 446h4v4h-4zM562 446h4v4h-4zM104 442h5v4h-5zM488 442h5v4h-5zM319 434h5v4h-5zM424 434h5v4h-5zM383 430h5v4h-5zM392 430h5v4h-5zM415 430h5v4h-5zM525 430h4v4h-4zM571 430h4v4h-4zM488 426h5v4h-5zM539 426h4v4h-4zM557 426h5v4h-5zM159 422h4v4h-4zM287 418h9v4h-9zM310 418h4v4h-4zM333 418h4v4h-4zM406 418h5v4h-5zM443 418h4v4h-4zM497 418h5v4h-5zM552 418h10v4h-10zM131 414h5v4h-5zM374 414h4v4h-4zM388 414h4v4h-4zM305 410h5v4h-5zM452 410h4v4h-4zM479 410h5v4h-5zM511 410h5v4h-5zM548 410h4v4h-4zM109 406h4v4h-4zM122 406h5v4h-5zM356 406h4v4h-4zM447 406h5v4h-5zM456 406h5v4h-5zM511 406h9v4h-9zM548 406h4v4h-4zM141 402h4v4h-4zM484 402h4v4h-4zM548 402h4v4h-4zM626 402h4v4h-4zM122 397h5v5h-5zM163 397h5v5h-5zM314 397h10v5h-10zM333 397h4v5h-4zM360 397h5v5h-5zM374 397h4v5h-4zM452 397h4v5h-4zM470 397h5v5h-5zM296 393h5v4h-5zM497 393h5v4h-5zM529 393h5v4h-5zM154 389h5v4h-5zM264 389h5v4h-5zM493 389h4v4h-4zM648 389h5v4h-5zM104 385h5v4h-5zM113 385h9v4h-9zM145 385h5v4h-5zM163 385h5v4h-5zM296 385h5v4h-5zM337 385h5v4h-5zM502 385h5v4h-5zM589 385h5v4h-5zM415 381h5v4h-5zM539 381h4v4h-4zM452 377h4v4h-4zM511 377h5v4h-5zM534 377h9v4h-9zM566 377h5v4h-5zM584 377h10v4h-10zM630 377h5v4h-5zM196 373h4v4h-4zM465 373h5v4h-5zM520 373h5v4h-5zM141 369h4v4h-4zM177 369h5v4h-5zM305 369h5v4h-5zM324 369h4v4h-4zM374 369h4v4h-4zM429 369h4v4h-4zM443 369h9v4h-9zM461 369h4v4h-4zM475 369h4v4h-4zM168 365h5v4h-5zM534 365h5v4h-5zM200 361h5v4h-5zM465 361h5v4h-5zM639 361h5v4h-5zM470 357h5v4h-5zM520 357h5v4h-5zM552 357h5v4h-5zM145 353h5v4h-5zM196 353h9v4h-9zM292 353h4v4h-4zM438 353h5v4h-5zM520 353h5v4h-5zM109 349h4v4h-4zM333 349h9v4h-9zM383 349h5v4h-5zM438 349h5v4h-5zM484 349h4v4h-4zM154 345h5v4h-5zM246 345h4v4h-4zM626 345h4v4h-4zM639 345h5v4h-5zM282 340h10v5h-10zM337 340h5v5h-5zM479 340h5v5h-5zM488 340h5v5h-5zM136 336h5v4h-5zM282 336h5v4h-5zM296 336h5v4h-5zM319 336h5v4h-5zM246 332h4v4h-4zM383 328h5v4h-5zM465 328h5v4h-5zM511 328h5v4h-5zM529 328h5v4h-5zM214 324h4v4h-4zM644 320h4v4h-4zM223 316h5v4h-5zM278 316h4v4h-4zM250 312h5v4h-5zM621 312h5v4h-5zM644 312h4v4h-4zM191 308h5v4h-5zM200 308h14v4h-14zM278 308h4v4h-4zM310 308h4v4h-4zM452 308h4v4h-4zM209 300h5v4h-5zM278 300h4v4h-4zM296 300h5v4h-5zM433 300h5v4h-5zM470 300h5v4h-5zM287 296h5v4h-5zM310 296h4v4h-4zM525 296h4v4h-4zM237 287h4v5h-4zM246 283h4v4h-4zM269 283h4v4h-4zM287 283h5v4h-5zM182 279h4v4h-4zM644 279h4v4h-4zM269 275h4v4h-4zM648 275h5v4h-5zM269 271h4v4h-4zM470 271h5v4h-5zM493 271h4v4h-4zM616 271h5v4h-5zM237 267h4v4h-4zM452 267h4v4h-4zM246 263h9v4h-9zM269 263h4v4h-4zM470 263h5v4h-5zM260 259h4v4h-4zM191 255h5v4h-5zM250 255h5v4h-5zM626 255h4v4h-4zM191 251h5v4h-5zM612 251h4v4h-4zM621 251h5v4h-5zM470 247h5v4h-5zM626 247h4v4h-4zM255 243h5v4h-5zM218 239h5v4h-5zM205 234h4v5h-4zM612 234h4v5h-4zM461 230h4v4h-4zM612 230h4v4h-4zM635 230h4v4h-4zM250 226h5v4h-5zM612 226h4v4h-4zM196 222h4v4h-4zM214 222h4v4h-4zM232 222h5v4h-5zM616 222h5v4h-5zM241 218h9v4h-9zM255 218h5v4h-5zM648 218h5v4h-5zM228 210h4v4h-4zM269 210h4v4h-4zM612 210h4v4h-4zM196 206h4v4h-4zM260 206h4v4h-4zM237 202h4v4h-4zM246 202h4v4h-4zM447 202h5v4h-5zM237 198h4v4h-4zM630 198h5v4h-5zM621 194h9v4h-9zM214 190h4v4h-4zM228 190h4v4h-4zM214 186h4v4h-4zM228 186h4v4h-4zM200 182h5v4h-5zM218 173h5v4h-5zM447 173h5v4h-5zM607 173h5v4h-5zM447 169h5v4h-5zM461 169h4v4h-4zM228 165h4v4h-4zM255 157h9v4h-9zM232 153h5v4h-5zM616 153h5v4h-5zM438 141h5v4h-5zM607 141h9v4h-9zM607 124h5v5h-5zM598 120h5v4h-5zM218 116h5v4h-5zM635 116h4v4h-4zM607 112h5v4h-5zM232 108h5v4h-5zM635 108h4v4h-4zM232 104h5v4h-5zM630 104h5v4h-5zM218 96h5v4h-5zM232 96h5v4h-5zM635 96h4v4h-4zM232 88h5v4h-5zM269 84h4v4h-4zM598 84h5v4h-5zM635 63h4v4h-4zM635 51h4v4h-4zM612 47h4v4h-4zM269 45h4v2h-4z"/><path fill="#30ffcf" d="M127 528h4v4h-4zM163 528h5v4h-5zM205 528h4v4h-4zM287 528h5v4h-5zM360 528h5v4h-5zM401 528h5v4h-5zM429 528h4v4h-4zM488 528h5v4h-5zM580 528h4v4h-4zM122 467h5v4h-5zM356 467h4v4h-4zM333 463h4v4h-4zM346 455h5v4h-5zM113 450h5v5h-5zM351 446h5v4h-5zM461 446h4v4h-4zM475 446h4v4h-4zM328 442h5v4h-5zM346 442h5v4h-5zM397 442h4v4h-4zM104 438h5v4h-5zM122 438h5v4h-5zM159 438h4v4h-4zM346 438h5v4h-5zM356 438h4v4h-4zM497 438h5v4h-5zM580 438h4v4h-4zM589 434h5v4h-5zM282 430h5v4h-5zM337 430h5v4h-5zM351 430h14v4h-14zM424 430h5v4h-5zM470 430h5v4h-5zM507 430h4v4h-4zM543 430h5v4h-5zM580 430h4v4h-4zM333 426h4v4h-4zM374 426h4v4h-4zM401 426h10v4h-10zM328 422h5v4h-5zM465 422h5v4h-5zM534 422h5v4h-5zM305 418h5v4h-5zM397 418h4v4h-4zM507 418h4v4h-4zM548 418h4v4h-4zM109 414h4v4h-4zM159 414h4v4h-4zM333 414h4v4h-4zM456 414h5v4h-5zM534 414h5v4h-5zM562 414h13v4h-13zM173 410h4v4h-4zM456 410h5v4h-5zM543 410h5v4h-5zM173 406h4v4h-4zM388 406h4v4h-4zM401 406h5v4h-5zM433 406h5v4h-5zM443 406h4v4h-4zM525 406h4v4h-4zM186 402h5v4h-5zM314 402h5v4h-5zM392 402h5v4h-5zM493 402h4v4h-4zM543 402h5v4h-5zM562 402h4v4h-4zM589 402h5v4h-5zM109 397h4v5h-4zM141 397h9v5h-9zM177 397h5v5h-5zM324 397h4v5h-4zM411 397h4v5h-4zM488 397h5v5h-5zM497 397h5v5h-5zM516 397h4v5h-4zM525 397h4v5h-4zM150 393h4v4h-4zM163 393h5v4h-5zM433 393h5v4h-5zM484 393h4v4h-4zM575 393h5v4h-5zM186 389h5v4h-5zM282 389h5v4h-5zM314 389h5v4h-5zM328 389h5v4h-5zM346 389h5v4h-5zM461 389h4v4h-4zM497 389h5v4h-5zM626 389h4v4h-4zM131 385h5v4h-5zM319 385h5v4h-5zM447 385h5v4h-5zM493 385h4v4h-4zM511 385h5v4h-5zM548 385h4v4h-4zM635 385h4v4h-4zM163 381h5v4h-5zM296 381h5v4h-5zM337 381h5v4h-5zM383 381h9v4h-9zM401 381h5v4h-5zM470 381h5v4h-5zM109 377h4v4h-4zM131 377h5v4h-5zM145 377h5v4h-5zM186 377h5v4h-5zM319 377h5v4h-5zM378 377h5v4h-5zM401 377h5v4h-5zM548 377h4v4h-4zM639 377h5v4h-5zM282 373h5v4h-5zM397 373h4v4h-4zM461 373h4v4h-4zM584 373h10v4h-10zM635 373h4v4h-4zM122 369h5v4h-5zM200 369h5v4h-5zM438 369h5v4h-5zM452 369h4v4h-4zM470 369h5v4h-5zM310 365h4v4h-4zM639 365h5v4h-5zM145 361h5v4h-5zM264 361h5v4h-5zM301 361h4v4h-4zM447 361h5v4h-5zM511 361h9v4h-9zM539 361h4v4h-4zM173 357h4v4h-4zM296 357h5v4h-5zM525 357h4v4h-4zM589 357h5v4h-5zM612 357h4v4h-4zM626 357h4v4h-4zM136 353h5v4h-5zM278 353h4v4h-4zM104 349h5v4h-5zM346 349h5v4h-5zM479 349h5v4h-5zM594 349h4v4h-4zM644 349h4v4h-4zM122 345h5v4h-5zM173 345h4v4h-4zM250 345h5v4h-5zM296 345h5v4h-5zM131 340h5v5h-5zM182 340h4v5h-4zM310 340h4v5h-4zM328 340h5v5h-5zM635 340h4v5h-4zM104 336h5v4h-5zM122 336h5v4h-5zM346 336h5v4h-5zM465 336h5v4h-5zM479 336h5v4h-5zM310 332h4v4h-4zM360 332h5v4h-5zM543 332h5v4h-5zM626 332h9v4h-9zM200 328h5v4h-5zM310 328h4v4h-4zM205 324h4v4h-4zM250 324h5v4h-5zM260 324h4v4h-4zM493 324h4v4h-4zM250 320h5v4h-5zM292 320h4v4h-4zM616 320h14v4h-14zM314 316h5v4h-5zM452 316h4v4h-4zM182 312h4v4h-4zM287 312h5v4h-5zM479 312h5v4h-5zM502 312h5v4h-5zM520 312h5v4h-5zM273 308h5v4h-5zM465 308h5v4h-5zM630 308h9v4h-9zM273 304h5v4h-5zM616 304h5v4h-5zM630 304h5v4h-5zM648 304h5v4h-5zM223 300h5v4h-5zM205 296h4v4h-4zM337 296h5v4h-5zM635 296h4v4h-4zM205 292h4v4h-4zM214 292h4v4h-4zM237 292h9v4h-9zM292 292h4v4h-4zM260 287h4v5h-4zM534 287h5v5h-5zM630 287h5v5h-5zM520 283h5v4h-5zM246 279h4v4h-4zM269 279h9v4h-9zM209 275h5v4h-5zM260 271h4v4h-4zM635 271h4v4h-4zM493 267h4v4h-4zM616 267h5v4h-5zM635 267h4v4h-4zM648 267h5v4h-5zM292 263h4v4h-4zM273 259h5v4h-5zM209 251h5v4h-5zM228 251h4v4h-4zM191 247h5v4h-5zM232 247h5v4h-5zM273 247h5v4h-5zM292 247h4v4h-4zM630 247h5v4h-5zM205 243h9v4h-9zM223 243h9v4h-9zM648 243h5v4h-5zM205 239h4v4h-4zM255 239h5v4h-5zM269 239h4v4h-4zM616 234h10v5h-10zM273 230h5v4h-5zM241 226h5v4h-5zM621 226h5v4h-5zM635 222h4v4h-4zM621 218h5v4h-5zM250 214h5v4h-5zM648 214h5v4h-5zM456 210h5v4h-5zM648 206h5v4h-5zM228 202h4v4h-4zM255 202h5v4h-5zM260 198h4v4h-4zM635 198h4v4h-4zM255 194h5v4h-5zM598 194h5v4h-5zM612 194h4v4h-4zM246 190h4v4h-4zM255 190h5v4h-5zM452 190h4v4h-4zM246 186h4v4h-4zM255 177h5v5h-5zM648 177h5v5h-5zM205 173h4v4h-4zM246 173h4v4h-4zM635 169h4v4h-4zM630 165h5v4h-5zM228 161h4v4h-4zM635 161h4v4h-4zM196 145h4v4h-4zM237 145h4v4h-4zM621 137h5v4h-5zM621 133h5v4h-5zM598 129h5v4h-5zM264 124h5v5h-5zM424 124h5v5h-5zM612 124h4v5h-4zM635 124h4v5h-4zM607 120h5v4h-5zM228 116h4v4h-4zM241 112h5v4h-5zM218 108h5v4h-5zM250 104h5v4h-5zM598 104h5v4h-5zM612 104h4v4h-4zM598 100h5v4h-5zM616 92h10v4h-10zM626 88h4v4h-4zM218 84h5v4h-5zM607 80h5v4h-5zM616 80h5v4h-5zM232 76h5v4h-5zM607 67h5v4h-5zM269 63h4v4h-4zM255 59h5v4h-5zM250 51h5v4h-5zM260 51h4v4h-4zM269 51h4v4h-4zM260 45h4v2h-4z"/><path fill="#40ffbf" d="M461 532h4v2h-4zM232 528h5v4h-5zM314 528h5v4h-5zM438 528h9v4h-9zM456 528h5v4h-5zM529 528h5v4h-5zM566 528h5v4h-5zM154 467h5v4h-5zM113 463h5v4h-5zM507 463h4v4h-4zM479 459h5v4h-5zM314 455h10v4h-10zM369 455h5v4h-5zM525 455h4v4h-4zM333 450h4v5h-4zM351 450h5v5h-5zM507 450h4v5h-4zM507 446h4v4h-4zM525 446h4v4h-4zM552 446h5v4h-5zM305 442h5v4h-5zM406 442h5v4h-5zM488 438h5v4h-5zM131 434h5v4h-5zM333 434h4v4h-4zM356 434h9v4h-9zM529 434h5v4h-5zM571 434h4v4h-4zM328 430h5v4h-5zM365 430h4v4h-4zM479 430h5v4h-5zM511 430h5v4h-5zM113 426h5v4h-5zM131 426h5v4h-5zM314 426h5v4h-5zM378 426h5v4h-5zM520 426h5v4h-5zM104 422h5v4h-5zM378 422h5v4h-5zM461 422h4v4h-4zM484 422h4v4h-4zM557 422h5v4h-5zM575 422h5v4h-5zM177 418h5v4h-5zM360 418h5v4h-5zM520 418h5v4h-5zM584 418h5v4h-5zM648 418h5v4h-5zM141 414h13v4h-13zM287 414h5v4h-5zM328 414h5v4h-5zM438 414h9v4h-9zM497 414h5v4h-5zM122 410h5v4h-5zM141 410h4v4h-4zM182 410h4v4h-4zM342 410h4v4h-4zM461 410h4v4h-4zM516 410h4v4h-4zM282 406h5v4h-5zM411 406h4v4h-4zM484 406h4v4h-4zM507 406h4v4h-4zM566 406h9v4h-9zM411 402h4v4h-4zM443 402h9v4h-9zM456 402h5v4h-5zM497 402h5v4h-5zM136 397h5v5h-5zM186 397h5v5h-5zM301 397h4v5h-4zM310 397h4v5h-4zM356 397h4v5h-4zM456 397h5v5h-5zM584 397h5v5h-5zM635 397h4v5h-4zM127 393h4v4h-4zM145 393h5v4h-5zM282 393h5v4h-5zM301 393h4v4h-4zM337 393h9v4h-9zM415 393h5v4h-5zM429 393h4v4h-4zM122 389h5v4h-5zM333 389h4v4h-4zM456 389h5v4h-5zM525 389h4v4h-4zM154 385h5v4h-5zM168 385h5v4h-5zM196 385h4v4h-4zM282 385h5v4h-5zM369 385h5v4h-5zM388 385h4v4h-4zM443 385h4v4h-4zM475 385h9v4h-9zM507 385h4v4h-4zM104 381h5v4h-5zM273 381h5v4h-5zM447 381h5v4h-5zM529 381h5v4h-5zM104 377h5v4h-5zM328 377h5v4h-5zM356 377h4v4h-4zM397 377h4v4h-4zM438 377h5v4h-5zM488 377h5v4h-5zM246 373h4v4h-4zM296 373h5v4h-5zM429 373h4v4h-4zM507 373h4v4h-4zM630 373h5v4h-5zM118 369h4v4h-4zM127 369h4v4h-4zM150 369h4v4h-4zM337 369h5v4h-5zM383 369h5v4h-5zM548 369h4v4h-4zM109 365h4v4h-4zM191 365h5v4h-5zM200 365h5v4h-5zM246 365h4v4h-4zM388 365h4v4h-4zM438 365h5v4h-5zM287 361h5v4h-5zM319 361h9v4h-9zM168 357h5v4h-5zM292 357h4v4h-4zM324 357h4v4h-4zM456 357h14v4h-14zM497 357h5v4h-5zM131 353h5v4h-5zM447 353h5v4h-5zM621 353h5v4h-5zM319 349h5v4h-5zM264 345h5v4h-5zM278 345h4v4h-4zM292 345h4v4h-4zM429 345h4v4h-4zM461 345h4v4h-4zM241 340h5v5h-5zM333 340h4v5h-4zM447 340h5v5h-5zM534 340h5v5h-5zM626 340h4v5h-4zM109 336h4v4h-4zM447 336h5v4h-5zM497 336h5v4h-5zM182 332h4v4h-4zM296 332h5v4h-5zM639 332h5v4h-5zM182 328h9v4h-9zM287 328h5v4h-5zM264 324h5v4h-5zM461 324h4v4h-4zM635 324h4v4h-4zM264 320h5v4h-5zM337 320h5v4h-5zM182 316h4v4h-4zM237 316h4v4h-4zM260 312h4v4h-4zM324 312h4v4h-4zM228 308h4v4h-4zM205 304h4v4h-4zM246 304h14v4h-14zM292 304h4v4h-4zM305 304h9v4h-9zM196 300h4v4h-4zM209 296h5v4h-5zM237 296h4v4h-4zM260 292h4v4h-4zM273 292h5v4h-5zM465 292h5v4h-5zM616 292h5v4h-5zM630 292h5v4h-5zM186 287h5v5h-5zM214 283h4v4h-4zM241 283h5v4h-5zM250 283h5v4h-5zM616 283h5v4h-5zM648 283h5v4h-5zM465 279h5v4h-5zM470 275h5v4h-5zM200 271h5v4h-5zM278 271h4v4h-4zM209 267h5v4h-5zM218 263h5v4h-5zM612 259h4v4h-4zM630 259h5v4h-5zM269 255h4v4h-4zM452 255h4v4h-4zM607 255h5v4h-5zM648 255h5v4h-5zM237 251h4v4h-4zM250 251h5v4h-5zM223 247h5v4h-5zM635 247h4v4h-4zM475 243h4v4h-4zM228 239h4v4h-4zM214 230h9v4h-9zM438 230h5v4h-5zM475 230h4v4h-4zM616 230h5v4h-5zM273 226h5v4h-5zM648 222h5v4h-5zM228 214h4v4h-4zM246 214h4v4h-4zM420 214h4v4h-4zM598 214h5v4h-5zM621 214h5v4h-5zM232 210h5v4h-5zM200 206h5v4h-5zM237 206h4v4h-4zM616 206h5v4h-5zM612 198h4v4h-4zM616 186h5v4h-5zM250 182h5v4h-5zM635 182h4v4h-4zM616 177h5v5h-5zM616 165h5v4h-5zM607 149h5v4h-5zM232 145h5v4h-5zM616 141h5v4h-5zM607 137h5v4h-5zM255 124h5v5h-5zM232 112h5v4h-5zM255 108h5v4h-5zM607 104h5v4h-5zM626 104h4v4h-4zM607 100h5v4h-5zM218 92h5v4h-5zM232 92h5v4h-5zM598 88h5v4h-5zM612 84h4v4h-4zM209 80h5v4h-5zM598 76h5v4h-5zM621 71h5v5h-5zM269 55h4v4h-4zM616 55h5v4h-5zM630 55h5v4h-5zM241 47h5v4h-5zM607 47h5v4h-5zM218 45h5v2h-5zM241 45h5v2h-5z"/><path fill="#50ffaf" d="M630 532h5v2h-5zM136 528h9v4h-9zM154 528h5v4h-5zM168 528h9v4h-9zM182 528h4v4h-4zM260 528h9v4h-9zM324 528h4v4h-4zM337 528h9v4h-9zM374 528h4v4h-4zM552 528h5v4h-5zM113 467h5v4h-5zM337 467h5v4h-5zM122 463h5v4h-5zM342 463h4v4h-4zM154 459h5v4h-5zM543 459h5v4h-5zM497 455h5v4h-5zM122 450h5v5h-5zM305 450h5v5h-5zM324 450h4v5h-4zM369 450h5v5h-5zM383 450h5v5h-5zM534 450h5v5h-5zM104 446h5v4h-5zM122 446h5v4h-5zM150 446h4v4h-4zM168 446h5v4h-5zM557 446h5v4h-5zM292 442h4v4h-4zM562 442h4v4h-4zM324 438h4v4h-4zM374 438h4v4h-4zM401 438h5v4h-5zM475 438h4v4h-4zM484 438h4v4h-4zM502 438h5v4h-5zM548 438h4v4h-4zM502 434h5v4h-5zM562 434h4v4h-4zM131 430h5v4h-5zM159 430h4v4h-4zM186 430h5v4h-5zM383 426h5v4h-5zM392 426h5v4h-5zM456 426h5v4h-5zM548 426h4v4h-4zM150 422h4v4h-4zM173 422h4v4h-4zM292 422h4v4h-4zM392 422h9v4h-9zM529 422h5v4h-5zM552 422h5v4h-5zM173 418h4v4h-4zM186 418h5v4h-5zM319 418h5v4h-5zM374 418h4v4h-4zM383 418h5v4h-5zM392 418h5v4h-5zM447 418h5v4h-5zM470 418h5v4h-5zM534 418h5v4h-5zM186 414h5v4h-5zM337 414h5v4h-5zM447 414h5v4h-5zM502 414h5v4h-5zM557 414h5v4h-5zM648 414h5v4h-5zM177 410h5v4h-5zM273 410h5v4h-5zM301 410h4v4h-4zM314 410h5v4h-5zM539 410h4v4h-4zM150 406h4v4h-4zM196 406h4v4h-4zM292 406h4v4h-4zM310 406h14v4h-14zM465 406h5v4h-5zM539 406h4v4h-4zM557 406h5v4h-5zM575 406h9v4h-9zM429 402h4v4h-4zM566 402h5v4h-5zM168 397h5v5h-5zM388 397h4v5h-4zM433 397h5v5h-5zM333 393h4v4h-4zM378 393h5v4h-5zM443 393h4v4h-4zM461 393h4v4h-4zM525 393h4v4h-4zM552 393h5v4h-5zM109 389h4v4h-4zM177 389h5v4h-5zM374 389h4v4h-4zM433 389h5v4h-5zM475 389h4v4h-4zM502 389h5v4h-5zM511 389h5v4h-5zM301 385h4v4h-4zM360 385h5v4h-5zM438 385h5v4h-5zM497 385h5v4h-5zM566 385h5v4h-5zM594 385h4v4h-4zM154 381h5v4h-5zM287 381h5v4h-5zM310 381h4v4h-4zM433 381h5v4h-5zM465 381h5v4h-5zM630 381h5v4h-5zM118 377h4v4h-4zM150 377h4v4h-4zM163 377h10v4h-10zM209 377h5v4h-5zM264 377h5v4h-5zM292 377h4v4h-4zM305 377h5v4h-5zM475 377h4v4h-4zM141 373h4v4h-4zM177 373h5v4h-5zM237 373h4v4h-4zM346 373h5v4h-5zM470 373h5v4h-5zM511 373h5v4h-5zM626 373h4v4h-4zM154 369h5v4h-5zM214 369h4v4h-4zM566 369h5v4h-5zM630 369h5v4h-5zM131 365h5v4h-5zM255 365h5v4h-5zM314 365h5v4h-5zM196 361h4v4h-4zM292 361h4v4h-4zM314 361h5v4h-5zM475 361h4v4h-4zM626 361h9v4h-9zM644 361h4v4h-4zM145 357h5v4h-5zM278 357h4v4h-4zM484 357h9v4h-9zM273 353h5v4h-5zM301 353h4v4h-4zM475 353h4v4h-4zM635 353h4v4h-4zM191 349h5v4h-5zM109 345h4v4h-4zM255 345h5v4h-5zM328 345h5v4h-5zM475 345h4v4h-4zM484 345h4v4h-4zM205 340h4v5h-4zM497 340h5v5h-5zM630 340h5v5h-5zM196 336h4v4h-4zM255 336h5v4h-5zM644 336h4v4h-4zM104 332h5v4h-5zM205 332h4v4h-4zM214 332h4v4h-4zM484 332h4v4h-4zM150 328h4v4h-4zM484 328h4v4h-4zM520 328h5v4h-5zM182 324h4v4h-4zM246 324h4v4h-4zM273 324h5v4h-5zM310 324h4v4h-4zM479 324h5v4h-5zM182 320h9v4h-9zM196 320h4v4h-4zM635 320h4v4h-4zM196 316h4v4h-4zM214 316h4v4h-4zM250 316h5v4h-5zM630 316h5v4h-5zM163 312h5v4h-5zM310 312h4v4h-4zM182 308h4v4h-4zM621 308h5v4h-5zM122 304h5v4h-5zM237 304h4v4h-4zM260 304h4v4h-4zM218 300h5v4h-5zM264 300h5v4h-5zM644 300h4v4h-4zM616 296h5v4h-5zM626 296h4v4h-4zM200 292h5v4h-5zM232 287h5v5h-5zM250 287h5v5h-5zM255 283h5v4h-5zM250 279h5v4h-5zM237 275h9v4h-9zM255 271h5v4h-5zM260 267h4v4h-4zM301 267h4v4h-4zM612 267h4v4h-4zM228 263h4v4h-4zM273 263h5v4h-5zM612 263h4v4h-4zM621 263h5v4h-5zM250 259h5v4h-5zM616 259h5v4h-5zM218 255h5v4h-5zM241 255h5v4h-5zM260 255h4v4h-4zM292 255h4v4h-4zM241 251h5v4h-5zM273 251h5v4h-5zM246 243h9v4h-9zM273 239h5v4h-5zM228 234h4v5h-4zM630 226h5v4h-5zM228 222h4v4h-4zM250 222h5v4h-5zM273 222h5v4h-5zM598 218h5v4h-5zM214 214h4v4h-4zM616 214h5v4h-5zM616 210h5v4h-5zM255 206h5v4h-5zM269 206h4v4h-4zM630 206h5v4h-5zM214 202h4v4h-4zM635 202h4v4h-4zM237 186h4v4h-4zM598 173h5v4h-5zM228 169h4v4h-4zM630 169h5v4h-5zM607 165h5v4h-5zM630 161h5v4h-5zM228 157h4v4h-4zM598 141h5v4h-5zM630 137h5v4h-5zM246 133h4v4h-4zM635 129h4v4h-4zM635 112h4v4h-4zM612 96h4v4h-4zM232 84h5v4h-5zM598 80h5v4h-5zM616 63h5v4h-5z"/><path fill="#60ff9f" d="M250 528h5v4h-5zM269 528h4v4h-4zM278 528h4v4h-4zM328 528h5v4h-5zM346 528h10v4h-10zM411 528h4v4h-4zM433 528h5v4h-5zM461 528h4v4h-4zM497 528h5v4h-5zM525 528h4v4h-4zM534 528h5v4h-5zM543 528h5v4h-5zM346 475h5v4h-5zM360 475h5v4h-5zM319 471h5v4h-5zM360 463h5v4h-5zM443 463h4v4h-4zM356 459h4v4h-4zM461 459h4v4h-4zM113 455h5v4h-5zM333 455h4v4h-4zM575 455h5v4h-5zM314 450h5v5h-5zM365 450h4v5h-4zM525 450h4v5h-4zM539 450h4v5h-4zM173 446h4v4h-4zM374 446h4v4h-4zM424 446h5v4h-5zM511 446h5v4h-5zM383 442h5v4h-5zM479 442h5v4h-5zM511 442h5v4h-5zM520 442h5v4h-5zM301 438h4v4h-4zM328 438h5v4h-5zM342 438h4v4h-4zM369 438h5v4h-5zM383 438h5v4h-5zM141 434h4v4h-4zM168 434h5v4h-5zM177 434h5v4h-5zM324 434h4v4h-4zM447 434h5v4h-5zM484 434h4v4h-4zM507 434h4v4h-4zM534 434h5v4h-5zM552 434h5v4h-5zM154 430h5v4h-5zM305 430h5v4h-5zM319 430h5v4h-5zM401 430h5v4h-5zM411 430h4v4h-4zM429 430h4v4h-4zM516 430h4v4h-4zM118 426h9v4h-9zM196 426h4v4h-4zM360 426h5v4h-5zM388 426h4v4h-4zM465 426h5v4h-5zM479 426h5v4h-5zM502 426h5v4h-5zM529 426h5v4h-5zM374 422h4v4h-4zM406 422h5v4h-5zM113 418h5v4h-5zM337 418h9v4h-9zM461 418h4v4h-4zM525 418h4v4h-4zM196 414h4v4h-4zM301 414h4v4h-4zM401 414h10v4h-10zM420 414h4v4h-4zM429 414h4v4h-4zM475 414h4v4h-4zM493 414h4v4h-4zM127 410h9v4h-9zM145 410h5v4h-5zM186 410h5v4h-5zM356 410h4v4h-4zM369 410h5v4h-5zM411 410h4v4h-4zM429 410h4v4h-4zM465 410h10v4h-10zM635 410h4v4h-4zM136 406h5v4h-5zM154 406h14v4h-14zM406 406h5v4h-5zM420 406h4v4h-4zM562 406h4v4h-4zM131 402h5v4h-5zM145 402h5v4h-5zM163 402h5v4h-5zM319 402h5v4h-5zM356 402h4v4h-4zM388 402h4v4h-4zM452 402h4v4h-4zM488 402h5v4h-5zM635 402h9v4h-9zM118 397h4v5h-4zM282 397h5v5h-5zM383 397h5v5h-5zM461 397h4v5h-4zM566 397h5v5h-5zM113 393h5v4h-5zM292 393h4v4h-4zM314 393h5v4h-5zM328 393h5v4h-5zM456 393h5v4h-5zM516 393h4v4h-4zM594 393h4v4h-4zM145 389h9v4h-9zM296 389h9v4h-9zM337 389h5v4h-5zM575 389h5v4h-5zM589 389h5v4h-5zM182 385h4v4h-4zM411 385h9v4h-9zM465 385h5v4h-5zM113 381h5v4h-5zM196 381h4v4h-4zM282 381h5v4h-5zM369 381h5v4h-5zM456 381h5v4h-5zM626 381h4v4h-4zM639 381h5v4h-5zM173 377h4v4h-4zM310 377h4v4h-4zM337 377h5v4h-5zM388 377h4v4h-4zM470 377h5v4h-5zM502 377h9v4h-9zM529 377h5v4h-5zM635 377h4v4h-4zM292 373h4v4h-4zM447 373h5v4h-5zM109 369h4v4h-4zM136 369h5v4h-5zM186 369h5v4h-5zM273 369h5v4h-5zM644 369h4v4h-4zM113 365h5v4h-5zM163 365h5v4h-5zM324 365h4v4h-4zM452 365h4v4h-4zM470 365h5v4h-5zM118 361h4v4h-4zM131 361h10v4h-10zM150 361h4v4h-4zM168 361h5v4h-5zM328 361h5v4h-5zM196 357h4v4h-4zM246 357h4v4h-4zM346 357h5v4h-5zM182 353h4v4h-4zM269 353h4v4h-4zM287 353h5v4h-5zM465 353h5v4h-5zM621 349h5v4h-5zM630 349h5v4h-5zM136 345h5v4h-5zM182 345h4v4h-4zM260 345h4v4h-4zM314 345h5v4h-5zM438 345h5v4h-5zM136 340h5v5h-5zM296 340h5v5h-5zM264 336h5v4h-5zM301 336h4v4h-4zM635 336h4v4h-4zM241 332h5v4h-5zM250 332h5v4h-5zM260 332h4v4h-4zM337 332h5v4h-5zM479 332h5v4h-5zM301 328h4v4h-4zM218 324h5v4h-5zM255 324h5v4h-5zM214 320h4v4h-4zM310 320h4v4h-4zM264 316h5v4h-5zM205 312h4v4h-4zM278 312h4v4h-4zM241 308h5v4h-5zM191 304h5v4h-5zM269 304h4v4h-4zM278 296h4v4h-4zM301 296h4v4h-4zM196 292h4v4h-4zM635 292h4v4h-4zM200 287h5v5h-5zM205 283h4v4h-4zM223 283h5v4h-5zM237 283h4v4h-4zM273 283h5v4h-5zM214 279h4v4h-4zM228 279h4v4h-4zM237 279h4v4h-4zM264 279h5v4h-5zM612 279h9v4h-9zM626 279h4v4h-4zM635 279h4v4h-4zM214 275h4v4h-4zM250 275h5v4h-5zM635 275h4v4h-4zM246 271h4v4h-4zM255 267h5v4h-5zM278 263h4v4h-4zM607 263h5v4h-5zM616 263h5v4h-5zM237 259h4v4h-4zM209 255h5v4h-5zM223 255h5v4h-5zM237 255h4v4h-4zM630 255h5v4h-5zM630 251h5v4h-5zM191 243h5v4h-5zM232 243h5v4h-5zM612 239h4v4h-4zM214 234h4v5h-4zM223 222h5v4h-5zM228 218h4v4h-4zM218 210h5v4h-5zM241 210h9v4h-9zM255 210h5v4h-5zM228 198h4v4h-4zM598 198h5v4h-5zM200 190h5v4h-5zM630 182h5v4h-5zM228 173h4v4h-4zM598 169h5v4h-5zM218 165h5v4h-5zM612 157h4v4h-4zM228 149h9v4h-9zM621 145h5v4h-5zM621 141h5v4h-5zM264 133h5v4h-5zM228 129h4v4h-4zM630 112h5v4h-5zM616 100h5v4h-5zM612 80h4v4h-4zM616 59h5v4h-5zM635 59h4v4h-4z"/><path fill="#70ff8f" d="M196 528h4v4h-4zM241 528h5v4h-5zM255 528h5v4h-5zM282 528h5v4h-5zM365 528h4v4h-4zM392 528h9v4h-9zM406 528h5v4h-5zM470 528h5v4h-5zM507 528h9v4h-9zM548 528h4v4h-4zM626 528h4v4h-4zM131 479h5v4h-5zM525 479h4v4h-4zM314 475h5v4h-5zM360 471h5v4h-5zM141 467h4v4h-4zM342 467h9v4h-9zM305 463h5v4h-5zM479 463h5v4h-5zM525 463h4v4h-4zM168 459h5v4h-5zM511 459h5v4h-5zM424 455h5v4h-5zM109 450h4v5h-4zM141 450h4v5h-4zM301 450h4v5h-4zM360 450h5v5h-5zM461 450h4v5h-4zM186 446h5v4h-5zM305 446h5v4h-5zM360 446h5v4h-5zM388 446h4v4h-4zM497 446h5v4h-5zM580 446h4v4h-4zM154 442h5v4h-5zM337 442h5v4h-5zM456 442h5v4h-5zM575 442h5v4h-5zM109 438h4v4h-4zM127 438h4v4h-4zM296 438h5v4h-5zM365 438h4v4h-4zM465 438h5v4h-5zM479 438h5v4h-5zM516 438h4v4h-4zM552 438h5v4h-5zM150 434h4v4h-4zM196 434h4v4h-4zM282 434h5v4h-5zM296 434h9v4h-9zM314 434h5v4h-5zM397 434h4v4h-4zM470 434h5v4h-5zM539 434h4v4h-4zM177 430h5v4h-5zM456 430h5v4h-5zM465 430h5v4h-5zM548 430h4v4h-4zM141 426h4v4h-4zM328 426h5v4h-5zM420 426h4v4h-4zM429 426h4v4h-4zM443 426h4v4h-4zM575 426h5v4h-5zM145 422h5v4h-5zM260 422h4v4h-4zM319 422h5v4h-5zM388 422h4v4h-4zM525 422h4v4h-4zM539 422h4v4h-4zM122 418h5v4h-5zM141 418h4v4h-4zM154 418h5v4h-5zM378 418h5v4h-5zM433 418h5v4h-5zM456 418h5v4h-5zM529 418h5v4h-5zM626 418h4v4h-4zM136 414h5v4h-5zM415 414h5v4h-5zM433 414h5v4h-5zM511 414h5v4h-5zM575 414h5v4h-5zM118 410h4v4h-4zM292 410h4v4h-4zM324 410h9v4h-9zM360 410h5v4h-5zM406 410h5v4h-5zM438 410h9v4h-9zM552 410h5v4h-5zM296 406h5v4h-5zM337 406h5v4h-5zM392 406h5v4h-5zM415 406h5v4h-5zM529 406h5v4h-5zM122 402h5v4h-5zM159 402h4v4h-4zM177 402h5v4h-5zM205 402h4v4h-4zM305 402h5v4h-5zM594 402h4v4h-4zM264 397h5v5h-5zM278 397h4v5h-4zM296 397h5v5h-5zM589 397h9v5h-9zM182 393h4v4h-4zM411 393h4v4h-4zM438 393h5v4h-5zM447 393h5v4h-5zM465 393h5v4h-5zM502 393h5v4h-5zM566 393h5v4h-5zM635 393h4v4h-4zM324 389h4v4h-4zM438 389h5v4h-5zM264 385h5v4h-5zM383 385h5v4h-5zM452 385h4v4h-4zM109 381h4v4h-4zM145 381h5v4h-5zM168 381h5v4h-5zM214 381h4v4h-4zM260 381h4v4h-4zM461 381h4v4h-4zM575 381h5v4h-5zM113 377h5v4h-5zM383 377h5v4h-5zM411 377h4v4h-4zM626 377h4v4h-4zM191 373h5v4h-5zM475 373h4v4h-4zM131 369h5v4h-5zM196 369h4v4h-4zM488 369h5v4h-5zM539 369h4v4h-4zM186 365h5v4h-5zM205 365h4v4h-4zM282 365h5v4h-5zM612 365h4v4h-4zM648 365h5v4h-5zM269 361h4v4h-4zM296 361h5v4h-5zM415 361h5v4h-5zM438 361h5v4h-5zM209 357h5v4h-5zM269 357h4v4h-4zM319 357h5v4h-5zM644 357h4v4h-4zM218 353h5v4h-5zM630 353h5v4h-5zM182 349h4v4h-4zM250 349h5v4h-5zM264 349h23v4h-23zM305 349h5v4h-5zM470 349h5v4h-5zM626 349h4v4h-4zM150 345h4v4h-4zM273 345h5v4h-5zM337 345h5v4h-5zM346 345h5v4h-5zM465 345h5v4h-5zM150 340h4v5h-4zM264 340h5v5h-5zM616 340h10v5h-10zM163 336h5v4h-5zM287 336h5v4h-5zM328 336h5v4h-5zM337 336h5v4h-5zM186 332h5v4h-5zM264 332h5v4h-5zM314 332h5v4h-5zM511 332h5v4h-5zM269 328h4v4h-4zM621 328h5v4h-5zM630 328h5v4h-5zM122 320h5v4h-5zM237 320h4v4h-4zM269 320h4v4h-4zM520 320h5v4h-5zM475 316h4v4h-4zM635 316h4v4h-4zM214 312h4v4h-4zM223 312h5v4h-5zM237 308h4v4h-4zM209 304h5v4h-5zM635 304h4v4h-4zM237 300h4v4h-4zM630 300h9v4h-9zM232 296h5v4h-5zM241 296h5v4h-5zM269 292h4v4h-4zM246 287h4v5h-4zM218 283h5v4h-5zM635 283h4v4h-4zM209 279h5v4h-5zM223 279h5v4h-5zM612 275h9v4h-9zM209 271h5v4h-5zM218 271h5v4h-5zM228 267h4v4h-4zM241 267h5v4h-5zM255 255h5v4h-5zM616 255h5v4h-5zM223 251h5v4h-5zM255 251h5v4h-5zM292 251h4v4h-4zM237 243h9v4h-9zM616 243h5v4h-5zM648 239h5v4h-5zM255 234h5v5h-5zM260 230h4v4h-4zM621 230h5v4h-5zM630 230h5v4h-5zM246 226h4v4h-4zM607 226h5v4h-5zM612 206h4v4h-4zM228 194h4v4h-4zM616 190h5v4h-5zM246 182h4v4h-4zM241 177h5v5h-5zM607 116h5v4h-5zM255 112h5v4h-5zM269 71h4v5h-4zM218 55h5v4h-5zM612 55h4v4h-4z"/><path fill="#80ff80" d="M104 528h5v4h-5zM159 528h4v4h-4zM209 528h5v4h-5zM218 528h5v4h-5zM246 528h4v4h-4zM296 528h5v4h-5zM383 528h5v4h-5zM484 528h4v4h-4zM557 528h5v4h-5zM571 528h4v4h-4zM159 479h4v4h-4zM356 479h4v4h-4zM475 475h4v4h-4zM534 475h5v4h-5zM548 471h4v4h-4zM319 467h5v4h-5zM488 467h5v4h-5zM502 467h5v4h-5zM159 463h4v4h-4zM296 463h5v4h-5zM104 459h5v4h-5zM113 459h5v4h-5zM324 459h4v4h-4zM571 459h4v4h-4zM109 455h4v4h-4zM159 455h4v4h-4zM324 455h4v4h-4zM356 455h4v4h-4zM365 455h4v4h-4zM475 455h4v4h-4zM493 455h4v4h-4zM507 455h4v4h-4zM159 450h4v5h-4zM456 450h5v5h-5zM159 446h4v4h-4zM369 446h5v4h-5zM415 446h5v4h-5zM520 446h5v4h-5zM534 446h5v4h-5zM575 446h5v4h-5zM150 442h4v4h-4zM196 442h4v4h-4zM301 442h4v4h-4zM314 442h5v4h-5zM333 442h4v4h-4zM429 442h9v4h-9zM516 442h4v4h-4zM534 442h5v4h-5zM319 438h5v4h-5zM571 438h4v4h-4zM127 434h4v4h-4zM163 434h5v4h-5zM346 434h5v4h-5zM406 434h5v4h-5zM429 434h4v4h-4zM511 434h5v4h-5zM525 434h4v4h-4zM548 434h4v4h-4zM580 434h4v4h-4zM113 430h5v4h-5zM122 430h5v4h-5zM301 430h4v4h-4zM314 430h5v4h-5zM342 430h4v4h-4zM539 430h4v4h-4zM154 426h5v4h-5zM282 426h5v4h-5zM342 426h4v4h-4zM415 426h5v4h-5zM552 426h5v4h-5zM141 422h4v4h-4zM177 422h5v4h-5zM411 422h9v4h-9zM429 422h4v4h-4zM502 422h5v4h-5zM543 422h5v4h-5zM571 422h4v4h-4zM584 422h5v4h-5zM626 422h4v4h-4zM127 418h4v4h-4zM145 418h5v4h-5zM196 418h4v4h-4zM296 418h9v4h-9zM401 418h5v4h-5zM475 418h4v4h-4zM488 418h5v4h-5zM539 418h4v4h-4zM621 418h5v4h-5zM644 418h4v4h-4zM319 414h5v4h-5zM383 414h5v4h-5zM392 414h5v4h-5zM411 414h4v4h-4zM461 414h9v4h-9zM635 414h4v4h-4zM113 410h5v4h-5zM333 410h4v4h-4zM420 410h4v4h-4zM493 410h4v4h-4zM502 410h5v4h-5zM525 410h4v4h-4zM589 410h5v4h-5zM127 406h4v4h-4zM141 406h4v4h-4zM177 406h5v4h-5zM397 406h4v4h-4zM429 406h4v4h-4zM479 406h5v4h-5zM493 406h4v4h-4zM584 406h5v4h-5zM635 406h4v4h-4zM109 402h4v4h-4zM127 402h4v4h-4zM136 402h5v4h-5zM150 402h9v4h-9zM301 402h4v4h-4zM333 402h4v4h-4zM433 402h5v4h-5zM113 397h5v5h-5zM154 397h5v5h-5zM420 397h4v5h-4zM548 397h9v5h-9zM575 397h5v5h-5zM621 397h5v5h-5zM648 397h5v5h-5zM122 393h5v4h-5zM310 393h4v4h-4zM470 393h5v4h-5zM479 393h5v4h-5zM493 393h4v4h-4zM136 389h9v4h-9zM163 389h5v4h-5zM196 389h4v4h-4zM401 389h5v4h-5zM516 389h4v4h-4zM136 385h5v4h-5zM237 385h4v4h-4zM246 385h4v4h-4zM470 385h5v4h-5zM639 385h5v4h-5zM191 381h5v4h-5zM319 381h5v4h-5zM287 377h5v4h-5zM346 377h5v4h-5zM447 377h5v4h-5zM497 377h5v4h-5zM644 377h4v4h-4zM113 373h5v4h-5zM122 373h5v4h-5zM186 373h5v4h-5zM209 373h5v4h-5zM333 373h4v4h-4zM465 369h5v4h-5zM635 369h4v4h-4zM250 365h5v4h-5zM260 365h4v4h-4zM447 365h5v4h-5zM113 361h5v4h-5zM255 361h5v4h-5zM635 361h4v4h-4zM109 357h4v4h-4zM200 357h5v4h-5zM237 357h4v4h-4zM282 357h10v4h-10zM301 357h4v4h-4zM328 357h5v4h-5zM452 357h4v4h-4zM475 357h4v4h-4zM648 357h5v4h-5zM209 353h5v4h-5zM616 353h5v4h-5zM232 349h5v4h-5zM287 349h5v4h-5zM301 349h4v4h-4zM452 349h4v4h-4zM205 345h9v4h-9zM232 345h5v4h-5zM282 345h5v4h-5zM497 345h5v4h-5zM196 340h4v5h-4zM218 340h5v5h-5zM232 340h5v5h-5zM612 340h4v5h-4zM269 336h4v4h-4zM333 336h4v4h-4zM452 336h4v4h-4zM621 332h5v4h-5zM196 328h4v4h-4zM205 328h4v4h-4zM237 328h4v4h-4zM255 328h14v4h-14zM278 328h4v4h-4zM287 324h5v4h-5zM287 320h5v4h-5zM648 320h5v4h-5zM191 316h5v4h-5zM255 316h9v4h-9zM269 316h4v4h-4zM232 312h5v4h-5zM301 312h4v4h-4zM648 312h5v4h-5zM196 308h4v4h-4zM223 308h5v4h-5zM250 308h5v4h-5zM644 308h4v4h-4zM200 304h5v4h-5zM223 304h5v4h-5zM232 304h5v4h-5zM191 300h5v4h-5zM214 300h4v4h-4zM598 300h5v4h-5zM612 300h4v4h-4zM520 296h5v4h-5zM218 292h5v4h-5zM301 287h4v5h-4zM200 279h5v4h-5zM260 279h4v4h-4zM264 275h5v4h-5zM648 271h5v4h-5zM223 263h5v4h-5zM607 259h5v4h-5zM205 251h4v4h-4zM214 251h9v4h-9zM260 251h4v4h-4zM635 251h4v4h-4zM214 226h4v4h-4zM630 210h5v4h-5zM612 161h4v4h-4zM616 157h5v4h-5zM621 124h5v5h-5zM612 63h4v4h-4z"/><path fill="#8fff70" d="M113 528h5v4h-5zM301 528h4v4h-4zM388 528h4v4h-4zM424 528h5v4h-5zM465 528h5v4h-5zM475 528h9v4h-9zM539 528h4v4h-4zM562 528h4v4h-4zM159 487h4v4h-4zM337 479h5v4h-5zM566 479h5v4h-5zM337 475h5v4h-5zM163 471h10v4h-10zM337 471h5v4h-5zM534 471h5v4h-5zM163 467h5v4h-5zM475 463h4v4h-4zM502 463h5v4h-5zM534 463h5v4h-5zM150 459h4v4h-4zM292 459h4v4h-4zM328 459h5v4h-5zM507 459h4v4h-4zM131 455h5v4h-5zM150 455h4v4h-4zM168 455h5v4h-5zM456 455h5v4h-5zM470 455h5v4h-5zM543 455h5v4h-5zM557 455h5v4h-5zM150 450h4v5h-4zM173 450h4v5h-4zM346 450h5v5h-5zM465 450h5v5h-5zM475 450h9v5h-9zM177 446h5v4h-5zM319 446h5v4h-5zM346 446h5v4h-5zM447 446h5v4h-5zM465 446h5v4h-5zM543 446h5v4h-5zM324 442h4v4h-4zM374 442h4v4h-4zM443 442h4v4h-4zM465 442h10v4h-10zM484 442h4v4h-4zM493 442h4v4h-4zM113 438h5v4h-5zM145 438h5v4h-5zM154 438h5v4h-5zM173 438h4v4h-4zM186 438h5v4h-5zM351 438h5v4h-5zM388 438h4v4h-4zM104 434h5v4h-5zM310 434h4v4h-4zM516 434h4v4h-4zM584 434h5v4h-5zM118 430h4v4h-4zM163 430h5v4h-5zM182 430h4v4h-4zM378 430h5v4h-5zM488 430h5v4h-5zM534 430h5v4h-5zM639 430h5v4h-5zM173 426h4v4h-4zM534 426h5v4h-5zM580 426h4v4h-4zM589 426h5v4h-5zM122 422h5v4h-5zM223 422h5v4h-5zM443 422h4v4h-4zM456 422h5v4h-5zM479 422h5v4h-5zM109 418h4v4h-4zM118 418h4v4h-4zM104 414h5v4h-5zM118 414h4v4h-4zM177 414h5v4h-5zM305 414h5v4h-5zM314 414h5v4h-5zM584 414h5v4h-5zM626 414h4v4h-4zM104 410h5v4h-5zM296 410h5v4h-5zM383 410h5v4h-5zM644 410h4v4h-4zM383 406h5v4h-5zM452 406h4v4h-4zM616 406h5v4h-5zM324 402h4v4h-4zM337 402h5v4h-5zM401 402h5v4h-5zM479 402h5v4h-5zM552 402h5v4h-5zM104 397h5v5h-5zM127 397h4v5h-4zM173 397h4v5h-4zM131 393h5v4h-5zM173 393h9v4h-9zM319 393h5v4h-5zM173 389h4v4h-4zM200 389h5v4h-5zM319 389h5v4h-5zM415 389h5v4h-5zM465 389h10v4h-10zM141 385h4v4h-4zM269 385h4v4h-4zM626 385h4v4h-4zM648 385h5v4h-5zM118 381h4v4h-4zM200 381h5v4h-5zM264 381h5v4h-5zM278 381h4v4h-4zM333 381h4v4h-4zM475 381h9v4h-9zM548 381h4v4h-4zM635 381h4v4h-4zM273 377h5v4h-5zM324 377h4v4h-4zM456 377h5v4h-5zM621 377h5v4h-5zM305 373h5v4h-5zM456 373h5v4h-5zM488 373h5v4h-5zM113 369h5v4h-5zM255 369h5v4h-5zM269 369h4v4h-4zM278 369h4v4h-4zM292 369h4v4h-4zM479 369h5v4h-5zM122 365h5v4h-5zM237 365h9v4h-9zM630 365h5v4h-5zM246 361h4v4h-4zM470 361h5v4h-5zM612 361h4v4h-4zM182 357h4v4h-4zM337 357h5v4h-5zM630 357h5v4h-5zM241 353h9v4h-9zM305 353h5v4h-5zM218 349h5v4h-5zM516 349h4v4h-4zM612 349h4v4h-4zM648 349h5v4h-5zM214 345h9v4h-9zM635 345h4v4h-4zM109 340h4v5h-4zM214 340h4v5h-4zM246 340h4v5h-4zM246 336h4v4h-4zM612 336h4v4h-4zM209 328h5v4h-5zM241 324h5v4h-5zM232 320h5v4h-5zM196 312h4v4h-4zM218 312h5v4h-5zM635 312h4v4h-4zM246 308h4v4h-4zM648 308h5v4h-5zM644 304h4v4h-4zM241 300h5v4h-5zM260 300h4v4h-4zM626 300h4v4h-4zM648 300h5v4h-5zM223 296h5v4h-5zM218 287h10v5h-10zM255 287h5v5h-5zM269 287h4v5h-4zM200 283h5v4h-5zM612 283h4v4h-4zM630 283h5v4h-5zM255 279h5v4h-5zM607 279h5v4h-5zM607 275h5v4h-5zM630 275h5v4h-5zM232 271h5v4h-5zM250 271h5v4h-5zM241 263h5v4h-5zM223 259h14v4h-14zM635 259h4v4h-4zM228 255h4v4h-4zM241 239h5v4h-5zM260 239h4v4h-4zM241 234h5v5h-5zM273 234h5v5h-5zM241 230h9v4h-9zM228 226h4v4h-4zM598 210h5v4h-5zM598 202h5v4h-5zM630 202h5v4h-5zM237 194h4v4h-4zM630 194h5v4h-5zM648 190h5v4h-5zM598 182h5v4h-5zM607 182h5v4h-5zM264 129h5v4h-5zM603 104h4v4h-4zM616 76h5v4h-5z"/><path fill="#9fff60" d="M635 532h4v2h-4zM319 528h5v4h-5zM502 528h5v4h-5zM648 528h5v4h-5zM461 475h4v4h-4zM159 471h4v4h-4zM356 471h4v4h-4zM525 471h4v4h-4zM552 471h5v4h-5zM173 467h4v4h-4zM301 467h4v4h-4zM365 467h9v4h-9zM443 467h4v4h-4zM461 467h4v4h-4zM507 467h9v4h-9zM575 467h5v4h-5zM356 463h4v4h-4zM539 463h4v4h-4zM301 459h4v4h-4zM383 459h5v4h-5zM548 459h4v4h-4zM305 455h5v4h-5zM351 455h5v4h-5zM360 455h5v4h-5zM374 455h4v4h-4zM429 455h4v4h-4zM534 455h5v4h-5zM562 455h4v4h-4zM205 450h4v5h-4zM282 450h5v5h-5zM488 450h5v5h-5zM562 450h4v5h-4zM127 446h4v4h-4zM292 446h4v4h-4zM356 446h4v4h-4zM392 446h5v4h-5zM429 446h4v4h-4zM488 446h5v4h-5zM548 446h4v4h-4zM584 446h5v4h-5zM136 442h5v4h-5zM342 442h4v4h-4zM356 442h4v4h-4zM388 442h4v4h-4zM475 442h4v4h-4zM539 442h4v4h-4zM552 442h5v4h-5zM635 442h4v4h-4zM168 438h5v4h-5zM182 438h4v4h-4zM278 438h4v4h-4zM333 438h4v4h-4zM392 438h5v4h-5zM461 438h4v4h-4zM470 438h5v4h-5zM493 438h4v4h-4zM520 438h5v4h-5zM534 438h5v4h-5zM557 438h5v4h-5zM186 434h5v4h-5zM305 434h5v4h-5zM342 434h4v4h-4zM383 434h5v4h-5zM415 434h5v4h-5zM443 434h4v4h-4zM488 434h14v4h-14zM520 434h5v4h-5zM104 430h5v4h-5zM127 430h4v4h-4zM223 430h5v4h-5zM388 430h4v4h-4zM443 430h4v4h-4zM635 430h4v4h-4zM109 426h4v4h-4zM127 426h4v4h-4zM145 426h5v4h-5zM296 426h14v4h-14zM411 426h4v4h-4zM493 426h4v4h-4zM626 426h4v4h-4zM127 422h4v4h-4zM287 422h5v4h-5zM296 422h5v4h-5zM360 422h5v4h-5zM493 422h4v4h-4zM639 422h5v4h-5zM150 418h4v4h-4zM282 418h5v4h-5zM420 418h4v4h-4zM173 414h4v4h-4zM260 414h4v4h-4zM470 414h5v4h-5zM539 414h4v4h-4zM548 414h4v4h-4zM589 414h5v4h-5zM319 410h5v4h-5zM575 410h5v4h-5zM118 406h4v4h-4zM324 406h4v4h-4zM424 406h5v4h-5zM626 406h4v4h-4zM374 402h4v4h-4zM383 402h5v4h-5zM465 402h5v4h-5zM214 397h4v5h-4zM273 397h5v5h-5zM529 397h5v5h-5zM639 397h5v5h-5zM205 393h4v4h-4zM264 393h5v4h-5zM388 393h4v4h-4zM626 393h4v4h-4zM648 393h5v4h-5zM168 389h5v4h-5zM246 389h4v4h-4zM621 389h5v4h-5zM630 389h5v4h-5zM122 385h5v4h-5zM644 385h4v4h-4zM292 381h4v4h-4zM305 381h5v4h-5zM182 377h4v4h-4zM205 377h4v4h-4zM296 377h5v4h-5zM118 373h4v4h-4zM145 373h5v4h-5zM264 373h5v4h-5zM287 373h5v4h-5zM314 373h5v4h-5zM479 373h5v4h-5zM616 373h5v4h-5zM264 369h5v4h-5zM511 369h5v4h-5zM639 369h5v4h-5zM145 365h5v4h-5zM196 365h4v4h-4zM278 365h4v4h-4zM337 365h5v4h-5zM475 365h4v4h-4zM109 361h4v4h-4zM173 361h4v4h-4zM648 361h5v4h-5zM136 357h5v4h-5zM186 357h5v4h-5zM241 357h5v4h-5zM305 357h5v4h-5zM333 353h9v4h-9zM644 353h4v4h-4zM196 349h4v4h-4zM255 349h5v4h-5zM305 345h5v4h-5zM186 340h5v5h-5zM228 340h4v5h-4zM150 336h4v4h-4zM186 336h5v4h-5zM209 336h5v4h-5zM232 336h5v4h-5zM314 336h5v4h-5zM209 332h5v4h-5zM232 332h5v4h-5zM255 332h5v4h-5zM214 328h4v4h-4zM223 328h5v4h-5zM241 328h5v4h-5zM616 328h5v4h-5zM196 324h4v4h-4zM621 324h5v4h-5zM218 320h5v4h-5zM228 320h4v4h-4zM630 320h5v4h-5zM241 316h5v4h-5zM616 316h5v4h-5zM648 316h5v4h-5zM246 312h4v4h-4zM616 308h5v4h-5zM196 304h4v4h-4zM218 304h5v4h-5zM612 304h4v4h-4zM626 304h4v4h-4zM255 292h5v4h-5zM612 292h4v4h-4zM228 283h9v4h-9zM255 275h5v4h-5zM214 271h4v4h-4zM223 271h9v4h-9zM607 271h5v4h-5zM250 267h5v4h-5zM630 267h5v4h-5zM237 263h4v4h-4zM630 263h5v4h-5zM232 239h5v4h-5zM630 239h5v4h-5zM205 230h4v4h-4zM648 230h5v4h-5zM205 226h4v4h-4zM598 222h5v4h-5zM214 198h4v4h-4zM246 169h4v4h-4zM607 161h5v4h-5zM607 145h5v4h-5zM607 129h5v4h-5zM616 51h5v4h-5z"/><path fill="#afff50" d="M191 528h5v4h-5zM369 528h5v4h-5zM644 528h4v4h-4zM346 487h5v4h-5zM154 483h5v4h-5zM104 479h5v4h-5zM154 479h5v4h-5zM159 475h4v4h-4zM488 475h5v4h-5zM342 471h4v4h-4zM365 471h4v4h-4zM566 471h5v4h-5zM177 467h5v4h-5zM314 467h5v4h-5zM465 467h5v4h-5zM346 463h5v4h-5zM397 463h4v4h-4zM548 463h4v4h-4zM557 463h5v4h-5zM319 459h5v4h-5zM333 459h4v4h-4zM342 459h4v4h-4zM406 459h5v4h-5zM424 459h5v4h-5zM493 459h4v4h-4zM575 459h5v4h-5zM648 459h5v4h-5zM118 455h4v4h-4zM154 455h5v4h-5zM438 455h5v4h-5zM145 450h5v5h-5zM296 450h5v5h-5zM342 450h4v5h-4zM429 450h4v5h-4zM470 450h5v5h-5zM141 446h4v4h-4zM337 446h5v4h-5zM420 446h4v4h-4zM310 442h4v4h-4zM360 442h9v4h-9zM415 442h5v4h-5zM424 442h5v4h-5zM548 442h4v4h-4zM589 442h5v4h-5zM163 438h5v4h-5zM337 438h5v4h-5zM360 438h5v4h-5zM429 438h4v4h-4zM507 438h4v4h-4zM118 434h4v4h-4zM154 434h5v4h-5zM287 434h5v4h-5zM374 434h4v4h-4zM168 430h5v4h-5zM191 430h5v4h-5zM292 430h4v4h-4zM484 430h4v4h-4zM584 430h5v4h-5zM273 426h5v4h-5zM287 426h5v4h-5zM310 426h4v4h-4zM319 426h5v4h-5zM447 426h5v4h-5zM461 426h4v4h-4zM516 426h4v4h-4zM584 426h5v4h-5zM113 422h5v4h-5zM310 422h4v4h-4zM356 422h4v4h-4zM401 422h5v4h-5zM420 422h4v4h-4zM566 422h5v4h-5zM131 418h5v4h-5zM516 418h4v4h-4zM635 418h4v4h-4zM127 414h4v4h-4zM292 414h9v4h-9zM616 414h5v4h-5zM136 410h5v4h-5zM154 410h5v4h-5zM397 410h4v4h-4zM415 410h5v4h-5zM433 410h5v4h-5zM648 410h5v4h-5zM264 406h5v4h-5zM305 406h5v4h-5zM552 406h5v4h-5zM639 406h5v4h-5zM209 402h5v4h-5zM415 402h5v4h-5zM470 402h5v4h-5zM525 402h4v4h-4zM644 402h4v4h-4zM150 397h4v5h-4zM191 397h5v5h-5zM260 397h4v5h-4zM342 397h4v5h-4zM401 397h5v5h-5zM630 397h5v5h-5zM141 393h4v4h-4zM191 393h5v4h-5zM209 393h5v4h-5zM589 393h5v4h-5zM639 393h9v4h-9zM182 389h4v4h-4zM209 389h5v4h-5zM237 389h4v4h-4zM639 389h5v4h-5zM191 385h5v4h-5zM397 385h4v4h-4zM182 381h4v4h-4zM246 381h4v4h-4zM255 381h5v4h-5zM136 373h5v4h-5zM173 373h4v4h-4zM269 373h4v4h-4zM324 373h4v4h-4zM205 369h4v4h-4zM246 369h4v4h-4zM296 369h5v4h-5zM612 369h4v4h-4zM154 365h5v4h-5zM218 365h5v4h-5zM488 365h5v4h-5zM635 365h4v4h-4zM644 365h4v4h-4zM186 361h5v4h-5zM205 361h4v4h-4zM260 361h4v4h-4zM278 361h4v4h-4zM205 357h4v4h-4zM255 357h5v4h-5zM264 357h5v4h-5zM616 357h10v4h-10zM255 353h9v4h-9zM282 353h5v4h-5zM626 353h4v4h-4zM136 349h5v4h-5zM186 349h5v4h-5zM241 349h9v4h-9zM260 349h4v4h-4zM269 345h4v4h-4zM301 340h4v5h-4zM205 336h4v4h-4zM250 336h5v4h-5zM260 336h4v4h-4zM273 332h5v4h-5zM232 328h5v4h-5zM250 328h5v4h-5zM630 324h5v4h-5zM260 320h4v4h-4zM273 320h5v4h-5zM287 316h5v4h-5zM621 316h5v4h-5zM209 312h5v4h-5zM630 312h5v4h-5zM232 308h5v4h-5zM616 300h5v4h-5zM246 296h4v4h-4zM246 292h4v4h-4zM635 287h4v5h-4zM607 283h5v4h-5zM241 279h5v4h-5zM598 279h5v4h-5zM223 275h5v4h-5zM232 275h5v4h-5zM232 263h5v4h-5zM214 255h4v4h-4zM232 251h5v4h-5zM607 243h5v4h-5zM607 239h5v4h-5zM630 234h5v5h-5zM598 230h5v4h-5zM630 214h5v4h-5zM607 206h5v4h-5zM603 80h4v4h-4zM635 67h4v4h-4z"/><path fill="#bfff40" d="M292 528h4v4h-4zM520 528h5v4h-5zM630 528h5v4h-5zM122 524h5v4h-5zM122 483h5v4h-5zM475 483h4v4h-4zM342 475h4v4h-4zM447 475h5v4h-5zM525 475h4v4h-4zM548 475h4v4h-4zM122 471h5v4h-5zM131 471h5v4h-5zM145 471h5v4h-5zM488 471h5v4h-5zM557 471h5v4h-5zM104 467h5v4h-5zM182 467h4v4h-4zM360 467h5v4h-5zM141 463h4v4h-4zM314 463h5v4h-5zM520 463h5v4h-5zM566 463h5v4h-5zM173 459h4v4h-4zM310 459h4v4h-4zM365 459h4v4h-4zM443 459h4v4h-4zM182 455h4v4h-4zM301 455h4v4h-4zM310 455h4v4h-4zM337 455h5v4h-5zM580 455h4v4h-4zM104 450h5v5h-5zM127 450h9v5h-9zM154 450h5v5h-5zM182 450h4v5h-4zM218 450h5v5h-5zM337 450h5v5h-5zM374 450h4v5h-4zM571 450h4v5h-4zM580 450h4v5h-4zM145 446h5v4h-5zM296 446h5v4h-5zM324 446h4v4h-4zM539 446h4v4h-4zM626 446h4v4h-4zM109 442h4v4h-4zM159 442h14v4h-14zM507 442h4v4h-4zM525 442h4v4h-4zM580 442h4v4h-4zM141 438h4v4h-4zM177 438h5v4h-5zM397 438h4v4h-4zM406 438h5v4h-5zM109 434h4v4h-4zM173 434h4v4h-4zM182 434h4v4h-4zM328 434h5v4h-5zM337 434h5v4h-5zM438 434h5v4h-5zM479 434h5v4h-5zM543 434h5v4h-5zM557 434h5v4h-5zM296 430h5v4h-5zM529 430h5v4h-5zM552 430h5v4h-5zM589 430h5v4h-5zM626 430h4v4h-4zM104 426h5v4h-5zM136 426h5v4h-5zM177 426h5v4h-5zM324 426h4v4h-4zM424 426h5v4h-5zM648 426h5v4h-5zM136 422h5v4h-5zM154 422h5v4h-5zM186 422h5v4h-5zM282 422h5v4h-5zM301 422h4v4h-4zM314 422h5v4h-5zM342 422h4v4h-4zM383 422h5v4h-5zM452 422h4v4h-4zM511 422h5v4h-5zM548 422h4v4h-4zM273 418h5v4h-5zM314 418h5v4h-5zM324 418h4v4h-4zM511 418h5v4h-5zM566 418h5v4h-5zM113 414h5v4h-5zM154 414h5v4h-5zM168 414h5v4h-5zM273 414h5v4h-5zM310 414h4v4h-4zM452 414h4v4h-4zM552 414h5v4h-5zM594 414h4v4h-4zM168 410h5v4h-5zM260 410h4v4h-4zM392 410h5v4h-5zM626 410h4v4h-4zM104 406h5v4h-5zM287 406h5v4h-5zM470 406h5v4h-5zM589 406h5v4h-5zM214 402h4v4h-4zM250 402h5v4h-5zM438 402h5v4h-5zM461 402h4v4h-4zM516 402h4v4h-4zM648 402h5v4h-5zM246 397h4v5h-4zM287 397h5v5h-5zM196 393h4v4h-4zM273 393h5v4h-5zM273 389h5v4h-5zM305 389h5v4h-5zM616 389h5v4h-5zM273 385h5v4h-5zM287 385h9v4h-9zM305 385h5v4h-5zM461 385h4v4h-4zM630 385h5v4h-5zM136 381h5v4h-5zM173 381h4v4h-4zM237 381h4v4h-4zM136 377h5v4h-5zM196 377h4v4h-4zM269 377h4v4h-4zM109 373h4v4h-4zM260 373h4v4h-4zM612 373h4v4h-4zM136 365h5v4h-5zM292 365h4v4h-4zM209 361h5v4h-5zM305 361h5v4h-5zM337 361h5v4h-5zM214 357h4v4h-4zM250 357h5v4h-5zM186 353h5v4h-5zM598 353h5v4h-5zM612 353h4v4h-4zM173 349h4v4h-4zM630 345h5v4h-5zM260 340h4v5h-4zM465 340h5v5h-5zM182 336h4v4h-4zM648 336h5v4h-5zM287 332h5v4h-5zM273 328h5v4h-5zM612 328h4v4h-4zM269 324h4v4h-4zM223 320h5v4h-5zM598 320h5v4h-5zM218 316h5v4h-5zM598 316h5v4h-5zM269 312h4v4h-4zM616 312h5v4h-5zM269 300h4v4h-4zM228 296h4v4h-4zM273 296h5v4h-5zM250 292h5v4h-5zM273 287h5v5h-5zM612 287h4v5h-4zM626 287h4v5h-4zM630 279h5v4h-5zM223 267h5v4h-5zM607 267h5v4h-5zM255 259h5v4h-5zM232 255h5v4h-5zM273 255h5v4h-5zM630 243h5v4h-5zM246 222h4v4h-4zM612 214h4v4h-4zM607 198h5v4h-5zM598 190h5v4h-5zM598 186h5v4h-5zM607 186h5v4h-5zM228 182h4v4h-4zM607 177h5v5h-5zM607 169h5v4h-5zM603 133h4v4h-4z"/><path fill="#cfff30" d="M122 495h5v4h-5zM548 487h4v4h-4zM131 483h5v4h-5zM159 483h4v4h-4zM333 483h4v4h-4zM557 483h5v4h-5zM109 479h4v4h-4zM118 479h4v4h-4zM141 479h4v4h-4zM296 479h5v4h-5zM360 479h5v4h-5zM131 475h5v4h-5zM154 475h5v4h-5zM301 475h9v4h-9zM383 475h5v4h-5zM141 471h4v4h-4zM296 471h5v4h-5zM324 471h4v4h-4zM333 471h4v4h-4zM511 471h5v4h-5zM584 471h5v4h-5zM159 467h4v4h-4zM479 467h5v4h-5zM493 467h4v4h-4zM534 467h5v4h-5zM557 467h5v4h-5zM109 463h4v4h-4zM131 463h5v4h-5zM319 463h5v4h-5zM328 463h5v4h-5zM365 463h4v4h-4zM461 463h4v4h-4zM109 459h4v4h-4zM127 459h4v4h-4zM163 459h5v4h-5zM305 459h5v4h-5zM346 459h10v4h-10zM388 459h4v4h-4zM397 459h4v4h-4zM429 459h4v4h-4zM497 459h5v4h-5zM562 459h4v4h-4zM136 455h5v4h-5zM177 455h5v4h-5zM260 455h4v4h-4zM328 455h5v4h-5zM388 455h4v4h-4zM406 455h5v4h-5zM520 455h5v4h-5zM548 455h4v4h-4zM168 450h5v5h-5zM292 450h4v5h-4zM319 450h5v5h-5zM328 450h5v5h-5zM397 450h9v5h-9zM438 450h5v5h-5zM447 450h5v5h-5zM520 450h5v5h-5zM575 450h5v5h-5zM196 446h4v4h-4zM282 446h5v4h-5zM383 446h5v4h-5zM438 446h9v4h-9zM479 446h5v4h-5zM113 442h5v4h-5zM127 442h4v4h-4zM543 442h5v4h-5zM136 438h5v4h-5zM196 438h4v4h-4zM292 438h4v4h-4zM314 438h5v4h-5zM411 438h4v4h-4zM438 438h9v4h-9zM543 438h5v4h-5zM635 438h4v4h-4zM644 438h4v4h-4zM200 434h5v4h-5zM392 434h5v4h-5zM566 434h5v4h-5zM630 434h5v4h-5zM141 430h4v4h-4zM260 430h4v4h-4zM163 426h10v4h-10zM186 426h5v4h-5zM337 426h5v4h-5zM630 426h5v4h-5zM209 422h5v4h-5zM447 422h5v4h-5zM516 422h4v4h-4zM260 418h4v4h-4zM411 418h9v4h-9zM163 414h5v4h-5zM232 414h5v4h-5zM264 414h5v4h-5zM479 414h5v4h-5zM150 410h4v4h-4zM287 410h5v4h-5zM594 410h4v4h-4zM616 410h10v4h-10zM113 406h5v4h-5zM168 406h5v4h-5zM200 406h9v4h-9zM214 406h4v4h-4zM488 406h5v4h-5zM594 406h4v4h-4zM648 406h5v4h-5zM173 402h4v4h-4zM310 402h4v4h-4zM420 402h4v4h-4zM182 397h4v5h-4zM626 397h4v5h-4zM136 393h5v4h-5zM250 393h5v4h-5zM113 389h5v4h-5zM127 389h4v4h-4zM479 389h5v4h-5zM594 389h4v4h-4zM173 385h9v4h-9zM621 385h5v4h-5zM131 381h5v4h-5zM141 381h4v4h-4zM205 381h4v4h-4zM616 381h5v4h-5zM644 381h4v4h-4zM218 377h10v4h-10zM246 377h4v4h-4zM278 377h4v4h-4zM200 373h5v4h-5zM255 373h5v4h-5zM644 373h4v4h-4zM209 369h5v4h-5zM616 369h10v4h-10zM305 365h5v4h-5zM626 365h4v4h-4zM273 361h5v4h-5zM616 361h10v4h-10zM260 357h4v4h-4zM150 349h4v4h-4zM209 349h9v4h-9zM214 336h4v4h-4zM237 336h4v4h-4zM223 332h5v4h-5zM612 324h9v4h-9zM648 324h5v4h-5zM232 316h5v4h-5zM255 312h5v4h-5zM612 312h4v4h-4zM598 308h5v4h-5zM598 304h5v4h-5zM228 300h4v4h-4zM607 296h5v4h-5zM241 287h5v5h-5zM218 279h5v4h-5zM228 275h4v4h-4zM241 271h5v4h-5zM607 251h5v4h-5zM607 230h5v4h-5zM607 202h5v4h-5zM616 161h5v4h-5zM603 108h4v4h-4zM603 84h4v4h-4z"/><path fill="#dfff20" d="M635 528h4v4h-4zM493 483h4v4h-4zM525 483h4v4h-4zM562 483h4v4h-4zM580 483h4v4h-4zM145 479h5v4h-5zM575 479h5v4h-5zM109 475h4v4h-4zM122 475h5v4h-5zM145 475h5v4h-5zM356 475h4v4h-4zM516 475h4v4h-4zM109 471h4v4h-4zM305 471h5v4h-5zM520 471h5v4h-5zM562 471h4v4h-4zM145 467h5v4h-5zM333 467h4v4h-4zM420 467h4v4h-4zM438 467h5v4h-5zM539 467h4v4h-4zM145 463h5v4h-5zM337 463h5v4h-5zM415 463h5v4h-5zM438 463h5v4h-5zM470 463h5v4h-5zM630 463h5v4h-5zM136 459h9v4h-9zM159 459h4v4h-4zM296 459h5v4h-5zM369 459h5v4h-5zM392 459h5v4h-5zM502 459h5v4h-5zM516 459h9v4h-9zM557 459h5v4h-5zM566 459h5v4h-5zM104 455h5v4h-5zM127 455h4v4h-4zM539 455h4v4h-4zM186 450h5v5h-5zM388 450h4v5h-4zM406 450h5v5h-5zM502 450h5v5h-5zM511 450h5v5h-5zM543 450h9v5h-9zM260 446h4v4h-4zM333 446h4v4h-4zM433 446h5v4h-5zM493 446h4v4h-4zM516 446h4v4h-4zM529 446h5v4h-5zM571 446h4v4h-4zM145 442h5v4h-5zM177 442h5v4h-5zM218 442h5v4h-5zM287 442h5v4h-5zM319 442h5v4h-5zM401 442h5v4h-5zM447 442h5v4h-5zM566 442h5v4h-5zM150 438h4v4h-4zM232 438h5v4h-5zM305 438h5v4h-5zM415 438h5v4h-5zM447 438h5v4h-5zM562 438h4v4h-4zM589 438h5v4h-5zM639 438h5v4h-5zM401 434h5v4h-5zM648 434h5v4h-5zM109 430h4v4h-4zM196 430h4v4h-4zM232 430h5v4h-5zM287 430h5v4h-5zM397 430h4v4h-4zM447 430h5v4h-5zM575 430h5v4h-5zM621 430h5v4h-5zM470 426h5v4h-5zM543 426h5v4h-5zM566 426h5v4h-5zM635 426h9v4h-9zM182 422h4v4h-4zM264 422h5v4h-5zM278 422h4v4h-4zM136 418h5v4h-5zM163 418h5v4h-5zM246 418h4v4h-4zM571 418h4v4h-4zM182 414h4v4h-4zM191 414h5v4h-5zM278 414h4v4h-4zM324 414h4v4h-4zM196 410h4v4h-4zM209 410h5v4h-5zM250 410h5v4h-5zM131 406h5v4h-5zM301 406h4v4h-4zM461 406h4v4h-4zM104 402h5v4h-5zM168 402h5v4h-5zM241 402h5v4h-5zM269 402h4v4h-4zM209 397h5v5h-5zM269 397h4v5h-4zM278 393h4v4h-4zM324 393h4v4h-4zM104 389h5v4h-5zM241 389h5v4h-5zM287 389h5v4h-5zM635 389h4v4h-4zM209 385h5v4h-5zM278 385h4v4h-4zM186 381h5v4h-5zM612 381h4v4h-4zM200 377h5v4h-5zM168 373h5v4h-5zM205 373h4v4h-4zM648 369h5v4h-5zM273 365h5v4h-5zM214 361h4v4h-4zM232 361h5v4h-5zM250 361h5v4h-5zM598 361h5v4h-5zM264 353h5v4h-5zM205 349h4v4h-4zM635 349h4v4h-4zM241 345h5v4h-5zM648 345h5v4h-5zM616 332h5v4h-5zM218 328h5v4h-5zM223 324h5v4h-5zM305 324h5v4h-5zM228 316h4v4h-4zM246 316h4v4h-4zM241 312h5v4h-5zM269 308h4v4h-4zM255 296h5v4h-5zM612 296h4v4h-4zM223 292h5v4h-5zM607 292h5v4h-5zM598 275h5v4h-5zM232 267h5v4h-5zM209 263h5v4h-5zM598 234h5v5h-5zM607 190h5v4h-5zM603 141h4v4h-4zM607 133h5v4h-5z"/><path fill="#efff10" d="M420 528h4v4h-4zM452 528h4v4h-4zM241 524h5v4h-5zM575 499h5v4h-5zM122 491h5v4h-5zM150 487h4v4h-4zM566 487h5v4h-5zM360 483h5v4h-5zM516 483h4v4h-4zM319 479h5v4h-5zM420 479h4v4h-4zM443 479h4v4h-4zM543 479h5v4h-5zM127 475h4v4h-4zM319 475h5v4h-5zM429 475h4v4h-4zM438 475h5v4h-5zM511 475h5v4h-5zM118 471h4v4h-4zM328 471h5v4h-5zM346 471h5v4h-5zM383 471h5v4h-5zM452 471h9v4h-9zM571 471h4v4h-4zM328 467h5v4h-5zM429 467h4v4h-4zM452 467h4v4h-4zM475 467h4v4h-4zM163 463h5v4h-5zM388 463h4v4h-4zM406 463h5v4h-5zM543 463h5v4h-5zM562 463h4v4h-4zM575 463h5v4h-5zM584 463h5v4h-5zM401 459h5v4h-5zM484 459h4v4h-4zM534 459h9v4h-9zM287 455h5v4h-5zM342 455h4v4h-4zM502 455h5v4h-5zM584 455h5v4h-5zM310 450h4v5h-4zM484 450h4v5h-4zM529 450h5v5h-5zM566 450h5v5h-5zM635 450h4v5h-4zM163 446h5v4h-5zM232 446h5v4h-5zM310 446h4v4h-4zM365 446h4v4h-4zM566 446h5v4h-5zM205 442h4v4h-4zM557 442h5v4h-5zM118 438h4v4h-4zM529 438h5v4h-5zM539 438h4v4h-4zM566 438h5v4h-5zM122 434h5v4h-5zM136 434h5v4h-5zM292 434h4v4h-4zM575 434h5v4h-5zM136 430h5v4h-5zM644 430h4v4h-4zM246 426h4v4h-4zM278 426h4v4h-4zM571 426h4v4h-4zM163 422h5v4h-5zM337 422h5v4h-5zM470 422h5v4h-5zM635 422h4v4h-4zM644 422h4v4h-4zM438 418h5v4h-5zM589 418h5v4h-5zM616 418h5v4h-5zM621 414h5v4h-5zM264 410h5v4h-5zM337 410h5v4h-5zM447 410h5v4h-5zM223 406h5v4h-5zM250 406h5v4h-5zM342 406h4v4h-4zM621 402h5v4h-5zM205 397h4v5h-4zM465 397h5v5h-5zM616 397h5v5h-5zM246 393h4v4h-4zM260 393h4v4h-4zM630 393h5v4h-5zM269 389h4v4h-4zM205 385h4v4h-4zM214 385h4v4h-4zM255 385h5v4h-5zM324 385h4v4h-4zM232 381h5v4h-5zM255 377h5v4h-5zM182 373h4v4h-4zM214 373h4v4h-4zM278 373h4v4h-4zM648 373h5v4h-5zM173 369h4v4h-4zM218 369h5v4h-5zM214 365h4v4h-4zM264 365h5v4h-5zM237 361h4v4h-4zM109 353h4v4h-4zM173 353h4v4h-4zM250 353h5v4h-5zM237 349h4v4h-4zM186 345h5v4h-5zM621 345h5v4h-5zM237 340h4v5h-4zM223 336h5v4h-5zM630 336h5v4h-5zM237 332h4v4h-4zM305 332h5v4h-5zM635 332h4v4h-4zM648 328h5v4h-5zM232 324h5v4h-5zM607 324h5v4h-5zM241 320h5v4h-5zM232 300h5v4h-5zM598 296h5v4h-5zM232 292h5v4h-5zM598 255h5v4h-5zM598 251h5v4h-5zM607 247h5v4h-5zM598 239h5v4h-5zM630 218h5v4h-5zM607 210h5v4h-5zM607 157h5v4h-5zM603 137h4v4h-4zM603 116h4v4h-4zM603 92h4v4h-4zM603 88h4v4h-4z"/><path fill="#ffff00" d="M237 528h4v4h-4zM278 524h4v4h-4zM452 524h4v4h-4zM145 495h5v4h-5zM296 495h5v4h-5zM131 491h5v4h-5zM319 483h5v4h-5zM502 483h5v4h-5zM534 483h5v4h-5zM548 483h4v4h-4zM177 479h5v4h-5zM314 479h5v4h-5zM328 479h9v4h-9zM548 479h4v4h-4zM136 475h5v4h-5zM328 475h5v4h-5zM456 475h5v4h-5zM543 475h5v4h-5zM557 475h5v4h-5zM566 475h5v4h-5zM648 475h5v4h-5zM154 471h5v4h-5zM314 471h5v4h-5zM406 471h5v4h-5zM461 471h4v4h-4zM475 471h4v4h-4zM109 467h4v4h-4zM131 467h5v4h-5zM282 467h5v4h-5zM296 467h5v4h-5zM305 467h5v4h-5zM406 467h5v4h-5zM543 467h5v4h-5zM282 463h5v4h-5zM301 463h4v4h-4zM383 463h5v4h-5zM420 463h13v4h-13zM497 463h5v4h-5zM648 463h5v4h-5zM186 459h5v4h-5zM360 459h5v4h-5zM374 459h4v4h-4zM470 459h9v4h-9zM552 459h5v4h-5zM163 455h5v4h-5zM214 455h4v4h-4zM378 455h5v4h-5zM411 455h4v4h-4zM552 455h5v4h-5zM566 455h5v4h-5zM392 450h5v5h-5zM557 450h5v5h-5zM584 450h5v5h-5zM109 446h4v4h-4zM118 446h4v4h-4zM301 446h4v4h-4zM502 446h5v4h-5zM118 442h4v4h-4zM296 442h5v4h-5zM378 442h5v4h-5zM502 442h5v4h-5zM529 442h5v4h-5zM644 442h4v4h-4zM282 438h5v4h-5zM310 438h4v4h-4zM420 438h4v4h-4zM575 438h5v4h-5zM223 434h5v4h-5zM626 434h4v4h-4zM639 434h5v4h-5zM237 430h4v4h-4zM264 430h5v4h-5zM310 430h4v4h-4zM324 430h4v4h-4zM438 430h5v4h-5zM566 430h5v4h-5zM616 426h5v4h-5zM168 422h5v4h-5zM191 422h5v4h-5zM232 422h5v4h-5zM621 422h5v4h-5zM168 418h5v4h-5zM191 418h5v4h-5zM205 418h4v4h-4zM630 418h5v4h-5zM639 418h5v4h-5zM223 414h5v4h-5zM639 414h5v4h-5zM232 410h5v4h-5zM182 406h4v4h-4zM191 406h5v4h-5zM273 406h5v4h-5zM223 402h5v4h-5zM260 402h4v4h-4zM616 402h5v4h-5zM241 397h5v5h-5zM250 397h5v5h-5zM104 393h5v4h-5zM401 393h5v4h-5zM278 389h4v4h-4zM218 385h5v4h-5zM260 385h4v4h-4zM250 381h5v4h-5zM214 377h4v4h-4zM648 377h5v4h-5zM241 373h5v4h-5zM173 365h4v4h-4zM182 365h4v4h-4zM269 365h4v4h-4zM635 357h4v4h-4zM205 353h4v4h-4zM616 349h5v4h-5zM223 345h5v4h-5zM237 345h4v4h-4zM648 340h5v5h-5zM241 336h5v4h-5zM305 336h5v4h-5zM269 332h4v4h-4zM598 332h5v4h-5zM607 320h5v4h-5zM603 316h9v4h-9zM228 312h4v4h-4zM228 304h4v4h-4zM241 304h5v4h-5zM607 300h5v4h-5zM218 296h5v4h-5zM630 296h5v4h-5zM630 271h5v4h-5zM603 222h4v4h-4zM603 202h4v4h-4zM607 153h5v4h-5zM603 129h4v4h-4zM603 96h4v4h-4zM603 76h4v4h-4zM603 67h4v4h-4zM603 55h4v4h-4z"/><path fill="#ffef00" d="M612 532h4v2h-4zM260 524h4v4h-4zM401 524h5v4h-5zM534 524h5v4h-5zM557 524h5v4h-5zM109 495h4v4h-4zM127 491h4v4h-4zM507 491h4v4h-4zM543 491h5v4h-5zM131 487h5v4h-5zM145 487h5v4h-5zM328 487h5v4h-5zM118 483h4v4h-4zM182 483h4v4h-4zM346 483h5v4h-5zM369 483h5v4h-5zM507 483h4v4h-4zM575 483h5v4h-5zM461 479h4v4h-4zM475 479h4v4h-4zM493 479h4v4h-4zM562 479h4v4h-4zM584 479h5v4h-5zM104 475h5v4h-5zM168 475h5v4h-5zM282 475h5v4h-5zM310 475h4v4h-4zM333 475h4v4h-4zM406 475h5v4h-5zM420 475h9v4h-9zM507 475h4v4h-4zM113 471h5v4h-5zM173 471h4v4h-4zM433 471h5v4h-5zM507 471h4v4h-4zM118 467h4v4h-4zM191 467h5v4h-5zM287 467h5v4h-5zM324 467h4v4h-4zM397 467h4v4h-4zM548 467h4v4h-4zM562 467h4v4h-4zM104 463h5v4h-5zM150 463h4v4h-4zM168 463h9v4h-9zM191 463h5v4h-5zM287 463h5v4h-5zM433 463h5v4h-5zM493 463h4v4h-4zM511 463h5v4h-5zM145 459h5v4h-5zM177 459h9v4h-9zM232 459h5v4h-5zM314 459h5v4h-5zM337 459h5v4h-5zM447 459h5v4h-5zM580 459h4v4h-4zM589 459h5v4h-5zM196 455h4v4h-4zM205 455h4v4h-4zM392 455h5v4h-5zM484 455h9v4h-9zM529 455h5v4h-5zM571 455h4v4h-4zM630 455h5v4h-5zM639 455h5v4h-5zM136 450h5v5h-5zM163 450h5v5h-5zM191 450h5v5h-5zM232 450h5v5h-5zM424 450h5v5h-5zM136 446h5v4h-5zM182 446h4v4h-4zM218 446h5v4h-5zM328 446h5v4h-5zM342 446h4v4h-4zM401 446h5v4h-5zM456 446h5v4h-5zM141 442h4v4h-4zM173 442h4v4h-4zM278 442h9v4h-9zM411 442h4v4h-4zM438 442h5v4h-5zM571 442h4v4h-4zM260 438h4v4h-4zM287 438h5v4h-5zM378 438h5v4h-5zM232 434h5v4h-5zM378 434h5v4h-5zM420 434h4v4h-4zM145 430h5v4h-5zM173 430h4v4h-4zM278 430h4v4h-4zM209 426h5v4h-5zM255 426h5v4h-5zM438 426h5v4h-5zM196 422h4v4h-4zM324 422h4v4h-4zM589 422h5v4h-5zM648 422h5v4h-5zM214 418h4v4h-4zM594 418h4v4h-4zM246 414h4v4h-4zM630 414h5v4h-5zM241 410h5v4h-5zM278 410h4v4h-4zM209 406h5v4h-5zM246 406h4v4h-4zM630 406h5v4h-5zM182 402h4v4h-4zM196 402h4v4h-4zM200 397h5v5h-5zM479 397h5v5h-5zM214 393h4v4h-4zM621 393h5v4h-5zM232 389h5v4h-5zM260 389h4v4h-4zM644 389h4v4h-4zM616 385h5v4h-5zM223 381h5v4h-5zM241 381h5v4h-5zM269 381h4v4h-4zM237 377h4v4h-4zM260 377h4v4h-4zM250 373h5v4h-5zM250 369h5v4h-5zM232 365h5v4h-5zM616 365h5v4h-5zM182 361h4v4h-4zM598 349h5v4h-5zM209 340h5v5h-5zM616 336h5v4h-5zM648 332h5v4h-5zM607 328h5v4h-5zM209 316h5v4h-5zM612 316h4v4h-4zM255 308h5v4h-5zM612 308h4v4h-4zM603 304h4v4h-4zM255 300h5v4h-5zM598 283h5v4h-5zM603 271h4v4h-4zM603 149h4v4h-4zM603 124h4v5h-4zM603 100h4v4h-4zM603 51h4v4h-4z"/><path fill="#ffdf00" d="M598 532h5v2h-5zM447 528h5v4h-5zM246 524h4v4h-4zM475 524h4v4h-4zM552 524h5v4h-5zM566 499h5v4h-5zM182 487h4v4h-4zM296 487h5v4h-5zM493 487h4v4h-4zM529 487h5v4h-5zM113 483h5v4h-5zM186 483h5v4h-5zM301 483h4v4h-4zM122 479h5v4h-5zM346 479h5v4h-5zM479 479h5v4h-5zM488 479h5v4h-5zM511 479h5v4h-5zM150 475h4v4h-4zM205 475h4v4h-4zM401 475h5v4h-5zM484 475h4v4h-4zM539 475h4v4h-4zM562 475h4v4h-4zM584 475h5v4h-5zM205 471h4v4h-4zM292 471h4v4h-4zM401 471h5v4h-5zM420 471h4v4h-4zM429 471h4v4h-4zM484 471h4v4h-4zM580 471h4v4h-4zM648 471h5v4h-5zM639 467h5v4h-5zM127 463h4v4h-4zM369 463h5v4h-5zM447 463h5v4h-5zM516 463h4v4h-4zM131 459h5v4h-5zM196 459h9v4h-9zM260 459h4v4h-4zM287 459h5v4h-5zM141 455h4v4h-4zM273 455h5v4h-5zM447 455h9v4h-9zM465 455h5v4h-5zM479 455h5v4h-5zM420 450h4v5h-4zM493 450h4v5h-4zM516 450h4v5h-4zM411 446h4v4h-4zM589 446h5v4h-5zM131 442h5v4h-5zM182 442h4v4h-4zM191 442h5v4h-5zM264 442h5v4h-5zM392 442h5v4h-5zM420 442h4v4h-4zM209 438h5v4h-5zM218 438h5v4h-5zM630 438h5v4h-5zM260 434h4v4h-4zM644 434h4v4h-4zM200 430h5v4h-5zM420 430h4v4h-4zM648 430h5v4h-5zM182 426h4v4h-4zM214 426h4v4h-4zM612 426h4v4h-4zM269 422h9v4h-9zM438 422h5v4h-5zM616 422h5v4h-5zM269 418h4v4h-4zM479 418h5v4h-5zM237 414h4v4h-4zM612 414h4v4h-4zM644 414h4v4h-4zM246 410h4v4h-4zM200 402h5v4h-5zM273 402h5v4h-5zM241 393h5v4h-5zM287 393h5v4h-5zM616 393h5v4h-5zM191 389h5v4h-5zM205 389h4v4h-4zM218 389h5v4h-5zM250 389h5v4h-5zM250 385h5v4h-5zM612 377h4v4h-4zM182 369h4v4h-4zM223 369h5v4h-5zM621 365h5v4h-5zM218 357h5v4h-5zM232 357h5v4h-5zM273 357h5v4h-5zM616 345h5v4h-5zM269 340h4v5h-4zM228 332h4v4h-4zM598 328h5v4h-5zM237 324h4v4h-4zM598 312h5v4h-5zM607 308h5v4h-5zM598 287h5v5h-5zM598 243h5v4h-5zM607 214h5v4h-5zM603 198h4v4h-4z"/><path fill="#ffcf00" d="M136 524h5v4h-5zM163 524h5v4h-5zM191 524h5v4h-5zM287 524h5v4h-5zM310 524h4v4h-4zM365 524h4v4h-4zM374 524h4v4h-4zM420 524h4v4h-4zM438 524h5v4h-5zM465 524h5v4h-5zM493 524h4v4h-4zM520 524h5v4h-5zM314 495h5v4h-5zM159 491h4v4h-4zM356 491h4v4h-4zM470 491h5v4h-5zM566 491h5v4h-5zM113 487h5v4h-5zM305 487h5v4h-5zM475 487h4v4h-4zM557 487h9v4h-9zM109 483h4v4h-4zM141 483h4v4h-4zM305 483h5v4h-5zM328 483h5v4h-5zM342 483h4v4h-4zM356 483h4v4h-4zM397 483h4v4h-4zM552 483h5v4h-5zM127 479h4v4h-4zM351 479h5v4h-5zM113 475h5v4h-5zM502 475h5v4h-5zM580 475h4v4h-4zM287 471h5v4h-5zM310 471h4v4h-4zM351 471h5v4h-5zM369 471h5v4h-5zM502 471h5v4h-5zM539 471h9v4h-9zM575 471h5v4h-5zM127 467h4v4h-4zM168 467h5v4h-5zM255 467h5v4h-5zM447 467h5v4h-5zM516 467h4v4h-4zM525 467h4v4h-4zM584 467h5v4h-5zM635 467h4v4h-4zM136 463h5v4h-5zM182 463h9v4h-9zM452 463h4v4h-4zM488 463h5v4h-5zM278 459h4v4h-4zM438 459h5v4h-5zM452 459h4v4h-4zM488 459h5v4h-5zM584 459h5v4h-5zM282 455h5v4h-5zM401 455h5v4h-5zM415 455h5v4h-5zM443 455h4v4h-4zM177 450h5v5h-5zM287 450h5v5h-5zM552 450h5v5h-5zM621 450h5v5h-5zM644 450h4v5h-4zM209 446h5v4h-5zM287 446h5v4h-5zM186 442h5v4h-5zM131 438h5v4h-5zM191 438h5v4h-5zM250 438h5v4h-5zM269 438h4v4h-4zM616 438h5v4h-5zM648 438h5v4h-5zM191 434h5v4h-5zM411 434h4v4h-4zM273 430h5v4h-5zM223 426h5v4h-5zM264 426h5v4h-5zM118 422h4v4h-4zM246 422h4v4h-4zM612 422h4v4h-4zM182 418h4v4h-4zM200 418h5v4h-5zM223 418h5v4h-5zM250 418h5v4h-5zM264 418h5v4h-5zM228 414h4v4h-4zM269 414h4v4h-4zM223 410h5v4h-5zM639 410h5v4h-5zM237 406h4v4h-4zM612 406h4v4h-4zM644 406h4v4h-4zM191 402h5v4h-5zM218 402h5v4h-5zM246 402h4v4h-4zM264 402h5v4h-5zM630 402h5v4h-5zM196 397h4v5h-4zM232 397h9v5h-9zM200 393h5v4h-5zM237 393h4v4h-4zM255 393h5v4h-5zM214 389h4v4h-4zM612 389h4v4h-4zM200 385h5v4h-5zM612 385h4v4h-4zM209 381h5v4h-5zM621 381h5v4h-5zM218 373h5v4h-5zM232 373h5v4h-5zM621 373h5v4h-5zM237 369h9v4h-9zM223 365h5v4h-5zM218 361h5v4h-5zM228 353h4v4h-4zM250 340h5v5h-5zM218 336h5v4h-5zM228 336h4v4h-4zM607 312h5v4h-5zM218 308h5v4h-5zM603 300h4v4h-4zM603 283h4v4h-4zM603 239h4v4h-4zM598 226h5v4h-5zM607 222h5v4h-5zM607 218h5v4h-5zM603 210h4v4h-4zM603 145h4v4h-4zM603 120h4v4h-4zM603 71h4v5h-4zM603 63h4v4h-4zM603 59h4v4h-4zM603 47h4v4h-4z"/><path fill="#ffbf00" d="M639 528h5v4h-5zM118 524h4v4h-4zM200 524h5v4h-5zM269 524h4v4h-4zM342 524h4v4h-4zM644 524h4v4h-4zM557 499h5v4h-5zM328 495h5v4h-5zM109 491h4v4h-4zM118 491h4v4h-4zM154 491h5v4h-5zM163 491h5v4h-5zM319 491h5v4h-5zM360 491h5v4h-5zM516 491h4v4h-4zM109 487h4v4h-4zM118 487h4v4h-4zM264 487h5v4h-5zM333 487h4v4h-4zM534 487h5v4h-5zM543 487h5v4h-5zM584 487h5v4h-5zM104 483h5v4h-5zM287 483h5v4h-5zM461 483h4v4h-4zM150 479h4v4h-4zM438 479h5v4h-5zM456 479h5v4h-5zM191 475h5v4h-5zM296 475h5v4h-5zM365 475h4v4h-4zM443 475h4v4h-4zM452 475h4v4h-4zM479 475h5v4h-5zM552 475h5v4h-5zM182 471h4v4h-4zM374 471h4v4h-4zM424 471h5v4h-5zM443 471h9v4h-9zM516 471h4v4h-4zM278 467h4v4h-4zM292 467h4v4h-4zM401 467h5v4h-5zM470 467h5v4h-5zM552 467h5v4h-5zM205 463h9v4h-9zM218 463h5v4h-5zM324 463h4v4h-4zM191 459h5v4h-5zM282 459h5v4h-5zM456 459h5v4h-5zM465 459h5v4h-5zM639 459h5v4h-5zM278 455h4v4h-4zM296 455h5v4h-5zM511 455h5v4h-5zM589 455h5v4h-5zM260 450h4v5h-4zM639 450h5v5h-5zM191 446h5v4h-5zM205 446h4v4h-4zM264 446h5v4h-5zM378 446h5v4h-5zM584 442h5v4h-5zM205 438h4v4h-4zM145 434h5v4h-5zM246 430h4v4h-4zM200 426h5v4h-5zM644 426h4v4h-4zM200 422h5v4h-5zM205 414h9v4h-9zM200 410h5v4h-5zM255 406h9v4h-9zM621 406h5v4h-5zM232 402h5v4h-5zM607 397h5v5h-5zM644 397h4v5h-4zM218 393h5v4h-5zM255 389h5v4h-5zM241 385h5v4h-5zM607 377h5v4h-5zM273 373h5v4h-5zM260 369h4v4h-4zM209 365h5v4h-5zM228 361h4v4h-4zM241 361h5v4h-5zM214 353h4v4h-4zM607 353h5v4h-5zM648 353h5v4h-5zM223 349h5v4h-5zM598 345h5v4h-5zM305 340h5v5h-5zM305 328h5v4h-5zM612 320h4v4h-4zM305 316h5v4h-5zM603 312h4v4h-4zM603 308h4v4h-4zM607 287h5v5h-5zM598 259h5v4h-5zM607 234h5v5h-5zM603 230h4v4h-4zM603 186h4v4h-4z"/><path fill="#ffaf00" d="M273 524h5v4h-5zM502 524h5v4h-5zM525 524h4v4h-4zM168 499h5v4h-5zM488 499h5v4h-5zM566 495h5v4h-5zM575 495h5v4h-5zM548 491h4v4h-4zM154 487h5v4h-5zM292 487h4v4h-4zM447 487h5v4h-5zM488 487h5v4h-5zM525 487h4v4h-4zM575 487h5v4h-5zM127 483h4v4h-4zM145 483h5v4h-5zM163 483h5v4h-5zM173 483h4v4h-4zM452 483h4v4h-4zM511 483h5v4h-5zM520 483h5v4h-5zM209 479h5v4h-5zM264 479h5v4h-5zM305 479h5v4h-5zM415 479h5v4h-5zM507 479h4v4h-4zM516 479h4v4h-4zM571 479h4v4h-4zM182 475h9v4h-9zM369 475h5v4h-5zM470 475h5v4h-5zM493 475h4v4h-4zM150 471h4v4h-4zM177 471h5v4h-5zM191 471h5v4h-5zM269 471h4v4h-4zM278 471h4v4h-4zM301 471h4v4h-4zM388 471h4v4h-4zM415 471h5v4h-5zM438 471h5v4h-5zM493 471h4v4h-4zM529 471h5v4h-5zM150 467h4v4h-4zM200 467h5v4h-5zM383 467h9v4h-9zM424 467h5v4h-5zM456 467h5v4h-5zM520 467h5v4h-5zM566 467h5v4h-5zM292 463h4v4h-4zM456 463h5v4h-5zM529 463h5v4h-5zM205 459h4v4h-4zM420 459h4v4h-4zM145 455h5v4h-5zM173 455h4v4h-4zM186 455h5v4h-5zM232 455h5v4h-5zM292 455h4v4h-4zM433 455h5v4h-5zM516 455h4v4h-4zM415 450h5v5h-5zM589 450h5v5h-5zM237 446h4v4h-4zM273 446h5v4h-5zM397 446h4v4h-4zM470 446h5v4h-5zM648 446h5v4h-5zM232 442h5v4h-5zM452 442h4v4h-4zM648 442h5v4h-5zM584 438h5v4h-5zM214 434h9v4h-9zM250 430h5v4h-5zM205 426h4v4h-4zM260 426h4v4h-4zM452 426h4v4h-4zM205 422h4v4h-4zM200 414h5v4h-5zM237 410h4v4h-4zM269 410h4v4h-4zM218 406h5v4h-5zM241 406h5v4h-5zM269 406h4v4h-4zM278 402h4v4h-4zM287 402h5v4h-5zM223 397h5v5h-5zM223 385h5v4h-5zM218 381h5v4h-5zM607 381h5v4h-5zM648 381h5v4h-5zM241 377h5v4h-5zM250 377h5v4h-5zM223 361h5v4h-5zM232 353h9v4h-9zM607 345h5v4h-5zM218 332h5v4h-5zM598 324h9v4h-9zM305 320h5v4h-5zM305 312h5v4h-5zM598 267h5v4h-5zM598 263h5v4h-5zM603 234h4v5h-4zM603 214h4v4h-4zM603 190h4v4h-4zM603 169h4v4h-4zM603 157h4v4h-4z"/><path fill="#ff9f00" d="M594 532h4v2h-4zM218 524h5v4h-5zM324 524h4v4h-4zM378 524h5v4h-5zM488 524h5v4h-5zM539 524h4v4h-4zM580 524h4v4h-4zM145 499h5v4h-5zM511 499h5v4h-5zM548 499h4v4h-4zM346 495h5v4h-5zM401 495h10v4h-10zM443 495h4v4h-4zM525 495h4v4h-4zM539 495h4v4h-4zM113 491h5v4h-5zM406 491h5v4h-5zM424 491h5v4h-5zM443 491h4v4h-4zM575 491h5v4h-5zM314 487h5v4h-5zM392 487h5v4h-5zM552 487h5v4h-5zM136 483h5v4h-5zM177 483h5v4h-5zM365 483h4v4h-4zM383 483h5v4h-5zM411 483h4v4h-4zM470 483h5v4h-5zM488 483h5v4h-5zM497 483h5v4h-5zM566 483h5v4h-5zM136 479h5v4h-5zM163 479h5v4h-5zM182 479h4v4h-4zM191 479h5v4h-5zM369 479h5v4h-5zM497 479h10v4h-10zM534 479h5v4h-5zM557 479h5v4h-5zM163 475h5v4h-5zM173 475h4v4h-4zM260 475h4v4h-4zM575 475h5v4h-5zM104 471h5v4h-5zM186 471h5v4h-5zM246 471h4v4h-4zM282 471h5v4h-5zM392 471h5v4h-5zM479 471h5v4h-5zM635 471h4v4h-4zM136 467h5v4h-5zM374 467h4v4h-4zM484 467h4v4h-4zM177 463h5v4h-5zM232 463h5v4h-5zM260 463h9v4h-9zM310 463h4v4h-4zM580 463h4v4h-4zM621 463h5v4h-5zM218 459h5v4h-5zM621 459h5v4h-5zM191 455h5v4h-5zM264 455h5v4h-5zM383 455h5v4h-5zM214 450h4v5h-4zM237 450h4v5h-4zM264 450h5v5h-5zM278 450h4v5h-4zM378 450h5v5h-5zM411 450h4v5h-4zM443 450h4v5h-4zM269 446h4v4h-4zM635 446h4v4h-4zM214 442h4v4h-4zM237 442h4v4h-4zM594 442h4v4h-4zM616 442h19v4h-19zM223 438h5v4h-5zM264 438h5v4h-5zM452 438h4v4h-4zM626 438h4v4h-4zM209 434h5v4h-5zM278 434h4v4h-4zM452 434h4v4h-4zM214 430h4v4h-4zM452 430h4v4h-4zM612 430h4v4h-4zM218 426h5v4h-5zM232 426h5v4h-5zM621 426h5v4h-5zM594 422h4v4h-4zM630 422h5v4h-5zM232 418h5v4h-5zM241 418h5v4h-5zM278 418h4v4h-4zM612 410h4v4h-4zM612 402h4v4h-4zM218 397h5v5h-5zM228 397h4v5h-4zM607 393h9v4h-9zM228 385h4v4h-4zM607 385h5v4h-5zM223 373h5v4h-5zM598 369h5v4h-5zM598 365h5v4h-5zM607 361h5v4h-5zM228 345h4v4h-4zM223 340h5v5h-5zM607 332h5v4h-5zM228 328h4v4h-4zM209 324h5v4h-5zM209 320h5v4h-5zM607 304h5v4h-5zM232 279h5v4h-5zM607 194h5v4h-5zM603 177h4v5h-4z"/><path fill="#ff8f00" d="M232 524h5v4h-5zM264 524h5v4h-5zM282 524h5v4h-5zM337 524h5v4h-5zM479 524h5v4h-5zM635 524h4v4h-4zM575 508h5v4h-5zM113 495h5v4h-5zM131 495h5v4h-5zM310 495h4v4h-4zM360 495h9v4h-9zM433 495h5v4h-5zM461 495h4v4h-4zM493 495h4v4h-4zM562 495h4v4h-4zM644 495h4v4h-4zM145 491h5v4h-5zM342 491h9v4h-9zM465 491h5v4h-5zM141 487h4v4h-4zM360 487h5v4h-5zM502 487h5v4h-5zM150 483h4v4h-4zM168 483h5v4h-5zM296 483h5v4h-5zM420 483h4v4h-4zM113 479h5v4h-5zM200 479h5v4h-5zM287 479h9v4h-9zM447 479h5v4h-5zM539 479h4v4h-4zM635 479h9v4h-9zM237 475h4v4h-4zM287 475h5v4h-5zM324 475h4v4h-4zM388 475h4v4h-4zM433 475h5v4h-5zM635 475h9v4h-9zM127 471h4v4h-4zM250 471h5v4h-5zM397 471h4v4h-4zM465 471h5v4h-5zM626 471h4v4h-4zM644 471h4v4h-4zM205 467h4v4h-4zM351 467h5v4h-5zM378 467h5v4h-5zM415 467h5v4h-5zM571 467h4v4h-4zM630 467h5v4h-5zM118 463h4v4h-4zM196 463h4v4h-4zM378 463h5v4h-5zM626 463h4v4h-4zM214 459h4v4h-4zM269 459h4v4h-4zM378 459h5v4h-5zM529 459h5v4h-5zM635 459h4v4h-4zM246 455h4v4h-4zM621 455h5v4h-5zM196 450h4v5h-4zM273 450h5v5h-5zM626 450h9v5h-9zM644 446h4v4h-4zM246 442h4v4h-4zM260 442h4v4h-4zM246 438h4v4h-4zM246 434h4v4h-4zM264 434h5v4h-5zM621 434h5v4h-5zM228 426h4v4h-4zM594 426h4v4h-4zM241 422h5v4h-5zM250 422h5v4h-5zM209 418h5v4h-5zM255 418h5v4h-5zM452 418h4v4h-4zM612 418h4v4h-4zM191 410h5v4h-5zM214 410h9v4h-9zM607 410h5v4h-5zM630 410h5v4h-5zM278 406h4v4h-4zM228 402h4v4h-4zM255 402h5v4h-5zM223 389h5v4h-5zM232 377h5v4h-5zM598 373h5v4h-5zM232 369h5v4h-5zM598 357h5v4h-5zM228 349h4v4h-4zM607 340h5v5h-5zM598 292h5v4h-5zM603 267h4v4h-4zM603 173h4v4h-4zM603 112h4v4h-4z"/><path fill="#ff8000" d="M607 532h5v2h-5zM109 524h4v4h-4zM159 524h4v4h-4zM196 524h4v4h-4zM237 524h4v4h-4zM328 524h5v4h-5zM383 524h5v4h-5zM392 524h5v4h-5zM557 508h5v4h-5zM122 499h9v4h-9zM337 499h5v4h-5zM346 499h5v4h-5zM525 499h4v4h-4zM118 495h4v4h-4zM447 495h5v4h-5zM488 495h5v4h-5zM534 495h5v4h-5zM557 495h5v4h-5zM150 491h4v4h-4zM269 491h4v4h-4zM296 491h5v4h-5zM310 491h9v4h-9zM529 491h5v4h-5zM127 487h4v4h-4zM168 487h5v4h-5zM228 487h4v4h-4zM282 487h5v4h-5zM342 487h4v4h-4zM406 487h5v4h-5zM452 487h9v4h-9zM351 483h5v4h-5zM456 483h5v4h-5zM571 483h4v4h-4zM626 483h4v4h-4zM282 479h5v4h-5zM406 479h5v4h-5zM484 479h4v4h-4zM580 479h4v4h-4zM589 479h5v4h-5zM141 475h4v4h-4zM292 475h4v4h-4zM351 475h5v4h-5zM397 475h4v4h-4zM497 475h5v4h-5zM223 471h5v4h-5zM378 471h5v4h-5zM223 467h5v4h-5zM241 467h5v4h-5zM264 467h5v4h-5zM433 467h5v4h-5zM644 467h4v4h-4zM228 463h4v4h-4zM278 463h4v4h-4zM401 463h5v4h-5zM484 463h4v4h-4zM589 463h5v4h-5zM639 463h5v4h-5zM118 459h4v4h-4zM223 459h5v4h-5zM237 459h4v4h-4zM626 459h4v4h-4zM397 455h4v4h-4zM420 455h4v4h-4zM118 450h4v5h-4zM209 450h5v5h-5zM246 450h9v5h-9zM214 446h4v4h-4zM630 446h5v4h-5zM639 446h5v4h-5zM250 442h5v4h-5zM273 442h5v4h-5zM228 434h4v4h-4zM237 434h4v4h-4zM273 434h5v4h-5zM612 434h9v4h-9zM616 430h5v4h-5zM214 422h4v4h-4zM228 418h4v4h-4zM205 410h4v4h-4zM612 397h4v5h-4zM228 393h4v4h-4zM269 393h4v4h-4zM616 377h5v4h-5zM223 357h5v4h-5zM607 349h5v4h-5zM603 328h4v4h-4zM228 324h4v4h-4zM305 308h5v4h-5zM603 279h4v4h-4zM598 247h5v4h-5zM603 243h4v4h-4zM603 161h4v4h-4zM603 153h4v4h-4z"/><path fill="#ff7000" d="M621 532h5v2h-5zM598 528h5v4h-5zM616 528h5v4h-5zM104 524h5v4h-5zM131 524h5v4h-5zM168 524h5v4h-5zM109 520h4v4h-4zM109 503h4v5h-4zM159 499h4v4h-4zM328 499h5v4h-5zM351 499h5v4h-5zM507 499h4v4h-4zM516 499h4v4h-4zM543 499h5v4h-5zM127 495h4v4h-4zM159 495h4v4h-4zM269 495h4v4h-4zM324 495h4v4h-4zM333 495h4v4h-4zM543 495h9v4h-9zM580 495h4v4h-4zM324 491h9v4h-9zM420 491h4v4h-4zM456 491h5v4h-5zM493 491h4v4h-4zM511 491h5v4h-5zM525 491h4v4h-4zM534 491h5v4h-5zM562 491h4v4h-4zM237 487h4v4h-4zM301 487h4v4h-4zM319 487h5v4h-5zM383 487h5v4h-5zM424 487h5v4h-5zM479 487h5v4h-5zM539 487h4v4h-4zM580 487h4v4h-4zM278 483h4v4h-4zM324 483h4v4h-4zM337 483h5v4h-5zM378 483h5v4h-5zM438 483h9v4h-9zM543 483h5v4h-5zM168 479h5v4h-5zM214 479h4v4h-4zM278 479h4v4h-4zM301 479h4v4h-4zM310 479h4v4h-4zM324 479h4v4h-4zM342 479h4v4h-4zM397 479h4v4h-4zM429 479h4v4h-4zM452 479h4v4h-4zM118 475h4v4h-4zM196 475h9v4h-9zM411 475h4v4h-4zM630 475h5v4h-5zM228 471h4v4h-4zM273 471h5v4h-5zM470 471h5v4h-5zM497 471h5v4h-5zM260 467h4v4h-4zM411 467h4v4h-4zM529 467h5v4h-5zM648 467h5v4h-5zM351 463h5v4h-5zM374 463h4v4h-4zM552 463h5v4h-5zM571 463h4v4h-4zM644 463h4v4h-4zM241 459h5v4h-5zM635 455h4v4h-4zM644 455h4v4h-4zM452 446h4v4h-4zM209 442h5v4h-5zM241 442h5v4h-5zM269 442h4v4h-4zM228 438h4v4h-4zM273 438h5v4h-5zM621 438h5v4h-5zM205 434h4v4h-4zM635 434h4v4h-4zM205 430h4v4h-4zM255 430h5v4h-5zM269 430h4v4h-4zM218 422h5v4h-5zM214 414h4v4h-4zM255 410h5v4h-5zM228 406h4v4h-4zM255 397h5v5h-5zM598 397h5v5h-5zM228 381h4v4h-4zM607 373h5v4h-5zM607 365h5v4h-5zM228 357h4v4h-4zM598 336h5v4h-5zM603 320h4v4h-4zM603 296h4v4h-4zM598 271h5v4h-5zM603 259h4v4h-4zM603 251h4v4h-4zM603 247h4v4h-4zM603 194h4v4h-4zM603 45h4v2h-4z"/><path fill="#ff6000" d="M113 524h5v4h-5zM346 524h5v4h-5zM497 524h5v4h-5zM511 524h5v4h-5zM566 524h5v4h-5zM122 503h5v5h-5zM145 503h5v5h-5zM548 503h4v5h-4zM154 499h5v4h-5zM191 499h5v4h-5zM369 499h5v4h-5zM406 499h5v4h-5zM479 499h5v4h-5zM584 499h5v4h-5zM154 495h5v4h-5zM163 495h10v4h-10zM337 495h5v4h-5zM411 495h4v4h-4zM429 495h4v4h-4zM470 495h5v4h-5zM511 495h9v4h-9zM584 495h5v4h-5zM177 491h9v4h-9zM305 491h5v4h-5zM369 491h5v4h-5zM433 491h5v4h-5zM484 491h4v4h-4zM557 491h5v4h-5zM122 487h5v4h-5zM136 487h5v4h-5zM196 487h4v4h-4zM433 487h5v4h-5zM443 487h4v4h-4zM497 487h5v4h-5zM260 483h4v4h-4zM292 483h4v4h-4zM406 483h5v4h-5zM429 483h4v4h-4zM529 483h5v4h-5zM186 479h5v4h-5zM411 479h4v4h-4zM470 479h5v4h-5zM630 479h5v4h-5zM264 475h5v4h-5zM374 475h4v4h-4zM465 475h5v4h-5zM520 475h5v4h-5zM529 475h5v4h-5zM571 475h4v4h-4zM589 475h5v4h-5zM218 471h5v4h-5zM260 471h4v4h-4zM218 467h5v4h-5zM392 467h5v4h-5zM580 467h4v4h-4zM589 467h5v4h-5zM411 463h4v4h-4zM250 459h5v4h-5zM433 459h5v4h-5zM644 459h4v4h-4zM228 455h4v4h-4zM223 450h5v5h-5zM200 442h5v4h-5zM214 438h4v4h-4zM612 438h4v4h-4zM594 434h4v4h-4zM191 426h5v4h-5zM250 426h5v4h-5zM607 426h5v4h-5zM218 418h5v4h-5zM255 414h5v4h-5zM598 406h5v4h-5zM237 402h4v4h-4zM232 393h5v4h-5zM228 369h4v4h-4zM228 365h4v4h-4zM607 336h5v4h-5zM603 226h4v4h-4zM603 218h4v4h-4zM603 206h4v4h-4zM603 182h4v4h-4z"/><path fill="#ff5000" d="M621 528h5v4h-5zM507 524h4v4h-4zM630 524h5v4h-5zM575 520h5v4h-5zM168 516h5v4h-5zM557 503h5v5h-5zM163 499h5v4h-5zM177 499h5v4h-5zM342 499h4v4h-4zM374 499h4v4h-4zM452 499h9v4h-9zM529 499h5v4h-5zM562 499h4v4h-4zM580 499h4v4h-4zM292 495h4v4h-4zM465 495h5v4h-5zM552 495h5v4h-5zM104 491h5v4h-5zM333 491h4v4h-4zM388 491h4v4h-4zM415 491h5v4h-5zM447 491h5v4h-5zM461 491h4v4h-4zM479 491h5v4h-5zM580 491h4v4h-4zM173 487h4v4h-4zM260 487h4v4h-4zM278 487h4v4h-4zM310 487h4v4h-4zM337 487h5v4h-5zM356 487h4v4h-4zM369 487h5v4h-5zM429 487h4v4h-4zM461 487h4v4h-4zM484 487h4v4h-4zM516 487h4v4h-4zM264 483h5v4h-5zM424 483h5v4h-5zM447 483h5v4h-5zM479 483h9v4h-9zM539 483h4v4h-4zM584 483h5v4h-5zM173 479h4v4h-4zM228 479h4v4h-4zM246 479h4v4h-4zM388 479h4v4h-4zM552 479h5v4h-5zM648 479h5v4h-5zM223 475h5v4h-5zM621 475h5v4h-5zM136 471h5v4h-5zM200 471h5v4h-5zM196 467h4v4h-4zM209 467h5v4h-5zM310 467h4v4h-4zM497 467h5v4h-5zM237 463h4v4h-4zM246 463h4v4h-4zM269 463h4v4h-4zM465 463h5v4h-5zM594 463h4v4h-4zM415 459h5v4h-5zM218 455h5v4h-5zM241 455h5v4h-5zM626 455h4v4h-4zM452 450h4v5h-4zM648 450h5v5h-5zM223 442h5v4h-5zM237 426h9v4h-9zM269 426h4v4h-4zM255 422h5v4h-5zM237 418h4v4h-4zM218 414h5v4h-5zM250 414h5v4h-5zM228 410h4v4h-4zM232 406h5v4h-5zM607 402h5v4h-5zM223 353h5v4h-5zM603 336h4v4h-4zM603 275h4v4h-4z"/><path fill="#ff4000" d="M177 524h5v4h-5zM209 524h5v4h-5zM333 524h4v4h-4zM424 524h5v4h-5zM461 524h4v4h-4zM626 524h4v4h-4zM328 516h5v4h-5zM346 508h5v4h-5zM447 503h5v5h-5zM488 503h5v5h-5zM507 503h4v5h-4zM173 499h4v4h-4zM182 499h4v4h-4zM287 499h5v4h-5zM296 499h5v4h-5zM305 499h5v4h-5zM415 499h5v4h-5zM465 499h5v4h-5zM497 499h5v4h-5zM351 495h5v4h-5zM420 495h4v4h-4zM484 495h4v4h-4zM168 491h5v4h-5zM292 491h4v4h-4zM337 491h5v4h-5zM365 491h4v4h-4zM502 491h5v4h-5zM104 487h5v4h-5zM163 487h5v4h-5zM191 487h5v4h-5zM205 487h4v4h-4zM287 487h5v4h-5zM324 487h4v4h-4zM365 487h4v4h-4zM388 487h4v4h-4zM415 487h9v4h-9zM465 487h5v4h-5zM511 487h5v4h-5zM520 487h5v4h-5zM589 487h5v4h-5zM630 487h5v4h-5zM205 483h4v4h-4zM228 483h4v4h-4zM269 483h4v4h-4zM415 483h5v4h-5zM433 483h5v4h-5zM232 479h9v4h-9zM424 479h5v4h-5zM626 479h4v4h-4zM177 475h5v4h-5zM232 475h5v4h-5zM186 467h5v4h-5zM232 467h5v4h-5zM269 467h4v4h-4zM214 463h4v4h-4zM273 459h5v4h-5zM630 459h5v4h-5zM250 455h5v4h-5zM648 455h5v4h-5zM200 450h5v5h-5zM255 446h5v4h-5zM612 446h4v4h-4zM607 442h5v4h-5zM255 438h5v4h-5zM594 438h4v4h-4zM255 434h5v4h-5zM209 430h5v4h-5zM630 430h5v4h-5zM237 422h4v4h-4zM598 402h5v4h-5zM607 389h5v4h-5zM607 357h5v4h-5z"/><path fill="#ff3000" d="M594 528h4v4h-4zM173 524h4v4h-4zM205 524h4v4h-4zM223 524h5v4h-5zM255 524h5v4h-5zM433 524h5v4h-5zM456 524h5v4h-5zM516 524h4v4h-4zM548 524h4v4h-4zM575 516h5v4h-5zM154 503h5v5h-5zM356 503h4v5h-4zM516 503h4v5h-4zM552 503h5v5h-5zM109 499h4v4h-4zM292 499h4v4h-4zM420 499h4v4h-4zM443 499h4v4h-4zM475 499h4v4h-4zM173 495h4v4h-4zM186 495h5v4h-5zM342 495h4v4h-4zM475 495h4v4h-4zM502 495h9v4h-9zM141 491h4v4h-4zM186 491h5v4h-5zM209 491h5v4h-5zM278 491h4v4h-4zM475 491h4v4h-4zM497 491h5v4h-5zM630 491h14v4h-14zM186 487h5v4h-5zM397 487h4v4h-4zM470 487h5v4h-5zM209 483h5v4h-5zM246 483h9v4h-9zM310 483h4v4h-4zM388 483h9v4h-9zM465 483h5v4h-5zM639 483h5v4h-5zM260 479h4v4h-4zM269 479h4v4h-4zM365 479h4v4h-4zM378 479h10v4h-10zM621 479h5v4h-5zM589 471h5v4h-5zM237 467h4v4h-4zM273 467h5v4h-5zM250 463h5v4h-5zM635 463h4v4h-4zM246 459h4v4h-4zM411 459h4v4h-4zM209 455h5v4h-5zM237 455h4v4h-4zM269 455h4v4h-4zM255 450h5v5h-5zM269 450h4v5h-4zM228 446h4v4h-4zM250 446h5v4h-5zM621 446h5v4h-5zM639 442h5v4h-5zM237 438h4v4h-4zM250 434h5v4h-5zM269 434h4v4h-4zM607 434h5v4h-5zM228 430h4v4h-4zM607 418h5v4h-5zM241 414h5v4h-5zM223 393h5v4h-5zM598 393h5v4h-5zM598 389h5v4h-5zM598 385h5v4h-5zM603 373h4v4h-4zM598 340h9v5h-9zM603 165h4v4h-4z"/><path fill="#ff2000" d="M603 528h9v4h-9zM145 524h5v4h-5zM228 524h4v4h-4zM296 524h9v4h-9zM356 524h4v4h-4zM415 524h5v4h-5zM584 524h5v4h-5zM639 524h5v4h-5zM424 520h5v4h-5zM465 516h5v4h-5zM127 512h4v4h-4zM168 512h5v4h-5zM328 508h5v4h-5zM525 508h4v4h-4zM104 503h5v5h-5zM113 503h5v5h-5zM127 503h4v5h-4zM406 503h5v5h-5zM484 503h4v5h-4zM113 499h5v4h-5zM141 499h4v4h-4zM186 499h5v4h-5zM360 499h5v4h-5zM392 499h5v4h-5zM429 499h4v4h-4zM539 499h4v4h-4zM150 495h4v4h-4zM196 495h4v4h-4zM305 495h5v4h-5zM319 495h5v4h-5zM479 495h5v4h-5zM301 491h4v4h-4zM374 491h4v4h-4zM452 491h4v4h-4zM520 491h5v4h-5zM552 491h5v4h-5zM571 491h4v4h-4zM626 491h4v4h-4zM648 491h5v4h-5zM209 487h5v4h-5zM269 487h4v4h-4zM378 487h5v4h-5zM507 487h4v4h-4zM635 487h4v4h-4zM200 483h5v4h-5zM648 483h5v4h-5zM374 479h4v4h-4zM644 479h4v4h-4zM209 475h9v4h-9zM269 475h4v4h-4zM415 475h5v4h-5zM196 471h4v4h-4zM209 471h5v4h-5zM264 471h5v4h-5zM621 471h5v4h-5zM630 471h5v4h-5zM639 471h5v4h-5zM228 467h4v4h-4zM621 467h5v4h-5zM223 463h5v4h-5zM209 459h5v4h-5zM264 459h5v4h-5zM594 459h4v4h-4zM200 455h5v4h-5zM228 450h4v5h-4zM612 450h4v5h-4zM278 446h4v4h-4zM228 442h4v4h-4zM612 442h4v4h-4zM200 438h5v4h-5zM241 434h5v4h-5zM603 377h4v4h-4zM603 292h4v4h-4zM603 287h4v5h-4z"/><path fill="#ff1000" d="M127 524h4v4h-4zM305 524h5v4h-5zM319 524h5v4h-5zM397 524h4v4h-4zM411 524h4v4h-4zM484 524h4v4h-4zM374 520h4v4h-4zM639 520h5v4h-5zM305 516h5v4h-5zM644 516h4v4h-4zM429 512h4v4h-4zM644 512h4v4h-4zM168 508h5v4h-5zM292 508h4v4h-4zM118 503h4v5h-4zM292 503h4v5h-4zM301 503h9v5h-9zM351 503h5v5h-5zM374 503h4v5h-4zM470 503h5v5h-5zM479 503h5v5h-5zM525 503h4v5h-4zM562 503h9v5h-9zM589 503h5v5h-5zM131 499h5v4h-5zM209 499h5v4h-5zM388 499h4v4h-4zM191 495h5v4h-5zM237 495h4v4h-4zM529 495h5v4h-5zM639 495h5v4h-5zM191 491h5v4h-5zM351 491h5v4h-5zM411 491h4v4h-4zM438 491h5v4h-5zM488 491h5v4h-5zM539 491h4v4h-4zM250 487h5v4h-5zM648 487h5v4h-5zM282 483h5v4h-5zM314 483h5v4h-5zM374 483h4v4h-4zM401 483h5v4h-5zM589 483h5v4h-5zM223 479h5v4h-5zM241 475h5v4h-5zM378 475h5v4h-5zM392 475h5v4h-5zM214 471h4v4h-4zM411 471h4v4h-4zM250 467h5v4h-5zM607 455h5v4h-5zM241 450h5v5h-5zM200 446h5v4h-5zM223 446h5v4h-5zM246 446h4v4h-4zM616 446h5v4h-5zM218 430h5v4h-5zM241 430h5v4h-5zM594 430h4v4h-4zM228 422h4v4h-4zM607 406h5v4h-5zM228 389h4v4h-4zM228 377h4v4h-4zM603 345h4v4h-4zM603 263h4v4h-4zM603 255h4v4h-4z"/><path fill="#ff0000" d="M603 532h4v2h-4zM612 528h4v4h-4zM150 524h9v4h-9zM214 524h4v4h-4zM562 524h4v4h-4zM305 520h5v4h-5zM429 520h4v4h-4zM497 516h5v4h-5zM154 512h5v4h-5zM493 512h4v4h-4zM525 512h4v4h-4zM163 508h5v4h-5zM470 508h5v4h-5zM511 508h5v4h-5zM159 503h4v5h-4zM365 503h4v5h-4zM392 503h5v5h-5zM429 503h4v5h-4zM452 503h4v5h-4zM475 503h4v5h-4zM497 503h5v5h-5zM529 503h5v5h-5zM319 499h5v4h-5zM411 499h4v4h-4zM424 499h5v4h-5zM493 499h4v4h-4zM104 495h5v4h-5zM264 495h5v4h-5zM424 495h5v4h-5zM452 495h4v4h-4zM383 491h5v4h-5zM392 491h5v4h-5zM584 491h5v4h-5zM177 487h5v4h-5zM214 487h9v4h-9zM351 487h5v4h-5zM635 483h4v4h-4zM644 483h4v4h-4zM250 479h5v4h-5zM392 479h5v4h-5zM401 479h5v4h-5zM433 479h5v4h-5zM465 479h5v4h-5zM529 479h5v4h-5zM218 475h5v4h-5zM246 475h9v4h-9zM232 471h5v4h-5zM200 463h5v4h-5zM392 463h5v4h-5zM223 455h5v4h-5zM255 455h5v4h-5zM598 414h5v4h-5zM603 389h4v4h-4zM232 385h5v4h-5zM603 361h4v4h-4z"/><path fill="#ef0000" d="M616 532h5v2h-5zM182 524h4v4h-4zM292 524h4v4h-4zM406 524h5v4h-5zM429 524h4v4h-4zM502 520h5v4h-5zM150 516h4v4h-4zM484 516h4v4h-4zM497 512h5v4h-5zM539 512h4v4h-4zM580 512h4v4h-4zM159 508h4v4h-4zM260 508h4v4h-4zM369 508h5v4h-5zM392 508h5v4h-5zM131 503h5v5h-5zM168 503h5v5h-5zM191 503h5v5h-5zM319 503h5v5h-5zM342 503h4v5h-4zM424 503h5v5h-5zM493 503h4v5h-4zM511 503h5v5h-5zM575 503h5v5h-5zM150 499h4v4h-4zM310 499h4v4h-4zM324 499h4v4h-4zM447 499h5v4h-5zM470 499h5v4h-5zM589 499h5v4h-5zM626 499h4v4h-4zM644 499h4v4h-4zM141 495h4v4h-4zM205 495h4v4h-4zM356 495h4v4h-4zM374 495h4v4h-4zM571 495h4v4h-4zM589 495h5v4h-5zM635 495h4v4h-4zM648 495h5v4h-5zM429 491h4v4h-4zM589 491h5v4h-5zM200 487h5v4h-5zM246 487h4v4h-4zM374 487h4v4h-4zM571 487h4v4h-4zM639 487h5v4h-5zM232 483h14v4h-14zM520 479h5v4h-5zM273 475h5v4h-5zM626 475h4v4h-4zM237 471h4v4h-4zM594 471h4v4h-4zM214 467h4v4h-4zM246 467h4v4h-4zM594 467h4v4h-4zM255 463h5v4h-5zM228 459h4v4h-4zM612 455h4v4h-4zM616 450h5v5h-5zM594 446h4v4h-4zM255 442h5v4h-5zM241 438h5v4h-5zM603 410h4v4h-4zM598 381h5v4h-5z"/><path fill="#df0000" d="M186 524h5v4h-5zM388 524h4v4h-4zM543 524h5v4h-5zM145 520h5v4h-5zM548 520h4v4h-4zM122 516h5v4h-5zM337 516h5v4h-5zM424 516h5v4h-5zM292 512h4v4h-4zM461 512h4v4h-4zM589 512h5v4h-5zM497 508h5v4h-5zM589 508h5v4h-5zM150 503h4v5h-4zM163 503h5v5h-5zM273 503h5v5h-5zM346 503h5v5h-5zM438 503h5v5h-5zM626 503h4v5h-4zM644 503h4v5h-4zM104 499h5v4h-5zM196 499h4v4h-4zM520 499h5v4h-5zM136 495h5v4h-5zM177 495h5v4h-5zM287 495h5v4h-5zM392 495h5v4h-5zM520 495h5v4h-5zM630 495h5v4h-5zM205 491h4v4h-4zM228 491h9v4h-9zM250 491h5v4h-5zM397 491h9v4h-9zM223 487h5v4h-5zM621 487h5v4h-5zM191 483h5v4h-5zM218 483h10v4h-10zM630 483h5v4h-5zM241 479h5v4h-5zM228 475h4v4h-4zM278 475h4v4h-4zM255 471h5v4h-5zM626 467h4v4h-4zM241 446h5v4h-5zM598 438h5v4h-5zM598 430h5v4h-5zM598 426h5v4h-5zM598 410h5v4h-5zM603 397h4v5h-4zM603 381h4v4h-4zM598 377h5v4h-5zM228 373h4v4h-4zM607 369h5v4h-5z"/><path fill="#cf0000" d="M250 524h5v4h-5zM351 524h5v4h-5zM369 524h5v4h-5zM443 524h4v4h-4zM154 520h5v4h-5zM346 520h5v4h-5zM497 520h5v4h-5zM511 520h5v4h-5zM552 520h5v4h-5zM589 520h5v4h-5zM145 516h5v4h-5zM328 512h5v4h-5zM346 512h5v4h-5zM516 512h4v4h-4zM557 512h5v4h-5zM575 512h5v4h-5zM639 512h5v4h-5zM104 508h5v4h-5zM118 508h9v4h-9zM154 508h5v4h-5zM209 508h5v4h-5zM397 508h4v4h-4zM433 508h5v4h-5zM443 508h4v4h-4zM452 508h4v4h-4zM493 508h4v4h-4zM507 508h4v4h-4zM260 503h4v5h-4zM314 503h5v5h-5zM328 503h5v5h-5zM337 503h5v5h-5zM369 503h5v5h-5zM401 503h5v5h-5zM465 503h5v5h-5zM571 503h4v5h-4zM580 503h4v5h-4zM118 499h4v4h-4zM273 499h5v4h-5zM301 499h4v4h-4zM433 499h5v4h-5zM214 491h4v4h-4zM260 491h4v4h-4zM287 491h5v4h-5zM644 491h4v4h-4zM196 483h4v4h-4zM621 483h5v4h-5zM196 479h4v4h-4zM205 479h4v4h-4zM255 475h5v4h-5zM612 475h4v4h-4zM644 475h4v4h-4zM255 459h5v4h-5zM607 438h5v4h-5zM607 422h5v4h-5zM603 414h9v4h-9zM603 385h4v4h-4z"/><path fill="#bf0000" d="M141 524h4v4h-4zM529 524h5v4h-5zM571 524h4v4h-4zM159 520h4v4h-4zM287 520h5v4h-5zM392 520h5v4h-5zM401 520h5v4h-5zM475 520h4v4h-4zM520 520h5v4h-5zM292 516h4v4h-4zM319 516h5v4h-5zM346 516h5v4h-5zM392 516h5v4h-5zM429 516h4v4h-4zM552 516h5v4h-5zM118 512h4v4h-4zM351 512h5v4h-5zM406 512h5v4h-5zM470 512h5v4h-5zM511 512h5v4h-5zM529 512h10v4h-10zM566 512h5v4h-5zM648 512h5v4h-5zM136 508h5v4h-5zM351 508h5v4h-5zM465 508h5v4h-5zM520 508h5v4h-5zM539 508h4v4h-4zM644 508h4v4h-4zM177 503h5v5h-5zM228 503h4v5h-4zM278 503h4v5h-4zM296 503h5v5h-5zM360 503h5v5h-5zM383 503h5v5h-5zM420 503h4v5h-4zM461 503h4v5h-4zM539 503h4v5h-4zM223 499h5v4h-5zM282 499h5v4h-5zM314 499h5v4h-5zM356 499h4v4h-4zM365 499h4v4h-4zM383 499h5v4h-5zM401 499h5v4h-5zM639 499h5v4h-5zM648 499h5v4h-5zM209 495h5v4h-5zM223 495h5v4h-5zM273 495h5v4h-5zM438 495h5v4h-5zM456 495h5v4h-5zM497 495h5v4h-5zM196 491h4v4h-4zM223 491h5v4h-5zM246 491h4v4h-4zM255 491h5v4h-5zM241 487h5v4h-5zM411 487h4v4h-4zM438 487h5v4h-5zM626 487h4v4h-4zM214 483h4v4h-4zM273 483h5v4h-5zM255 479h5v4h-5zM241 463h5v4h-5zM612 463h4v4h-4zM616 455h5v4h-5zM603 406h4v4h-4zM603 393h4v4h-4zM603 349h4v4h-4zM603 332h4v4h-4z"/><path fill="#af0000" d="M447 524h5v4h-5zM648 524h5v4h-5zM122 520h5v4h-5zM168 520h5v4h-5zM470 520h5v4h-5zM507 520h4v4h-4zM131 516h5v4h-5zM141 516h4v4h-4zM401 516h10v4h-10zM525 516h4v4h-4zM562 516h4v4h-4zM145 512h5v4h-5zM287 512h5v4h-5zM401 512h5v4h-5zM443 512h4v4h-4zM507 512h4v4h-4zM109 508h4v4h-4zM145 508h5v4h-5zM196 508h4v4h-4zM296 508h5v4h-5zM310 508h4v4h-4zM319 508h5v4h-5zM365 508h4v4h-4zM388 508h4v4h-4zM447 508h5v4h-5zM484 508h4v4h-4zM562 508h4v4h-4zM630 508h5v4h-5zM639 508h5v4h-5zM186 503h5v5h-5zM282 503h10v5h-10zM310 503h4v5h-4zM324 503h4v5h-4zM246 499h4v4h-4zM260 499h9v4h-9zM534 499h5v4h-5zM630 499h5v4h-5zM182 495h4v4h-4zM250 495h5v4h-5zM388 495h4v4h-4zM136 491h5v4h-5zM200 491h5v4h-5zM232 487h5v4h-5zM273 487h5v4h-5zM603 365h4v4h-4z"/><path fill="#9f0000" d="M314 524h5v4h-5zM470 524h5v4h-5zM113 520h5v4h-5zM191 520h5v4h-5zM218 520h5v4h-5zM278 520h4v4h-4zM292 520h4v4h-4zM324 520h4v4h-4zM438 520h5v4h-5zM452 520h4v4h-4zM584 520h5v4h-5zM594 520h4v4h-4zM616 520h5v4h-5zM186 516h5v4h-5zM310 516h4v4h-4zM351 516h5v4h-5zM383 516h5v4h-5zM470 516h5v4h-5zM488 516h5v4h-5zM516 516h4v4h-4zM534 516h5v4h-5zM543 516h5v4h-5zM589 516h5v4h-5zM122 512h5v4h-5zM159 512h4v4h-4zM191 512h5v4h-5zM438 512h5v4h-5zM475 512h4v4h-4zM324 508h4v4h-4zM415 508h9v4h-9zM475 508h4v4h-4zM552 508h5v4h-5zM182 503h4v5h-4zM456 503h5v5h-5zM136 499h5v4h-5zM228 499h4v4h-4zM237 499h4v4h-4zM461 499h4v4h-4zM484 499h4v4h-4zM502 499h5v4h-5zM552 499h5v4h-5zM635 499h4v4h-4zM241 495h5v4h-5zM369 495h5v4h-5zM378 495h5v4h-5zM415 495h5v4h-5zM218 491h5v4h-5zM273 491h5v4h-5zM594 491h4v4h-4zM621 491h5v4h-5zM401 487h5v4h-5zM644 487h4v4h-4zM255 483h5v4h-5zM241 471h5v4h-5zM607 471h9v4h-9zM594 455h4v4h-4zM603 426h4v4h-4zM603 418h4v4h-4zM603 402h4v4h-4z"/><path fill="#8f0000" d="M360 524h5v4h-5zM136 520h5v4h-5zM369 520h5v4h-5zM479 520h5v4h-5zM534 520h5v4h-5zM543 520h5v4h-5zM557 520h5v4h-5zM626 520h9v4h-9zM163 516h5v4h-5zM191 516h5v4h-5zM264 516h5v4h-5zM548 516h4v4h-4zM557 516h5v4h-5zM584 516h5v4h-5zM626 516h4v4h-4zM113 512h5v4h-5zM237 512h4v4h-4zM324 512h4v4h-4zM369 512h9v4h-9zM479 512h5v4h-5zM630 512h5v4h-5zM150 508h4v4h-4zM177 508h5v4h-5zM273 508h5v4h-5zM488 508h5v4h-5zM566 508h5v4h-5zM598 508h5v4h-5zM635 508h4v4h-4zM433 503h5v5h-5zM621 503h5v5h-5zM438 499h5v4h-5zM228 495h4v4h-4zM278 495h9v4h-9zM383 495h5v4h-5zM397 495h4v4h-4zM173 491h4v4h-4zM264 491h5v4h-5zM378 491h5v4h-5zM273 479h5v4h-5zM273 463h5v4h-5zM616 459h5v4h-5zM594 450h4v5h-4zM598 434h5v4h-5zM603 430h4v4h-4zM603 357h4v4h-4z"/><path fill="#800000" d="M575 524h5v4h-5zM589 524h37v4h-37zM104 520h5v4h-5zM118 520h4v4h-4zM127 520h9v4h-9zM141 520h4v4h-4zM150 520h4v4h-4zM163 520h5v4h-5zM173 520h18v4h-18zM196 520h22v4h-22zM223 520h55v4h-55zM282 520h5v4h-5zM296 520h9v4h-9zM310 520h14v4h-14zM328 520h18v4h-18zM351 520h18v4h-18zM378 520h14v4h-14zM397 520h4v4h-4zM406 520h18v4h-18zM433 520h5v4h-5zM443 520h9v4h-9zM456 520h14v4h-14zM484 520h13v4h-13zM516 520h4v4h-4zM525 520h9v4h-9zM539 520h4v4h-4zM562 520h13v4h-13zM580 520h4v4h-4zM598 520h18v4h-18zM621 520h5v4h-5zM635 520h4v4h-4zM644 520h9v4h-9zM104 516h18v4h-18zM127 516h4v4h-4zM136 516h5v4h-5zM154 516h9v4h-9zM173 516h13v4h-13zM196 516h68v4h-68zM269 516h23v4h-23zM296 516h9v4h-9zM314 516h5v4h-5zM324 516h4v4h-4zM333 516h4v4h-4zM342 516h4v4h-4zM356 516h27v4h-27zM388 516h4v4h-4zM397 516h4v4h-4zM411 516h13v4h-13zM433 516h32v4h-32zM475 516h9v4h-9zM493 516h4v4h-4zM502 516h14v4h-14zM520 516h5v4h-5zM529 516h5v4h-5zM539 516h4v4h-4zM566 516h9v4h-9zM580 516h4v4h-4zM594 516h32v4h-32zM630 516h14v4h-14zM648 516h5v4h-5zM104 512h9v4h-9zM131 512h14v4h-14zM150 512h4v4h-4zM163 512h5v4h-5zM173 512h18v4h-18zM196 512h41v4h-41zM241 512h46v4h-46zM296 512h28v4h-28zM333 512h13v4h-13zM356 512h13v4h-13zM378 512h23v4h-23zM411 512h18v4h-18zM433 512h5v4h-5zM447 512h14v4h-14zM465 512h5v4h-5zM484 512h9v4h-9zM502 512h5v4h-5zM520 512h5v4h-5zM543 512h14v4h-14zM562 512h4v4h-4zM571 512h4v4h-4zM584 512h5v4h-5zM594 512h36v4h-36zM635 512h4v4h-4zM113 508h5v4h-5zM127 508h9v4h-9zM141 508h4v4h-4zM173 508h4v4h-4zM182 508h14v4h-14zM200 508h9v4h-9zM214 508h46v4h-46zM264 508h9v4h-9zM278 508h14v4h-14zM301 508h9v4h-9zM314 508h5v4h-5zM333 508h13v4h-13zM356 508h9v4h-9zM374 508h14v4h-14zM401 508h14v4h-14zM424 508h9v4h-9zM438 508h5v4h-5zM456 508h9v4h-9zM479 508h5v4h-5zM502 508h5v4h-5zM516 508h4v4h-4zM529 508h10v4h-10zM543 508h9v4h-9zM571 508h4v4h-4zM580 508h9v4h-9zM594 508h4v4h-4zM603 508h27v4h-27zM648 508h5v4h-5zM136 503h9v5h-9zM173 503h4v5h-4zM196 503h32v5h-32zM232 503h28v5h-28zM264 503h9v5h-9zM333 503h4v5h-4zM378 503h5v5h-5zM388 503h4v5h-4zM397 503h4v5h-4zM411 503h9v5h-9zM443 503h4v5h-4zM502 503h5v5h-5zM520 503h5v5h-5zM534 503h5v5h-5zM543 503h5v5h-5zM584 503h5v5h-5zM594 503h27v5h-27zM630 503h14v5h-14zM648 503h5v5h-5zM200 499h9v4h-9zM214 499h9v4h-9zM232 499h5v4h-5zM241 499h5v4h-5zM250 499h10v4h-10zM269 499h4v4h-4zM278 499h4v4h-4zM333 499h4v4h-4zM378 499h5v4h-5zM397 499h4v4h-4zM571 499h4v4h-4zM594 499h32v4h-32zM200 495h5v4h-5zM214 495h9v4h-9zM232 495h5v4h-5zM246 495h4v4h-4zM255 495h9v4h-9zM301 495h4v4h-4zM594 495h36v4h-36zM237 491h9v4h-9zM282 491h5v4h-5zM598 491h23v4h-23zM255 487h5v4h-5zM594 487h27v4h-27zM594 483h27v4h-27zM218 479h5v4h-5zM594 479h27v4h-27zM594 475h18v4h-18zM616 475h5v4h-5zM598 471h9v4h-9zM616 471h5v4h-5zM598 467h23v4h-23zM598 463h14v4h-14zM616 463h5v4h-5zM598 459h18v4h-18zM598 455h9v4h-9zM598 450h14v5h-14zM598 446h14v4h-14zM598 442h9v4h-9zM603 438h4v4h-4zM603 434h4v4h-4zM607 430h5v4h-5zM598 422h9v4h-9zM598 418h5v4h-5zM603 369h4v4h-4zM603 353h4v4h-4zM397 340h4v5h-4zM369 324h5v4h-5zM374 320h4v4h-4zM392 312h5v4h-5zM566 312h5v4h-5zM383 308h5v4h-5zM548 308h4v4h-4zM424 304h5v4h-5zM516 304h4v4h-4zM365 300h4v4h-4zM516 300h4v4h-4zM543 296h5v4h-5zM557 292h5v4h-5zM580 292h4v4h-4zM131 287h5v5h-5zM182 287h4v5h-4zM196 283h4v4h-4zM493 283h4v4h-4zM507 283h4v4h-4zM392 279h5v4h-5zM507 279h4v4h-4zM543 279h5v4h-5zM383 275h5v4h-5zM397 275h4v4h-4zM447 275h5v4h-5zM557 275h5v4h-5zM584 275h5v4h-5zM557 271h5v4h-5zM584 271h5v4h-5zM397 267h4v4h-4zM516 267h4v4h-4zM534 267h5v4h-5zM150 263h4v4h-4zM589 263h5v4h-5zM401 259h5v4h-5zM534 259h9v4h-9zM118 255h4v4h-4zM131 255h5v4h-5zM145 255h5v4h-5zM173 255h4v4h-4zM296 255h5v4h-5zM360 255h5v4h-5zM374 255h4v4h-4zM534 255h9v4h-9zM575 255h5v4h-5zM122 251h5v4h-5zM131 251h5v4h-5zM177 251h5v4h-5zM369 251h9v4h-9zM488 251h9v4h-9zM182 247h4v4h-4zM319 247h5v4h-5zM369 247h5v4h-5zM415 247h5v4h-5zM497 247h5v4h-5zM580 247h4v4h-4zM122 243h5v4h-5zM182 243h4v4h-4zM319 243h5v4h-5zM543 243h5v4h-5zM182 239h4v4h-4zM356 239h4v4h-4zM388 239h4v4h-4zM452 239h4v4h-4zM493 239h4v4h-4zM511 239h9v4h-9zM539 239h4v4h-4zM566 239h5v4h-5zM584 239h5v4h-5zM594 239h4v4h-4zM173 234h4v5h-4zM388 234h4v5h-4zM493 234h4v5h-4zM516 234h4v5h-4zM566 234h5v5h-5zM154 230h5v4h-5zM168 230h5v4h-5zM177 230h5v4h-5zM186 230h5v4h-5zM333 230h4v4h-4zM365 230h4v4h-4zM511 230h9v4h-9zM122 226h5v4h-5zM154 226h5v4h-5zM173 226h4v4h-4zM374 226h4v4h-4zM392 226h5v4h-5zM529 226h5v4h-5zM543 226h5v4h-5zM392 222h5v4h-5zM497 222h5v4h-5zM630 222h5v4h-5zM104 218h5v4h-5zM131 218h5v4h-5zM333 218h4v4h-4zM392 218h5v4h-5zM461 218h4v4h-4zM543 218h5v4h-5zM136 214h5v4h-5zM205 214h4v4h-4zM324 214h9v4h-9zM392 214h5v4h-5zM456 214h5v4h-5zM497 214h5v4h-5zM516 214h4v4h-4zM548 214h4v4h-4zM118 210h4v4h-4zM145 210h5v4h-5zM159 210h9v4h-9zM205 210h4v4h-4zM278 210h4v4h-4zM328 210h5v4h-5zM374 210h4v4h-4zM383 210h14v4h-14zM424 210h5v4h-5zM525 210h4v4h-4zM562 210h4v4h-4zM575 210h5v4h-5zM163 206h10v4h-10zM365 206h4v4h-4zM374 206h9v4h-9zM388 206h4v4h-4zM424 206h5v4h-5zM433 206h5v4h-5zM465 206h5v4h-5zM552 206h5v4h-5zM562 206h4v4h-4zM575 206h5v4h-5zM584 206h5v4h-5zM113 202h5v4h-5zM209 202h5v4h-5zM292 202h4v4h-4zM342 202h4v4h-4zM388 202h4v4h-4zM543 202h5v4h-5zM552 202h5v4h-5zM562 202h4v4h-4zM575 202h5v4h-5zM159 198h4v4h-4zM186 198h5v4h-5zM209 198h5v4h-5zM223 198h5v4h-5zM292 198h4v4h-4zM562 198h4v4h-4zM575 198h5v4h-5zM109 194h4v4h-4zM159 194h9v4h-9zM186 194h5v4h-5zM223 194h5v4h-5zM296 194h5v4h-5zM314 194h5v4h-5zM333 194h4v4h-4zM562 194h4v4h-4zM109 190h4v4h-4zM154 190h5v4h-5zM163 190h5v4h-5zM223 190h5v4h-5zM296 190h5v4h-5zM328 190h5v4h-5zM356 190h4v4h-4zM369 190h5v4h-5zM415 190h5v4h-5zM488 190h5v4h-5zM552 190h5v4h-5zM562 190h4v4h-4zM104 186h5v4h-5zM141 186h4v4h-4zM163 186h5v4h-5zM383 186h9v4h-9zM397 186h4v4h-4zM415 186h5v4h-5zM497 186h19v4h-19zM520 186h5v4h-5zM571 186h4v4h-4zM580 186h9v4h-9zM594 186h4v4h-4zM122 182h5v4h-5zM141 182h4v4h-4zM150 182h4v4h-4zM163 182h5v4h-5zM296 182h5v4h-5zM310 182h4v4h-4zM383 182h9v4h-9zM415 182h5v4h-5zM497 182h5v4h-5zM520 182h5v4h-5zM534 182h5v4h-5zM548 182h4v4h-4zM562 182h4v4h-4zM571 182h4v4h-4zM584 182h10v4h-10zM136 177h9v5h-9zM159 177h4v5h-4zM168 177h5v5h-5zM314 177h5v5h-5zM342 177h4v5h-4zM374 177h4v5h-4zM388 177h4v5h-4zM397 177h4v5h-4zM497 177h5v5h-5zM507 177h4v5h-4zM516 177h4v5h-4zM525 177h4v5h-4zM534 177h5v5h-5zM548 177h9v5h-9zM562 177h4v5h-4zM580 177h4v5h-4zM109 173h4v4h-4zM118 173h4v4h-4zM131 173h14v4h-14zM186 173h5v4h-5zM342 173h4v4h-4zM356 173h4v4h-4zM378 173h5v4h-5zM433 173h5v4h-5zM507 173h9v4h-9zM548 173h9v4h-9zM575 173h9v4h-9zM589 173h5v4h-5zM113 169h5v4h-5zM141 169h4v4h-4zM150 169h9v4h-9zM342 169h4v4h-4zM397 169h4v4h-4zM488 169h9v4h-9zM507 169h4v4h-4zM534 169h9v4h-9zM548 169h4v4h-4zM562 169h4v4h-4zM571 169h4v4h-4zM580 169h4v4h-4zM131 165h5v4h-5zM141 165h4v4h-4zM150 165h4v4h-4zM255 165h5v4h-5zM314 165h5v4h-5zM397 165h4v4h-4zM497 165h5v4h-5zM525 165h4v4h-4zM534 165h5v4h-5zM548 165h4v4h-4zM562 165h4v4h-4zM575 165h9v4h-9zM131 161h5v4h-5zM150 161h4v4h-4zM186 161h5v4h-5zM333 161h4v4h-4zM360 161h5v4h-5zM397 161h4v4h-4zM447 161h5v4h-5zM456 161h5v4h-5zM493 161h9v4h-9zM511 161h5v4h-5zM548 161h4v4h-4zM557 161h9v4h-9zM575 161h9v4h-9zM104 157h9v4h-9zM122 157h5v4h-5zM131 157h5v4h-5zM141 157h4v4h-4zM186 157h5v4h-5zM305 157h5v4h-5zM333 157h4v4h-4zM360 157h5v4h-5zM388 157h4v4h-4zM397 157h4v4h-4zM447 157h9v4h-9zM484 157h4v4h-4zM507 157h13v4h-13zM529 157h5v4h-5zM548 157h4v4h-4zM562 157h4v4h-4zM575 157h5v4h-5zM104 153h5v4h-5zM131 153h5v4h-5zM141 153h4v4h-4zM154 153h5v4h-5zM182 153h4v4h-4zM305 153h5v4h-5zM314 153h5v4h-5zM333 153h4v4h-4zM351 153h9v4h-9zM378 153h5v4h-5zM397 153h4v4h-4zM539 153h4v4h-4zM557 153h9v4h-9zM575 153h5v4h-5zM584 153h5v4h-5zM150 149h4v4h-4zM182 149h4v4h-4zM305 149h5v4h-5zM319 149h5v4h-5zM346 149h10v4h-10zM378 149h5v4h-5zM470 149h5v4h-5zM484 149h4v4h-4zM516 149h4v4h-4zM534 149h5v4h-5zM548 149h4v4h-4zM562 149h4v4h-4zM571 149h4v4h-4zM584 149h5v4h-5zM118 145h4v4h-4zM145 145h5v4h-5zM173 145h4v4h-4zM182 145h9v4h-9zM264 145h5v4h-5zM305 145h9v4h-9zM319 145h5v4h-5zM342 145h9v4h-9zM369 145h19v4h-19zM452 145h4v4h-4zM461 145h4v4h-4zM470 145h5v4h-5zM511 145h5v4h-5zM529 145h5v4h-5zM562 145h4v4h-4zM584 145h5v4h-5zM118 141h4v4h-4zM136 141h5v4h-5zM145 141h5v4h-5zM182 141h9v4h-9zM196 141h4v4h-4zM337 141h9v4h-9zM374 141h9v4h-9zM388 141h9v4h-9zM456 141h14v4h-14zM488 141h5v4h-5zM497 141h5v4h-5zM520 141h9v4h-9zM543 141h5v4h-5zM552 141h14v4h-14zM571 141h4v4h-4zM584 141h5v4h-5zM141 137h4v4h-4zM182 137h4v4h-4zM292 137h4v4h-4zM333 137h4v4h-4zM356 137h9v4h-9zM378 137h5v4h-5zM465 137h5v4h-5zM493 137h9v4h-9zM511 137h5v4h-5zM520 137h9v4h-9zM548 137h4v4h-4zM562 137h4v4h-4zM575 137h19v4h-19zM118 133h4v4h-4zM154 133h5v4h-5zM177 133h9v4h-9zM292 133h9v4h-9zM310 133h9v4h-9zM378 133h5v4h-5zM424 133h5v4h-5zM465 133h5v4h-5zM502 133h5v4h-5zM516 133h4v4h-4zM552 133h5v4h-5zM571 133h4v4h-4zM580 133h9v4h-9zM648 133h5v4h-5zM109 129h4v4h-4zM118 129h4v4h-4zM145 129h9v4h-9zM159 129h4v4h-4zM177 129h9v4h-9zM232 129h5v4h-5zM292 129h9v4h-9zM314 129h5v4h-5zM324 129h4v4h-4zM388 129h4v4h-4zM443 129h4v4h-4zM456 129h5v4h-5zM465 129h5v4h-5zM484 129h4v4h-4zM507 129h4v4h-4zM520 129h5v4h-5zM543 129h14v4h-14zM562 129h13v4h-13zM580 129h4v4h-4zM648 129h5v4h-5zM127 124h4v5h-4zM136 124h5v5h-5zM145 124h9v5h-9zM163 124h10v5h-10zM182 124h9v5h-9zM232 124h5v5h-5zM296 124h5v5h-5zM324 124h4v5h-4zM337 124h5v5h-5zM360 124h5v5h-5zM369 124h14v5h-14zM484 124h4v5h-4zM497 124h14v5h-14zM548 124h9v5h-9zM566 124h9v5h-9zM122 120h5v4h-5zM154 120h5v4h-5zM163 120h10v4h-10zM186 120h5v4h-5zM232 120h5v4h-5zM324 120h18v4h-18zM369 120h9v4h-9zM383 120h5v4h-5zM484 120h4v4h-4zM493 120h4v4h-4zM502 120h5v4h-5zM511 120h5v4h-5zM525 120h4v4h-4zM548 120h4v4h-4zM557 120h18v4h-18zM584 120h10v4h-10zM648 120h5v4h-5zM122 116h5v4h-5zM150 116h18v4h-18zM173 116h4v4h-4zM182 116h4v4h-4zM301 116h4v4h-4zM324 116h4v4h-4zM337 116h5v4h-5zM346 116h5v4h-5zM365 116h13v4h-13zM388 116h4v4h-4zM401 116h10v4h-10zM493 116h4v4h-4zM502 116h5v4h-5zM525 116h4v4h-4zM534 116h5v4h-5zM548 116h4v4h-4zM566 116h9v4h-9zM589 116h5v4h-5zM644 116h4v4h-4zM118 112h4v4h-4zM141 112h4v4h-4zM168 112h18v4h-18zM228 112h4v4h-4zM324 112h4v4h-4zM342 112h9v4h-9zM369 112h9v4h-9zM388 112h4v4h-4zM401 112h14v4h-14zM429 112h4v4h-4zM488 112h9v4h-9zM516 112h4v4h-4zM529 112h19v4h-19zM552 112h5v4h-5zM566 112h5v4h-5zM575 112h14v4h-14zM118 108h4v4h-4zM127 108h4v4h-4zM145 108h5v4h-5zM168 108h5v4h-5zM223 108h9v4h-9zM337 108h9v4h-9zM369 108h5v4h-5zM392 108h5v4h-5zM406 108h9v4h-9zM433 108h5v4h-5zM456 108h5v4h-5zM488 108h5v4h-5zM497 108h5v4h-5zM529 108h5v4h-5zM543 108h5v4h-5zM552 108h5v4h-5zM562 108h9v4h-9zM113 104h9v4h-9zM150 104h4v4h-4zM159 104h23v4h-23zM186 104h5v4h-5zM228 104h4v4h-4zM333 104h9v4h-9zM378 104h5v4h-5zM392 104h9v4h-9zM424 104h5v4h-5zM433 104h5v4h-5zM443 104h4v4h-4zM456 104h5v4h-5zM488 104h5v4h-5zM497 104h5v4h-5zM511 104h5v4h-5zM529 104h14v4h-14zM552 104h5v4h-5zM562 104h4v4h-4zM575 104h5v4h-5zM584 104h10v4h-10zM648 104h5v4h-5zM113 100h9v4h-9zM154 100h5v4h-5zM168 100h14v4h-14zM186 100h5v4h-5zM296 100h5v4h-5zM333 100h4v4h-4zM342 100h4v4h-4zM360 100h9v4h-9zM374 100h4v4h-4zM392 100h5v4h-5zM461 100h4v4h-4zM502 100h5v4h-5zM520 100h9v4h-9zM539 100h4v4h-4zM557 100h9v4h-9zM575 100h5v4h-5zM648 100h5v4h-5zM136 96h5v4h-5zM150 96h4v4h-4zM163 96h19v4h-19zM186 96h5v4h-5zM205 96h4v4h-4zM301 96h4v4h-4zM310 96h4v4h-4zM333 96h4v4h-4zM356 96h13v4h-13zM378 96h10v4h-10zM392 96h5v4h-5zM461 96h4v4h-4zM488 96h5v4h-5zM511 96h5v4h-5zM543 96h5v4h-5zM562 96h4v4h-4zM571 96h9v4h-9zM589 96h5v4h-5zM127 92h4v4h-4zM141 92h4v4h-4zM150 92h9v4h-9zM163 92h10v4h-10zM177 92h5v4h-5zM186 92h5v4h-5zM200 92h5v4h-5zM301 92h4v4h-4zM314 92h5v4h-5zM328 92h5v4h-5zM356 92h9v4h-9zM374 92h4v4h-4zM388 92h4v4h-4zM411 92h4v4h-4zM470 92h9v4h-9zM484 92h4v4h-4zM502 92h5v4h-5zM520 92h14v4h-14zM539 92h4v4h-4zM557 92h5v4h-5zM566 92h9v4h-9zM589 92h5v4h-5zM630 92h5v4h-5zM104 88h5v4h-5zM122 88h5v4h-5zM141 88h4v4h-4zM150 88h4v4h-4zM163 88h10v4h-10zM182 88h4v4h-4zM301 88h4v4h-4zM346 88h5v4h-5zM356 88h4v4h-4zM369 88h5v4h-5zM388 88h9v4h-9zM406 88h9v4h-9zM479 88h5v4h-5zM493 88h4v4h-4zM502 88h14v4h-14zM529 88h5v4h-5zM539 88h4v4h-4zM557 88h9v4h-9zM580 88h4v4h-4zM630 88h5v4h-5zM104 84h5v4h-5zM131 84h5v4h-5zM141 84h4v4h-4zM163 84h5v4h-5zM182 84h4v4h-4zM328 84h5v4h-5zM351 84h5v4h-5zM360 84h5v4h-5zM369 84h5v4h-5zM378 84h5v4h-5zM388 84h4v4h-4zM401 84h5v4h-5zM411 84h4v4h-4zM433 84h5v4h-5zM456 84h5v4h-5zM479 84h5v4h-5zM502 84h5v4h-5zM516 84h4v4h-4zM525 84h4v4h-4zM539 84h4v4h-4zM557 84h5v4h-5zM580 84h4v4h-4zM594 84h4v4h-4zM104 80h5v4h-5zM168 80h5v4h-5zM292 80h4v4h-4zM310 80h4v4h-4zM328 80h5v4h-5zM346 80h10v4h-10zM369 80h5v4h-5zM388 80h4v4h-4zM397 80h4v4h-4zM420 80h4v4h-4zM443 80h9v4h-9zM479 80h9v4h-9zM502 80h5v4h-5zM520 80h5v4h-5zM529 80h5v4h-5zM539 80h4v4h-4zM562 80h9v4h-9zM575 80h14v4h-14zM594 80h4v4h-4zM163 76h10v4h-10zM177 76h5v4h-5zM186 76h5v4h-5zM200 76h5v4h-5zM310 76h14v4h-14zM337 76h9v4h-9zM351 76h5v4h-5zM369 76h5v4h-5zM388 76h13v4h-13zM406 76h5v4h-5zM475 76h4v4h-4zM488 76h5v4h-5zM502 76h5v4h-5zM511 76h5v4h-5zM520 76h5v4h-5zM566 76h28v4h-28zM131 71h10v5h-10zM145 71h5v5h-5zM154 71h5v5h-5zM182 71h9v5h-9zM296 71h5v5h-5zM310 71h4v5h-4zM342 71h9v5h-9zM356 71h4v5h-4zM369 71h5v5h-5zM383 71h5v5h-5zM392 71h9v5h-9zM415 71h5v5h-5zM470 71h18v5h-18zM511 71h5v5h-5zM534 71h5v5h-5zM552 71h5v5h-5zM575 71h5v5h-5zM589 71h5v5h-5zM648 71h5v5h-5zM104 67h5v4h-5zM122 67h5v4h-5zM150 67h9v4h-9zM173 67h4v4h-4zM182 67h9v4h-9zM196 67h4v4h-4zM305 67h5v4h-5zM319 67h5v4h-5zM342 67h9v4h-9zM356 67h4v4h-4zM392 67h9v4h-9zM433 67h5v4h-5zM507 67h9v4h-9zM529 67h5v4h-5zM548 67h9v4h-9zM571 67h4v4h-4zM584 67h10v4h-10zM648 67h5v4h-5zM104 63h5v4h-5zM150 63h9v4h-9zM186 63h5v4h-5zM241 63h5v4h-5zM296 63h5v4h-5zM305 63h5v4h-5zM319 63h5v4h-5zM342 63h4v4h-4zM356 63h4v4h-4zM365 63h4v4h-4zM392 63h9v4h-9zM415 63h14v4h-14zM484 63h4v4h-4zM502 63h9v4h-9zM520 63h5v4h-5zM529 63h10v4h-10zM543 63h5v4h-5zM562 63h4v4h-4zM575 63h5v4h-5zM589 63h5v4h-5zM278 59h4v4h-4zM292 59h18v4h-18zM324 59h4v4h-4zM333 59h4v4h-4zM346 59h5v4h-5zM356 59h4v4h-4zM365 59h4v4h-4zM378 59h5v4h-5zM388 59h9v4h-9zM420 59h4v4h-4zM443 59h4v4h-4zM470 59h5v4h-5zM507 59h9v4h-9zM534 59h9v4h-9zM552 59h5v4h-5zM566 59h5v4h-5zM575 59h19v4h-19zM113 55h5v4h-5zM131 55h5v4h-5zM159 55h4v4h-4zM177 55h5v4h-5zM296 55h9v4h-9zM310 55h9v4h-9zM324 55h4v4h-4zM333 55h13v4h-13zM374 55h9v4h-9zM392 55h9v4h-9zM484 55h4v4h-4zM507 55h22v4h-22zM534 55h9v4h-9zM557 55h9v4h-9zM571 55h4v4h-4zM131 51h5v4h-5zM177 51h5v4h-5zM287 51h14v4h-14zM310 51h4v4h-4zM333 51h4v4h-4zM346 51h5v4h-5zM356 51h4v4h-4zM374 51h9v4h-9zM392 51h5v4h-5zM470 51h5v4h-5zM507 51h18v4h-18zM548 51h4v4h-4zM557 51h9v4h-9zM571 51h18v4h-18zM109 47h4v4h-4zM136 47h5v4h-5zM168 47h9v4h-9zM278 47h4v4h-4zM292 47h18v4h-18zM319 47h5v4h-5zM328 47h9v4h-9zM346 47h5v4h-5zM356 47h4v4h-4zM369 47h5v4h-5zM406 47h5v4h-5zM461 47h4v4h-4zM497 47h23v4h-23zM525 47h14v4h-14zM548 47h4v4h-4zM557 47h5v4h-5zM566 47h14v4h-14zM589 47h5v4h-5zM648 47h5v4h-5zM109 45h4v2h-4zM122 45h5v2h-5zM145 45h5v2h-5zM173 45h4v2h-4zM287 45h9v2h-9zM342 45h4v2h-4zM356 45h4v2h-4zM378 45h5v2h-5zM388 45h4v2h-4zM401 45h5v2h-5zM411 45h4v2h-4zM488 45h19v2h-19zM511 45h28v2h-28zM548 45h4v2h-4zM566 45h14v2h-14zM584 45h10v2h-10z"/></g></g>
<g shape-rendering="crispEdges"><rect x="675" y="527.34" width="28" height="7.96" fill="#00008f"/><rect x="675" y="519.69" width="28" height="7.96" fill="#00009f"/><rect x="675" y="512.03" width="28" height="7.96" fill="#0000af"/><rect x="675" y="504.38" width="28" height="7.96" fill="#0000bf"/><rect x="675" y="496.72" width="28" height="7.96" fill="#0000cf"/><rect x="675" y="489.06" width="28" height="7.96" fill="#0000df"/><rect x="675" y="481.41" width="28" height="7.96" fill="#0000ef"/><rect x="675" y="473.75" width="28" height="7.96" fill="#0000ff"/><rect x="675" y="466.09" width="28" height="7.96" fill="#0010ff"/><rect x="675" y="458.44" width="28" height="7.96" fill="#0020ff"/><rect x="675" y="450.78" width="28" height="7.96" fill="#0030ff"/><rect x="675" y="443.12" width="28" height="7.96" fill="#0040ff"/><rect x="675" y="435.47" width="28" height="7.96" fill="#0050ff"/><rect x="675" y="427.81" width="28" height="7.96" fill="#0060ff"/><rect x="675" y="420.16" width="28" height="7.96" fill="#0070ff"/><rect x="675" y="412.50" width="28" height="7.96" fill="#0080ff"/><rect x="675" y="404.84" width="28" height="7.96" fill="#008fff"/><rect x="675" y="397.19" width="28" height="7.96" fill="#009fff"/><rect x="675" y="389.53" width="28" height="7.96" fill="#00afff"/><rect x="675" y="381.88" width="28" height="7.96" fill="#00bfff"/><rect x="675" y="374.22" width="28" height="7.96" fill="#00cfff"/><rect x="675" y="366.56" width="28" height="7.96" fill="#00dfff"/><rect x="675" y="358.91" width="28" height="7.96" fill="#00efff"/><rect x="675" y="351.25" width="28" height="7.96" fill="#00ffff"/><rect x="675" y="343.59" width="28" height="7.96" fill="#10ffef"/><rect x="675" y="335.94" width="28" height="7.96" fill="#20ffdf"/><rect x="675" y="328.28" width="28" height="7.96" fill="#30ffcf"/><rect x="675" y="320.62" width="28" height="7.96" fill="#40ffbf"/><rect x="675" y="312.97" width="28" height="7.96" fill="#50ffaf"/><rect x="675" y="305.31" width="28" height="7.96" fill="#60ff9f"/><rect x="675" y="297.66" width="28" height="7.96" fill="#70ff8f"/><rect x="675" y="290.00" width="28" height="7.96" fill="#80ff80"/><rect x="675" y="282.34" width="28" height="7.96" fill="#8fff70"/><rect x="675" y="274.69" width="28" height="7.96" fill="#9fff60"/><rect x="675" y="267.03" width="28" height="7.96" fill="#afff50"/><rect x="675" y="259.38" width="28" height="7.96" fill="#bfff40"/><rect x="675" y="251.72" width="28" height="7.96" fill="#cfff30"/><rect x="675" y="244.06" width="28" height="7.96" fill="#dfff20"/><rect x="675" y="236.41" width="28" height="7.96" fill="#efff10"/><rect x="675" y="228.75" width="28" height="7.96" fill="#ffff00"/><rect x="675" y="221.09" width="28" height="7.96" fill="#ffef00"/><rect x="675" y="213.44" width="28" height="7.96" fill="#ffdf00"/><rect x="675" y="205.78" width="28" height="7.96" fill="#ffcf00"/><rect x="675" y="198.12" width="28" height="7.96" fill="#ffbf00"/><rect x="675" y="190.47" width="28" height="7.96" fill="#ffaf00"/><rect x="675" y="182.81" width="28" height="7.96" fill="#ff9f00"/><rect x="675" y="175.16" width="28" height="7.96" fill="#ff8f00"/><rect x="675" y="167.50" width="28" height="7.96" fill="#ff8000"/><rect x="675" y="159.84" width="28" height="7.96" fill="#ff7000"/><rect x="675" y="152.19" width="28" height="7.96" fill="#ff6000"/><rect x="675" y="144.53" width="28" height="7.96" fill="#ff5000"/><rect x="675" y="136.88" width="28" height="7.96" fill="#ff4000"/><rect x="675" y="129.22" width="28" height="7.96" fill="#ff3000"/><rect x="675" y="121.56" width="28" height="7.96" fill="#ff2000"/><rect x="675" y="113.91" width="28" height="7.96" fill="#ff1000"/><rect x="675" y="106.25" width="28" height="7.96" fill="#ff0000"/><rect x="675" y="98.59" width="28" height="7.96" fill="#ef0000"/><rect x="675" y="90.94" width="28" height="7.96" fill="#df0000"/><rect x="675" y="83.28" width="28" height="7.96" fill="#cf0000"/><rect x="675" y="75.62" width="28" height="7.96" fill="#bf0000"/><rect x="675" y="67.97" width="28" height="7.96" fill="#af0000"/><rect x="675" y="60.31" width="28" height="7.96" fill="#9f0000"/><rect x="675" y="52.66" width="28" height="7.96" fill="#8f0000"/><rect x="675" y="45.00" width="28" height="7.96" fill="#800000"/></g>
<g stroke="#000" stroke-width="1" fill="none" shape-rendering="crispEdges">
<rect x="104.5" y="45.5" width="548.5" height="489" />
<rect x="675.5" y="45.5" width="27.5" height="490" />
<path d="M172.6 534v-5.5M172.6 45v5.5"/><path d="M241.2 534v-5.5M241.2 45v5.5"/><path d="M309.9 534v-5.5M309.9 45v5.5"/><path d="M378.5 534v-5.5M378.5 45v5.5"/><path d="M447.1 534v-5.5M447.1 45v5.5"/><path d="M515.8 534v-5.5M515.8 45v5.5"/><path d="M584.4 534v-5.5M584.4 45v5.5"/><path d="M104 455.8h5.5M653 455.8h-5.5"/><path d="M104 377.5h5.5M653 377.5h-5.5"/><path d="M104 299.3h5.5M653 299.3h-5.5"/><path d="M104 221.0h5.5M653 221.0h-5.5"/><path d="M104 142.8h5.5M653 142.8h-5.5"/><path d="M104 64.6h5.5M653 64.6h-5.5"/><path d="M675 453.3h4.5M703 453.3h-4.5"/><path d="M675 371.7h4.5M703 371.7h-4.5"/><path d="M675 290.0h4.5M703 290.0h-4.5"/><path d="M675 208.3h4.5M703 208.3h-4.5"/><path d="M675 126.7h4.5M703 126.7h-4.5"/>
</g>
<g><text x="103.4" y="550.5" text-anchor="middle">0</text><text x="172.0" y="550.5" text-anchor="middle">3</text><text x="240.7" y="550.5" text-anchor="middle">6</text><text x="309.3" y="550.5" text-anchor="middle">9</text><text x="377.9" y="550.5" text-anchor="middle">12</text><text x="446.5" y="550.5" text-anchor="middle">15</text><text x="515.1" y="550.5" text-anchor="middle">18</text><text x="583.8" y="550.5" text-anchor="middle">21</text><text x="652.4" y="550.5" text-anchor="middle">24</text><text x="99.5" y="538.4" text-anchor="end">0</text><text x="99.5" y="460.2" text-anchor="end">20</text><text x="99.5" y="381.9" text-anchor="end">40</text><text x="99.5" y="303.7" text-anchor="end">60</text><text x="99.5" y="225.4" text-anchor="end">80</text><text x="99.5" y="147.2" text-anchor="end">100</text><text x="99.5" y="69.0" text-anchor="end">120</text><text x="706.5" y="540.2">-30</text><text x="706.5" y="458.5">-20</text><text x="706.5" y="376.9">-10</text><text x="706.5" y="295.2">0</text><text x="706.5" y="213.5">10</text><text x="706.5" y="131.9">20</text><text x="706.5" y="50.2">30</text></g>
<text x="376" y="32" text-anchor="middle" style="font-size:29px">2025 Oct 11</text>
<text transform="translate(68 290) rotate(-90)" text-anchor="middle" style="font-size:13px">frequency in mHz</text>
</svg>
</body></html>
